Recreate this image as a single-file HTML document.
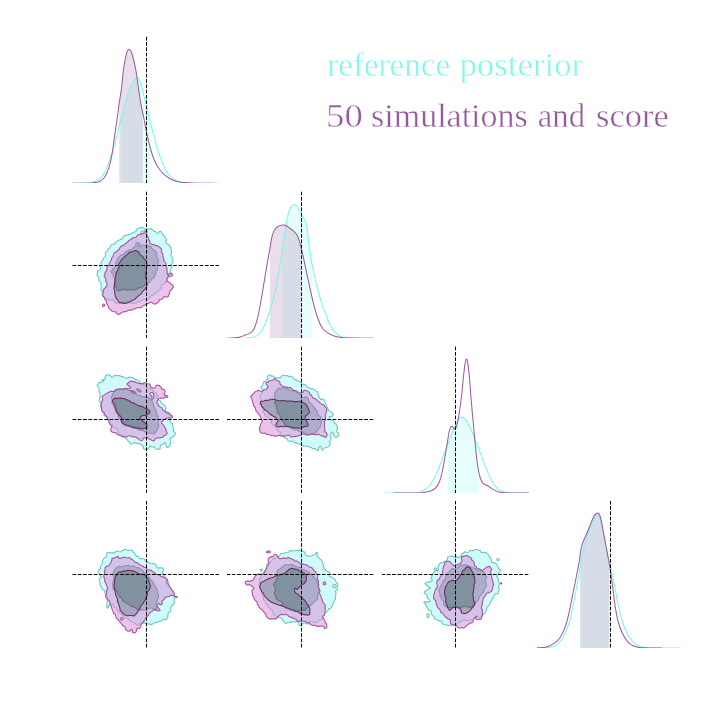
<!DOCTYPE html>
<html><head><meta charset="utf-8"><title>corner plot</title>
<style>html,body{margin:0;padding:0;background:#fff}svg{display:block}text{font-family:"Liberation Serif",serif}</style></head><body>
<svg width="720" height="720" viewBox="0 0 720 720">
<rect width="720" height="720" fill="#fff"/>
<defs>
<clipPath id="c00"><rect x="72" y="36" width="147" height="147"/></clipPath>
<clipPath id="c10"><rect x="72" y="191" width="147" height="147"/></clipPath>
<clipPath id="c11"><rect x="227" y="191" width="147" height="147"/></clipPath>
<clipPath id="c20"><rect x="72" y="346" width="147" height="147"/></clipPath>
<clipPath id="c21"><rect x="227" y="346" width="147" height="147"/></clipPath>
<clipPath id="c22"><rect x="382" y="346" width="147" height="147"/></clipPath>
<clipPath id="c30"><rect x="72" y="501" width="147" height="147"/></clipPath>
<clipPath id="c31"><rect x="227" y="501" width="147" height="147"/></clipPath>
<clipPath id="c32"><rect x="382" y="501" width="147" height="147"/></clipPath>
<clipPath id="c33"><rect x="537" y="501" width="147" height="147"/></clipPath>
</defs>
<g clip-path="url(#c00)">
<path d="M120.80 183.47 L120.80 120.21 L121.18 118.71 L121.70 116.70 L122.22 114.74 L122.73 112.80 L123.24 110.89 L123.75 109.00 L124.26 107.14 L124.77 105.30 L125.28 103.49 L125.80 101.70 L126.32 99.91 L126.84 98.12 L127.37 96.33 L127.89 94.58 L128.42 92.88 L128.95 91.25 L129.47 89.72 L130.00 88.30 L130.53 86.98 L131.08 85.74 L131.64 84.58 L132.19 83.50 L132.73 82.50 L133.25 81.58 L133.74 80.75 L134.20 80.00 L134.62 79.32 L134.99 78.70 L135.34 78.15 L135.67 77.69 L136.00 77.33 L136.32 77.08 L136.65 76.97 L137.00 77.00 L137.36 77.17 L137.73 77.47 L138.10 77.90 L138.47 78.44 L138.84 79.09 L139.22 79.86 L139.61 80.73 L140.00 81.70 L140.40 82.81 L140.80 84.07 L141.21 85.47 L141.62 86.96 L142.04 88.51 L142.46 90.11 L142.88 91.72 L143.30 93.30 L143.72 94.88 L144.15 96.49 L144.57 98.12 L145.00 99.79 L145.43 101.48 L145.85 103.20 L146.28 104.94 L146.70 106.70 L147.11 108.50 L147.51 110.34 L147.91 112.21 L148.30 114.10 L148.70 116.00 L149.11 117.91 L149.55 119.81 L150.00 121.70 L150.48 123.58 L150.80 124.75 L150.80 183.47 Z" fill="#80F8EC" fill-opacity="0.2"/>
<path d="M119.20 183.47 L119.20 103.30 L119.20 103.30 L119.50 101.22 L119.82 99.15 L120.15 97.07 L120.48 95.00 L120.81 92.93 L121.12 90.85 L121.42 88.78 L121.70 86.70 L121.94 84.60 L122.16 82.48 L122.36 80.35 L122.54 78.22 L122.73 76.11 L122.93 74.02 L123.15 71.98 L123.40 70.00 L123.69 68.02 L124.01 65.99 L124.35 63.97 L124.71 62.00 L125.06 60.12 L125.40 58.38 L125.72 56.83 L126.00 55.50 L126.25 54.42 L126.47 53.56 L126.68 52.88 L126.87 52.34 L127.05 51.90 L127.23 51.53 L127.41 51.17 L127.60 50.80 L127.79 50.43 L127.98 50.10 L128.17 49.83 L128.35 49.60 L128.53 49.42 L128.72 49.30 L128.91 49.22 L129.10 49.20 L129.29 49.23 L129.49 49.33 L129.68 49.47 L129.87 49.66 L130.07 49.91 L130.28 50.19 L130.48 50.53 L130.70 50.90 L130.91 51.27 L131.12 51.61 L131.33 51.98 L131.55 52.40 L131.78 52.92 L132.03 53.59 L132.30 54.43 L132.60 55.50 L132.94 56.82 L133.33 58.38 L133.74 60.12 L134.16 61.99 L134.59 63.97 L135.02 65.99 L135.42 68.01 L135.80 70.00 L136.15 71.98 L136.47 74.02 L136.79 76.11 L137.09 78.22 L137.39 80.35 L137.69 82.48 L137.99 84.60 L138.30 86.70 L138.61 88.78 L138.90 90.85 L139.20 92.93 L139.49 95.00 L139.80 97.07 L140.11 99.15 L140.44 101.22 L140.80 103.30 L141.18 105.38 L141.59 107.47 L142.01 109.56 L142.45 111.64 L142.80 113.30 L142.80 183.47 Z" fill="#96589A" fill-opacity="0.2"/>
<path d="M72.00 183.15C73.67 183.15 79.28 183.22 82.00 183.15C84.72 183.08 86.13 183.06 88.30 182.75C90.47 182.44 93.05 182.04 95.00 181.30C96.95 180.56 98.33 179.90 100.00 178.30C101.67 176.70 103.47 174.47 105.00 171.70C106.53 168.93 107.82 165.60 109.20 161.70C110.58 157.80 111.92 153.03 113.30 148.30C114.68 143.57 116.10 138.57 117.50 133.30C118.90 128.03 120.32 121.97 121.70 116.70C123.08 111.43 124.42 106.43 125.80 101.70C127.18 96.97 128.60 91.92 130.00 88.30C131.40 84.68 133.03 81.88 134.20 80.00C135.37 78.12 136.03 76.72 137.00 77.00C137.97 77.28 138.95 78.98 140.00 81.70C141.05 84.42 142.18 89.13 143.30 93.30C144.42 97.47 145.58 101.97 146.70 106.70C147.82 111.43 148.75 116.70 150.00 121.70C151.25 126.70 152.82 131.70 154.20 136.70C155.58 141.70 156.78 146.98 158.30 151.70C159.82 156.42 161.63 161.25 163.30 165.00C164.97 168.75 166.35 171.70 168.30 174.20C170.25 176.70 173.13 178.67 175.00 180.00C176.87 181.33 178.00 181.69 179.50 182.20C181.00 182.71 181.42 182.86 184.00 183.05C186.58 183.24 189.17 183.30 195.00 183.35C200.83 183.40 215.00 183.35 219.00 183.35" fill="none" stroke="#78F7EA" stroke-width="1.02"/>
<path d="M72.00 183.15C74.67 183.15 84.50 183.20 88.00 183.15C91.50 183.10 91.58 182.99 93.00 182.85C94.42 182.71 95.33 182.56 96.50 182.30C97.67 182.04 98.58 182.23 100.00 181.30C101.42 180.37 103.47 179.13 105.00 176.70C106.53 174.27 108.00 170.60 109.20 166.70C110.40 162.80 111.32 158.30 112.20 153.30C113.08 148.30 113.70 142.25 114.50 136.70C115.30 131.15 116.22 125.57 117.00 120.00C117.78 114.43 118.42 108.85 119.20 103.30C119.98 97.75 121.00 92.25 121.70 86.70C122.40 81.15 122.68 75.20 123.40 70.00C124.12 64.80 125.30 58.70 126.00 55.50C126.70 52.30 127.08 51.85 127.60 50.80C128.12 49.75 128.58 49.18 129.10 49.20C129.62 49.22 130.12 49.85 130.70 50.90C131.28 51.95 131.75 52.32 132.60 55.50C133.45 58.68 134.85 64.80 135.80 70.00C136.75 75.20 137.47 81.15 138.30 86.70C139.13 92.25 139.82 97.75 140.80 103.30C141.78 108.85 143.08 114.43 144.20 120.00C145.32 125.57 146.40 131.70 147.50 136.70C148.60 141.70 149.55 145.83 150.80 150.00C152.05 154.17 153.47 158.37 155.00 161.70C156.53 165.03 158.05 167.50 160.00 170.00C161.95 172.50 164.48 174.98 166.70 176.70C168.92 178.42 171.25 179.47 173.30 180.30C175.35 181.13 177.05 181.33 179.00 181.70C180.95 182.07 182.67 182.28 185.00 182.50C187.33 182.72 190.00 182.87 193.00 183.00C196.00 183.13 198.67 183.23 203.00 183.30C207.33 183.37 216.33 183.38 219.00 183.40" fill="none" stroke="#985A9C" stroke-width="1.02"/>
</g>
<g clip-path="url(#c11)">
<path d="M282.00 338.31 L282.00 251.39 L282.00 251.35 L282.31 249.47 L282.61 247.62 L282.91 245.79 L283.20 243.97 L283.50 242.12 L283.80 240.24 L284.10 238.30 L284.40 236.26 L284.70 234.11 L285.00 231.91 L285.31 229.69 L285.61 227.52 L285.91 225.43 L286.20 223.47 L286.50 221.70 L286.79 220.09 L287.08 218.60 L287.37 217.21 L287.66 215.92 L287.95 214.73 L288.23 213.61 L288.52 212.57 L288.80 211.60 L289.07 210.71 L289.33 209.92 L289.59 209.22 L289.84 208.60 L290.11 208.04 L290.38 207.53 L290.68 207.05 L291.00 206.60 L291.36 206.17 L291.75 205.78 L292.16 205.43 L292.58 205.13 L293.01 204.88 L293.43 204.69 L293.83 204.56 L294.20 204.50 L294.55 204.51 L294.87 204.59 L295.19 204.73 L295.49 204.93 L295.79 205.18 L296.09 205.48 L296.39 205.82 L296.70 206.20 L297.01 206.63 L297.31 207.12 L297.60 207.66 L297.90 208.24 L298.20 208.85 L298.52 209.49 L298.85 210.14 L299.20 210.80 L299.58 211.49 L299.99 212.23 L300.41 213.00 L300.85 213.78 L301.29 214.56 L301.71 215.32 L302.12 216.04 L302.50 216.70 L302.86 217.29 L303.20 217.81 L303.53 218.29 L303.85 218.75 L304.16 219.21 L304.45 219.69 L304.73 220.21 L305.00 220.80 L305.25 221.41 L305.48 222.01 L305.70 222.63 L305.91 223.28 L306.10 223.99 L306.30 224.78 L306.50 225.68 L306.70 226.70 L306.90 227.86 L307.10 229.16 L307.30 230.55 L307.50 232.03 L307.70 233.57 L307.90 235.14 L308.10 236.72 L308.30 238.30 L308.50 239.88 L308.70 241.49 L308.90 243.12 L309.09 244.79 L309.30 246.48 L309.52 248.20 L309.75 249.94 L310.00 251.70 L310.27 253.50 L310.55 255.34 L310.84 257.21 L311.15 259.10 L311.47 261.00 L311.80 262.91 L312.00 264.02 L312.00 338.31 Z" fill="#80F8EC" fill-opacity="0.2"/>
<path d="M269.90 338.31 L269.90 248.29 L270.19 246.71 L270.50 245.00 L270.77 243.47 L271.00 242.09 L271.21 240.85 L271.39 239.72 L271.58 238.67 L271.76 237.69 L271.97 236.74 L272.20 235.80 L272.45 234.90 L272.72 234.05 L272.99 233.27 L273.27 232.53 L273.56 231.84 L273.86 231.19 L274.17 230.58 L274.50 230.00 L274.83 229.46 L275.15 228.96 L275.49 228.51 L275.83 228.09 L276.20 227.71 L276.59 227.35 L277.02 227.02 L277.50 226.70 L278.04 226.40 L278.65 226.11 L279.30 225.85 L279.98 225.61 L280.66 225.41 L281.32 225.23 L281.94 225.10 L282.50 225.00 L282.99 224.94 L283.42 224.92 L283.82 224.93 L284.20 224.97 L284.57 225.05 L284.95 225.16 L285.36 225.31 L285.80 225.50 L286.28 225.74 L286.79 226.02 L287.31 226.36 L287.84 226.72 L288.39 227.10 L288.93 227.50 L289.47 227.91 L290.00 228.30 L290.53 228.69 L291.07 229.09 L291.61 229.50 L292.16 229.92 L292.69 230.35 L293.21 230.79 L293.72 231.24 L294.20 231.70 L294.66 232.16 L295.11 232.60 L295.54 233.04 L295.96 233.49 L296.36 233.98 L296.75 234.52 L297.13 235.12 L297.50 235.80 L297.85 236.56 L298.18 237.38 L298.50 238.25 L298.80 239.18 L299.10 240.15 L299.39 241.17 L299.69 242.22 L300.00 243.30 L300.31 244.42 L300.62 245.58 L300.90 246.65 L300.90 338.31 Z" fill="#96589A" fill-opacity="0.2"/>
<path d="M227.00 338.20C229.17 338.20 236.67 338.25 240.00 338.20C243.33 338.15 244.63 338.12 247.00 337.90C249.37 337.68 252.13 337.59 254.20 336.90C256.27 336.21 257.85 335.32 259.40 333.75C260.95 332.18 262.12 330.29 263.50 327.50C264.88 324.71 266.48 320.30 267.70 317.00C268.92 313.70 269.83 310.87 270.80 307.70C271.77 304.53 272.67 301.23 273.50 298.00C274.33 294.77 274.85 292.97 275.80 288.30C276.75 283.63 278.22 275.83 279.20 270.00C280.18 264.17 280.88 258.58 281.70 253.30C282.52 248.02 283.30 243.57 284.10 238.30C284.90 233.03 285.72 226.15 286.50 221.70C287.28 217.25 288.05 214.12 288.80 211.60C289.55 209.08 290.10 207.78 291.00 206.60C291.90 205.42 293.25 204.57 294.20 204.50C295.15 204.43 295.87 205.15 296.70 206.20C297.53 207.25 298.23 209.05 299.20 210.80C300.17 212.55 301.53 215.03 302.50 216.70C303.47 218.37 304.30 219.13 305.00 220.80C305.70 222.47 306.15 223.78 306.70 226.70C307.25 229.62 307.75 234.13 308.30 238.30C308.85 242.47 309.30 246.97 310.00 251.70C310.70 256.43 311.53 261.70 312.50 266.70C313.47 271.70 314.68 276.98 315.80 281.70C316.92 286.42 318.08 291.07 319.20 295.00C320.32 298.93 321.37 301.97 322.50 305.30C323.63 308.63 324.72 311.65 326.00 315.00C327.28 318.35 328.63 322.45 330.20 325.40C331.77 328.35 333.67 330.87 335.40 332.70C337.13 334.53 338.50 335.55 340.60 336.40C342.70 337.25 345.43 337.50 348.00 337.80C350.57 338.10 351.67 338.13 356.00 338.20C360.33 338.27 371.00 338.20 374.00 338.20" fill="none" stroke="#78F7EA" stroke-width="1.02"/>
<path d="M227.00 338.20C228.00 338.15 230.90 338.05 233.00 337.90C235.10 337.75 237.47 337.82 239.60 337.30C241.73 336.78 243.90 335.57 245.80 334.80C247.70 334.03 249.60 333.75 251.00 332.70C252.40 331.65 253.15 330.75 254.20 328.50C255.25 326.25 256.23 323.45 257.30 319.20C258.37 314.95 259.45 309.25 260.60 303.00C261.75 296.75 263.05 288.58 264.20 281.70C265.35 274.82 266.45 267.82 267.50 261.70C268.55 255.58 269.72 249.32 270.50 245.00C271.28 240.68 271.53 238.30 272.20 235.80C272.87 233.30 273.62 231.52 274.50 230.00C275.38 228.48 276.17 227.53 277.50 226.70C278.83 225.87 281.12 225.20 282.50 225.00C283.88 224.80 284.55 224.95 285.80 225.50C287.05 226.05 288.60 227.27 290.00 228.30C291.40 229.33 292.95 230.45 294.20 231.70C295.45 232.95 296.53 233.87 297.50 235.80C298.47 237.73 299.17 240.38 300.00 243.30C300.83 246.22 301.67 249.68 302.50 253.30C303.33 256.92 304.17 261.10 305.00 265.00C305.83 268.90 306.67 272.82 307.50 276.70C308.33 280.58 309.08 284.13 310.00 288.30C310.92 292.47 311.88 297.25 313.00 301.70C314.12 306.15 315.40 311.05 316.70 315.00C318.00 318.95 319.25 322.62 320.80 325.40C322.35 328.18 323.92 329.97 326.00 331.70C328.08 333.43 330.68 334.83 333.30 335.80C335.92 336.77 338.25 337.13 341.70 337.50C345.15 337.87 348.62 337.88 354.00 338.00C359.38 338.12 370.67 338.17 374.00 338.20" fill="none" stroke="#985A9C" stroke-width="1.02"/>
</g>
<g clip-path="url(#c22)">
<path d="M447.70 493.15 L447.70 444.86 L447.78 444.65 L448.30 443.30 L448.83 441.88 L449.36 440.39 L449.91 438.86 L450.45 437.32 L450.99 435.80 L451.51 434.34 L452.02 432.96 L452.50 431.70 L452.95 430.55 L453.39 429.49 L453.80 428.50 L454.20 427.57 L454.59 426.69 L454.99 425.84 L455.39 425.01 L455.80 424.20 L456.22 423.39 L456.65 422.60 L457.09 421.82 L457.52 421.09 L457.95 420.40 L458.38 419.76 L458.79 419.19 L459.20 418.70 L459.60 418.28 L459.98 417.93 L460.36 417.63 L460.74 417.40 L461.11 417.22 L461.47 417.10 L461.84 417.02 L462.20 417.00 L462.56 417.02 L462.90 417.10 L463.24 417.22 L463.58 417.40 L463.92 417.63 L464.27 417.93 L464.63 418.28 L465.00 418.70 L465.39 419.20 L465.79 419.78 L466.20 420.44 L466.61 421.14 L467.03 421.89 L467.46 422.66 L467.88 423.43 L468.30 424.20 L468.72 424.96 L469.15 425.73 L469.57 426.52 L470.00 427.32 L470.43 428.14 L470.85 429.00 L471.28 429.88 L471.70 430.80 L472.11 431.75 L472.51 432.72 L472.91 433.71 L473.30 434.74 L473.70 435.80 L474.11 436.89 L474.55 438.02 L475.00 439.20 L475.48 440.43 L475.99 441.73 L476.52 443.07 L477.06 444.44 L477.60 445.83 L478.14 447.23 L478.30 447.64 L478.30 493.15 Z" fill="#80F8EC" fill-opacity="0.2"/>
<path d="M384.00 493.10C388.67 493.10 406.25 493.17 412.00 493.10C417.75 493.03 416.37 493.30 418.50 492.70C420.63 492.10 422.88 490.82 424.80 489.50C426.72 488.18 428.27 486.97 430.00 484.80C431.73 482.63 433.50 479.88 435.20 476.50C436.90 473.12 438.70 468.30 440.20 464.50C441.70 460.70 442.85 457.23 444.20 453.70C445.55 450.17 446.92 446.97 448.30 443.30C449.68 439.63 451.25 434.88 452.50 431.70C453.75 428.52 454.68 426.37 455.80 424.20C456.92 422.03 458.13 419.90 459.20 418.70C460.27 417.50 461.23 417.00 462.20 417.00C463.17 417.00 463.98 417.50 465.00 418.70C466.02 419.90 467.18 422.18 468.30 424.20C469.42 426.22 470.58 428.30 471.70 430.80C472.82 433.30 473.75 436.00 475.00 439.20C476.25 442.40 477.83 446.37 479.20 450.00C480.57 453.63 481.85 457.46 483.20 461.00C484.55 464.54 485.92 467.98 487.30 471.25C488.68 474.52 489.93 477.83 491.50 480.60C493.07 483.38 494.97 486.10 496.70 487.90C498.43 489.70 499.82 490.58 501.90 491.40C503.98 492.22 506.52 492.52 509.20 492.80C511.88 493.08 514.70 493.05 518.00 493.10C521.30 493.15 527.17 493.10 529.00 493.10" fill="none" stroke="#78F7EA" stroke-width="1.02"/>
<path d="M393.50 493.10C397.08 493.10 410.30 493.15 415.00 493.10C419.70 493.05 419.20 493.10 421.70 492.80C424.20 492.50 427.75 492.05 430.00 491.30C432.25 490.55 433.63 489.90 435.20 488.30C436.77 486.70 438.18 484.67 439.40 481.70C440.62 478.73 441.57 474.67 442.50 470.50C443.43 466.33 444.17 461.50 445.00 456.70C445.83 451.90 446.80 445.87 447.50 441.70C448.20 437.53 448.65 434.17 449.20 431.70C449.75 429.23 450.30 427.80 450.80 426.90C451.30 426.00 451.70 426.07 452.20 426.30C452.70 426.53 453.33 427.82 453.80 428.30C454.27 428.78 454.52 429.62 455.00 429.20C455.48 428.78 456.00 428.45 456.70 425.80C457.40 423.15 458.37 418.43 459.20 413.30C460.03 408.17 461.02 400.83 461.70 395.00C462.38 389.17 462.75 383.43 463.30 378.30C463.85 373.17 464.50 367.38 465.00 364.20C465.50 361.02 465.88 359.62 466.30 359.20C466.72 358.78 467.02 359.07 467.50 361.70C467.98 364.33 468.65 369.45 469.20 375.00C469.75 380.55 470.25 388.33 470.80 395.00C471.35 401.67 471.93 408.62 472.50 415.00C473.07 421.38 473.65 427.47 474.20 433.30C474.75 439.13 475.22 444.55 475.80 450.00C476.38 455.45 476.93 461.25 477.70 466.00C478.47 470.75 479.50 475.62 480.40 478.50C481.30 481.38 481.78 482.01 483.10 483.30C484.42 484.59 486.57 485.20 488.30 486.25C490.03 487.30 491.76 488.66 493.50 489.60C495.24 490.54 496.83 491.37 498.75 491.90C500.67 492.43 502.29 492.60 505.00 492.80C507.71 493.00 511.00 493.05 515.00 493.10C519.00 493.15 526.67 493.10 529.00 493.10" fill="none" stroke="#985A9C" stroke-width="1.02"/>
</g>
<g clip-path="url(#c33)">
<path d="M580.20 647.99 L580.20 567.34 L580.20 567.32 L580.51 565.43 L580.80 563.59 L581.10 561.79 L581.39 560.03 L581.70 558.30 L582.01 556.61 L582.31 554.96 L582.60 553.35 L582.90 551.79 L583.20 550.25 L583.52 548.75 L583.85 547.26 L584.20 545.80 L584.57 544.36 L584.97 542.94 L585.38 541.56 L585.80 540.19 L586.23 538.86 L586.66 537.55 L587.08 536.26 L587.50 535.00 L587.91 533.76 L588.32 532.55 L588.73 531.36 L589.14 530.19 L589.56 529.06 L589.97 527.94 L590.38 526.86 L590.80 525.80 L591.22 524.75 L591.65 523.71 L592.07 522.68 L592.50 521.68 L592.93 520.73 L593.35 519.84 L593.78 519.02 L594.20 518.30 L594.62 517.64 L595.05 517.02 L595.48 516.46 L595.91 515.97 L596.33 515.57 L596.73 515.26 L597.13 515.07 L597.50 515.00 L597.85 515.05 L598.18 515.20 L598.50 515.46 L598.80 515.82 L599.10 516.28 L599.39 516.85 L599.69 517.52 L600.00 518.30 L600.31 519.21 L600.62 520.25 L600.94 521.41 L601.25 522.67 L601.56 524.01 L601.88 525.40 L602.19 526.84 L602.50 528.30 L602.81 529.79 L603.11 531.34 L603.40 532.94 L603.70 534.59 L604.00 536.29 L604.32 538.05 L604.65 539.85 L605.00 541.70 L605.37 543.64 L605.77 545.70 L606.17 547.83 L606.59 550.00 L607.02 552.17 L607.45 554.30 L607.88 556.36 L608.30 558.30 L608.72 560.11 L609.15 561.80 L609.40 562.77 L609.40 647.99 Z" fill="#80F8EC" fill-opacity="0.2"/>
<path d="M580.20 647.99 L580.20 554.21 L580.23 553.95 L580.41 552.54 L580.60 551.21 L580.80 550.00 L581.00 548.93 L581.18 547.99 L581.36 547.16 L581.54 546.39 L581.74 545.65 L581.96 544.91 L582.21 544.14 L582.50 543.30 L582.84 542.41 L583.21 541.50 L583.62 540.58 L584.04 539.65 L584.48 538.71 L584.93 537.75 L585.37 536.78 L585.80 535.80 L586.22 534.80 L586.65 533.78 L587.07 532.75 L587.50 531.70 L587.93 530.65 L588.35 529.59 L588.78 528.54 L589.20 527.50 L589.62 526.44 L590.05 525.34 L590.48 524.22 L590.91 523.11 L591.33 522.03 L591.73 521.01 L592.13 520.06 L592.50 519.20 L592.85 518.44 L593.17 517.74 L593.48 517.11 L593.78 516.54 L594.08 516.02 L594.37 515.54 L594.68 515.10 L595.00 514.70 L595.34 514.33 L595.70 513.99 L596.07 513.69 L596.44 513.44 L596.80 513.24 L597.16 513.10 L597.49 513.02 L597.80 513.00 L598.08 513.05 L598.35 513.15 L598.59 513.31 L598.82 513.53 L599.05 513.81 L599.27 514.15 L599.48 514.54 L599.70 515.00 L599.91 515.51 L600.11 516.06 L600.30 516.67 L600.49 517.34 L600.68 518.08 L600.88 518.90 L601.08 519.80 L601.30 520.80 L601.53 521.90 L601.76 523.11 L602.00 524.41 L602.24 525.78 L602.50 527.21 L602.76 528.69 L603.02 530.19 L603.30 531.70 L603.59 533.25 L603.89 534.86 L604.20 536.51 L604.52 538.20 L604.84 539.91 L605.16 541.62 L605.48 543.32 L605.80 545.00 L606.11 546.65 L606.42 548.29 L606.74 549.91 L607.05 551.54 L607.36 553.19 L607.67 554.86 L607.99 556.56 L608.30 558.30 L608.61 560.07 L608.92 561.85 L609.24 563.65 L609.40 564.60 L609.40 647.99 Z" fill="#96589A" fill-opacity="0.2"/>
<path d="M537.00 647.90C537.83 647.90 540.17 647.95 542.00 647.90C543.83 647.85 545.70 648.02 548.00 647.60C550.30 647.18 553.47 646.88 555.80 645.40C558.13 643.92 560.26 641.25 562.00 638.75C563.74 636.25 564.97 633.36 566.25 630.40C567.53 627.44 568.66 624.68 569.70 621.00C570.74 617.32 571.48 613.18 572.50 608.30C573.52 603.42 574.68 597.53 575.80 591.70C576.92 585.87 578.22 578.87 579.20 573.30C580.18 567.73 580.87 562.88 581.70 558.30C582.53 553.72 583.23 549.68 584.20 545.80C585.17 541.92 586.40 538.33 587.50 535.00C588.60 531.67 589.68 528.58 590.80 525.80C591.92 523.02 593.08 520.10 594.20 518.30C595.32 516.50 596.53 515.00 597.50 515.00C598.47 515.00 599.17 516.08 600.00 518.30C600.83 520.52 601.67 524.40 602.50 528.30C603.33 532.20 604.03 536.70 605.00 541.70C605.97 546.70 607.18 553.30 608.30 558.30C609.42 563.30 610.58 566.70 611.70 571.70C612.82 576.70 613.90 582.75 615.00 588.30C616.10 593.85 617.05 599.38 618.30 605.00C619.55 610.62 621.10 617.42 622.50 622.00C623.90 626.58 625.13 629.37 626.70 632.50C628.27 635.63 630.18 638.68 631.90 640.80C633.62 642.92 635.10 644.13 637.00 645.20C638.90 646.27 640.85 646.75 643.30 647.20C645.75 647.65 645.58 647.78 651.70 647.90C657.82 648.02 675.28 647.90 680.00 647.90" fill="none" stroke="#78F7EA" stroke-width="1.02"/>
<path d="M537.00 647.90C537.50 647.87 538.42 647.87 540.00 647.70C541.58 647.53 544.03 647.70 546.50 646.90C548.97 646.10 552.55 644.43 554.80 642.90C557.05 641.37 558.43 639.95 560.00 637.70C561.57 635.45 563.03 632.18 564.20 629.40C565.37 626.62 566.03 624.52 567.00 621.00C567.97 617.48 568.95 613.18 570.00 608.30C571.05 603.42 572.18 597.25 573.30 591.70C574.42 586.15 575.72 580.00 576.70 575.00C577.68 570.00 578.52 565.87 579.20 561.70C579.88 557.53 580.25 553.07 580.80 550.00C581.35 546.93 581.67 545.67 582.50 543.30C583.33 540.93 584.68 538.43 585.80 535.80C586.92 533.17 588.08 530.27 589.20 527.50C590.32 524.73 591.53 521.33 592.50 519.20C593.47 517.07 594.12 515.73 595.00 514.70C595.88 513.67 597.02 512.95 597.80 513.00C598.58 513.05 599.12 513.70 599.70 515.00C600.28 516.30 600.70 518.02 601.30 520.80C601.90 523.58 602.55 527.67 603.30 531.70C604.05 535.73 604.97 540.57 605.80 545.00C606.63 549.43 607.47 553.58 608.30 558.30C609.13 563.02 609.97 567.73 610.80 573.30C611.63 578.87 612.52 585.87 613.30 591.70C614.08 597.53 614.63 603.08 615.50 608.30C616.37 613.52 617.33 618.80 618.50 623.00C619.67 627.20 620.97 630.35 622.50 633.50C624.03 636.65 625.95 639.85 627.70 641.90C629.45 643.95 631.08 644.87 633.00 645.80C634.92 646.73 636.70 647.15 639.20 647.50C641.70 647.85 644.20 647.83 648.00 647.90C651.80 647.97 659.67 647.90 662.00 647.90" fill="none" stroke="#985A9C" stroke-width="1.02"/>
</g>
<g clip-path="url(#c10)">
<path d="M146.9 230.5L147.4 229.0L149.0 229.0L150.1 228.6L151.4 228.6L152.0 229.3L153.1 230.1L153.8 231.1L155.1 231.4L156.1 232.0L157.0 233.3L158.3 232.9L159.2 231.8L160.1 231.3L161.2 231.6L161.7 232.7L162.0 234.0L163.0 234.4L163.8 235.1L164.2 236.3L164.9 237.0L165.7 237.9L166.1 239.0L166.4 240.2L165.8 241.3L165.7 242.8L166.9 243.6L167.6 244.3L168.6 244.8L169.6 245.5L170.1 246.4L170.8 247.2L171.2 248.3L170.7 249.5L170.9 250.3L171.6 251.3L171.6 252.4L171.3 253.4L171.1 254.4L170.8 255.5L171.3 256.5L172.3 257.2L172.3 258.4L172.4 259.4L172.9 260.3L173.0 261.3L172.7 262.2L172.4 263.2L171.8 264.0L171.3 264.8L171.7 266.1L172.0 267.3L171.2 268.2L170.8 269.1L170.6 270.0L170.0 271.2L170.0 272.2L169.7 273.1L168.5 273.6L168.4 275.2L168.6 275.9L168.0 276.7L167.5 277.7L167.2 278.7L166.9 279.6L166.9 280.6L166.8 281.7L165.9 282.2L164.9 282.5L164.3 283.5L163.5 284.2L162.4 284.6L161.8 285.3L161.3 286.2L160.9 287.1L161.1 288.4L160.8 289.4L159.5 289.8L158.6 290.3L158.1 291.1L157.3 291.7L156.6 292.3L155.9 293.1L154.9 293.4L154.1 293.9L153.6 294.9L152.9 295.4L151.6 295.4L150.7 296.0L150.3 296.9L149.7 297.6L149.2 298.5L148.5 299.3L147.5 299.3L146.6 299.0L145.7 299.3L144.9 299.8L143.9 299.7L142.9 299.6L142.0 300.2L141.2 300.7L140.4 301.2L139.6 302.0L138.5 302.0L137.2 301.6L136.4 302.2L135.6 303.1L134.5 303.2L133.6 303.4L132.7 303.4L131.8 302.9L130.8 302.8L129.8 302.9L128.9 302.2L128.0 301.5L126.9 301.9L126.0 302.3L125.1 302.3L124.1 302.4L123.1 302.2L121.9 301.8L121.0 302.2L120.3 303.1L119.3 303.2L118.5 303.0L117.6 303.2L116.6 303.2L115.8 302.7L115.0 302.1L114.3 301.4L113.9 300.3L113.1 299.7L112.0 300.0L110.9 300.4L109.9 299.9L108.9 299.8L107.9 299.6L107.1 299.1L106.3 298.8L105.4 298.5L105.0 297.6L104.4 296.8L103.3 296.6L102.4 296.0L102.3 294.8L102.3 293.7L102.2 292.6L102.1 291.6L101.2 290.7L100.7 289.8L101.1 288.8L101.3 287.8L101.0 286.9L101.0 285.9L101.2 285.0L100.9 283.9L100.8 282.9L100.3 281.9L99.0 281.3L98.7 280.2L99.1 279.0L98.8 278.0L98.3 277.0L97.9 276.1L97.2 275.3L97.0 274.4L97.5 273.3L97.4 272.3L97.5 271.2L98.5 270.6L99.5 270.2L100.1 269.4L100.7 268.5L100.8 267.4L100.4 266.6L100.7 265.6L101.3 264.5L101.0 263.5L100.9 262.5L101.6 261.8L102.1 261.1L102.7 260.3L103.3 259.6L103.6 258.6L103.7 257.6L104.8 256.9L105.6 256.0L105.3 254.8L105.4 253.7L105.7 252.7L106.0 251.7L106.9 251.1L107.6 250.3L107.8 249.2L108.6 248.6L109.6 248.2L110.1 247.3L110.4 246.2L111.1 245.4L111.8 244.6L112.8 244.2L114.2 244.2L114.9 243.3L115.4 242.2L116.4 241.9L117.2 241.4L118.0 240.6L118.9 240.3L119.8 239.8L120.5 239.3L121.6 239.3L122.7 238.9L122.8 237.6L123.0 236.5L123.8 235.9L124.7 235.5L125.6 235.2L126.6 235.4L127.6 235.1L128.5 234.5L129.5 234.5L130.5 234.4L131.2 233.5L131.9 232.7L132.9 232.6L133.9 232.3L134.9 231.9L135.9 231.5L136.2 230.3L136.5 229.1L137.5 228.8L138.6 228.5L139.5 227.7L140.5 227.5L141.4 227.4L142.5 227.4L143.3 228.0L144.1 228.3L145.5 229.3L144.7 230.7L143.7 230.9L142.7 231.2L141.9 231.5L141.0 232.2L140.8 232.8L141.1 233.5L141.7 234.6L142.5 234.3L143.4 233.6L144.6 233.6L145.5 233.2L146.1 232.3L146.7 231.5ZM137.6 242.4L138.8 242.8L139.7 243.7L139.2 245.1L138.3 246.5L139.7 246.8L140.6 245.8L142.0 245.4L142.9 245.3L143.9 245.1L145.1 245.2L146.1 245.0L147.0 244.9L147.8 245.6L148.4 246.1L149.5 246.2L150.4 246.5L151.1 247.2L151.8 248.0L152.4 248.9L152.9 249.8L154.2 250.1L155.2 250.8L155.6 252.0L156.2 252.6L156.7 253.4L156.7 254.3L156.7 255.3L156.8 256.3L156.8 257.4L157.4 258.3L158.4 259.1L158.5 260.2L158.1 261.3L158.2 262.2L158.1 263.2L157.8 264.2L157.8 265.2L157.5 266.2L157.2 267.2L157.6 268.3L157.5 269.4L156.6 270.2L156.0 271.1L155.8 272.2L155.6 273.2L155.7 274.4L155.2 275.4L154.4 276.2L154.1 277.1L153.7 278.0L152.6 278.5L151.8 279.0L151.2 279.8L150.7 280.5L150.2 281.5L149.7 282.4L148.7 282.7L147.6 282.8L146.9 283.6L146.3 284.3L145.4 284.7L144.6 285.2L143.8 285.9L142.9 286.4L142.1 287.1L141.4 287.7L140.3 287.6L139.2 287.5L138.4 288.2L137.6 288.9L136.7 289.3L135.8 289.6L134.7 289.7L133.6 289.6L132.6 290.0L131.6 290.1L130.5 289.5L129.5 289.7L128.4 290.2L127.3 290.1L126.2 290.0L125.2 289.4L124.2 288.9L123.2 289.2L122.3 289.8L121.3 289.9L120.4 290.2L119.7 290.8L118.8 290.9L117.9 290.3L117.0 289.4L116.7 288.2L116.2 287.3L115.2 286.7L114.8 285.8L115.1 284.8L115.1 283.8L115.0 282.8L115.1 281.8L114.8 280.7L114.7 279.7L114.9 278.7L114.3 277.7L113.4 276.9L113.3 276.0L113.3 275.0L112.7 274.0L112.1 273.1L111.5 272.5L111.3 271.6L111.9 270.6L112.8 269.8L113.0 268.6L113.5 267.9L114.4 267.4L115.0 266.8L115.6 266.0L116.1 265.1L115.9 264.0L115.7 262.9L116.5 261.9L117.0 261.0L117.0 260.0L117.5 259.1L118.0 258.3L118.3 257.6L118.9 256.9L119.6 256.4L120.2 255.7L120.9 255.0L121.9 254.9L123.1 254.8L123.7 254.1L124.3 253.2L125.1 252.5L125.8 251.7L126.7 251.3L127.8 251.1L128.6 250.3L129.4 249.8L130.7 249.9L131.6 249.4L132.4 248.6L133.1 248.0L133.9 247.0L135.1 246.5L136.2 245.8L135.9 244.3L136.0 243.1L136.8 242.8Z" fill="#A3FAF7" fill-opacity="0.52" fill-rule="evenodd" stroke="none"/>
<path d="M137.6 242.4L138.8 242.8L139.7 243.7L139.2 245.1L138.3 246.5L139.7 246.8L140.6 245.8L142.0 245.4L142.9 245.3L143.9 245.1L145.1 245.2L146.1 245.0L147.0 244.9L147.8 245.6L148.4 246.1L149.5 246.2L150.4 246.5L151.1 247.2L151.8 248.0L152.4 248.9L152.9 249.8L154.2 250.1L155.2 250.8L155.6 252.0L156.2 252.6L156.7 253.4L156.7 254.3L156.7 255.3L156.8 256.3L156.8 257.4L157.4 258.3L158.4 259.1L158.5 260.2L158.1 261.3L158.2 262.2L158.1 263.2L157.8 264.2L157.8 265.2L157.5 266.2L157.2 267.2L157.6 268.3L157.5 269.4L156.6 270.2L156.0 271.1L155.8 272.2L155.6 273.2L155.7 274.4L155.2 275.4L154.4 276.2L154.1 277.1L153.7 278.0L152.6 278.5L151.8 279.0L151.2 279.8L150.7 280.5L150.2 281.5L149.7 282.4L148.7 282.7L147.6 282.8L146.9 283.6L146.3 284.3L145.4 284.7L144.6 285.2L143.8 285.9L142.9 286.4L142.1 287.1L141.4 287.7L140.3 287.6L139.2 287.5L138.4 288.2L137.6 288.9L136.7 289.3L135.8 289.6L134.7 289.7L133.6 289.6L132.6 290.0L131.6 290.1L130.5 289.5L129.5 289.7L128.4 290.2L127.3 290.1L126.2 290.0L125.2 289.4L124.2 288.9L123.2 289.2L122.3 289.8L121.3 289.9L120.4 290.2L119.7 290.8L118.8 290.9L117.9 290.3L117.0 289.4L116.7 288.2L116.2 287.3L115.2 286.7L114.8 285.8L115.1 284.8L115.1 283.8L115.0 282.8L115.1 281.8L114.8 280.7L114.7 279.7L114.9 278.7L114.3 277.7L113.4 276.9L113.3 276.0L113.3 275.0L112.7 274.0L112.1 273.1L111.5 272.5L111.3 271.6L111.9 270.6L112.8 269.8L113.0 268.6L113.5 267.9L114.4 267.4L115.0 266.8L115.6 266.0L116.1 265.1L115.9 264.0L115.7 262.9L116.5 261.9L117.0 261.0L117.0 260.0L117.5 259.1L118.0 258.3L118.3 257.6L118.9 256.9L119.6 256.4L120.2 255.7L120.9 255.0L121.9 254.9L123.1 254.8L123.7 254.1L124.3 253.2L125.1 252.5L125.8 251.7L126.7 251.3L127.8 251.1L128.6 250.3L129.4 249.8L130.7 249.9L131.6 249.4L132.4 248.6L133.1 248.0L133.9 247.0L135.1 246.5L136.2 245.8L135.9 244.3L136.0 243.1L136.8 242.8Z" fill="#1EAF8A" fill-opacity="0.6" fill-rule="evenodd" stroke="none"/>
<path d="M146.9 230.5L147.4 229.0L149.0 229.0L150.1 228.6L151.4 228.6L152.0 229.3L153.1 230.1L153.8 231.1L155.1 231.4L156.1 232.0L157.0 233.3L158.3 232.9L159.2 231.8L160.1 231.3L161.2 231.6L161.7 232.7L162.0 234.0L163.0 234.4L163.8 235.1L164.2 236.3L164.9 237.0L165.7 237.9L166.1 239.0L166.4 240.2L165.8 241.3L165.7 242.8L166.9 243.6L167.6 244.3L168.6 244.8L169.6 245.5L170.1 246.4L170.8 247.2L171.2 248.3L170.7 249.5L170.9 250.3L171.6 251.3L171.6 252.4L171.3 253.4L171.1 254.4L170.8 255.5L171.3 256.5L172.3 257.2L172.3 258.4L172.4 259.4L172.9 260.3L173.0 261.3L172.7 262.2L172.4 263.2L171.8 264.0L171.3 264.8L171.7 266.1L172.0 267.3L171.2 268.2L170.8 269.1L170.6 270.0L170.0 271.2L170.0 272.2L169.7 273.1L168.5 273.6L168.4 275.2L168.6 275.9L168.0 276.7L167.5 277.7L167.2 278.7L166.9 279.6L166.9 280.6L166.8 281.7L165.9 282.2L164.9 282.5L164.3 283.5L163.5 284.2L162.4 284.6L161.8 285.3L161.3 286.2L160.9 287.1L161.1 288.4L160.8 289.4L159.5 289.8L158.6 290.3L158.1 291.1L157.3 291.7L156.6 292.3L155.9 293.1L154.9 293.4L154.1 293.9L153.6 294.9L152.9 295.4L151.6 295.4L150.7 296.0L150.3 296.9L149.7 297.6L149.2 298.5L148.5 299.3L147.5 299.3L146.6 299.0L145.7 299.3L144.9 299.8L143.9 299.7L142.9 299.6L142.0 300.2L141.2 300.7L140.4 301.2L139.6 302.0L138.5 302.0L137.2 301.6L136.4 302.2L135.6 303.1L134.5 303.2L133.6 303.4L132.7 303.4L131.8 302.9L130.8 302.8L129.8 302.9L128.9 302.2L128.0 301.5L126.9 301.9L126.0 302.3L125.1 302.3L124.1 302.4L123.1 302.2L121.9 301.8L121.0 302.2L120.3 303.1L119.3 303.2L118.5 303.0L117.6 303.2L116.6 303.2L115.8 302.7L115.0 302.1L114.3 301.4L113.9 300.3L113.1 299.7L112.0 300.0L110.9 300.4L109.9 299.9L108.9 299.8L107.9 299.6L107.1 299.1L106.3 298.8L105.4 298.5L105.0 297.6L104.4 296.8L103.3 296.6L102.4 296.0L102.3 294.8L102.3 293.7L102.2 292.6L102.1 291.6L101.2 290.7L100.7 289.8L101.1 288.8L101.3 287.8L101.0 286.9L101.0 285.9L101.2 285.0L100.9 283.9L100.8 282.9L100.3 281.9L99.0 281.3L98.7 280.2L99.1 279.0L98.8 278.0L98.3 277.0L97.9 276.1L97.2 275.3L97.0 274.4L97.5 273.3L97.4 272.3L97.5 271.2L98.5 270.6L99.5 270.2L100.1 269.4L100.7 268.5L100.8 267.4L100.4 266.6L100.7 265.6L101.3 264.5L101.0 263.5L100.9 262.5L101.6 261.8L102.1 261.1L102.7 260.3L103.3 259.6L103.6 258.6L103.7 257.6L104.8 256.9L105.6 256.0L105.3 254.8L105.4 253.7L105.7 252.7L106.0 251.7L106.9 251.1L107.6 250.3L107.8 249.2L108.6 248.6L109.6 248.2L110.1 247.3L110.4 246.2L111.1 245.4L111.8 244.6L112.8 244.2L114.2 244.2L114.9 243.3L115.4 242.2L116.4 241.9L117.2 241.4L118.0 240.6L118.9 240.3L119.8 239.8L120.5 239.3L121.6 239.3L122.7 238.9L122.8 237.6L123.0 236.5L123.8 235.9L124.7 235.5L125.6 235.2L126.6 235.4L127.6 235.1L128.5 234.5L129.5 234.5L130.5 234.4L131.2 233.5L131.9 232.7L132.9 232.6L133.9 232.3L134.9 231.9L135.9 231.5L136.2 230.3L136.5 229.1L137.5 228.8L138.6 228.5L139.5 227.7L140.5 227.5L141.4 227.4L142.5 227.4L143.3 228.0L144.1 228.3L145.5 229.3L144.7 230.7L143.7 230.9L142.7 231.2L141.9 231.5L141.0 232.2L140.8 232.8L141.1 233.5L141.7 234.6L142.5 234.3L143.4 233.6L144.6 233.6L145.5 233.2L146.1 232.3L146.7 231.5Z" fill="none" stroke="#72C4BC" stroke-opacity="1" stroke-width="1.08" stroke-linejoin="round"/>
<path d="M137.6 242.4L138.8 242.8L139.7 243.7L139.2 245.1L138.3 246.5L139.7 246.8L140.6 245.8L142.0 245.4L142.9 245.3L143.9 245.1L145.1 245.2L146.1 245.0L147.0 244.9L147.8 245.6L148.4 246.1L149.5 246.2L150.4 246.5L151.1 247.2L151.8 248.0L152.4 248.9L152.9 249.8L154.2 250.1L155.2 250.8L155.6 252.0L156.2 252.6L156.7 253.4L156.7 254.3L156.7 255.3L156.8 256.3L156.8 257.4L157.4 258.3L158.4 259.1L158.5 260.2L158.1 261.3L158.2 262.2L158.1 263.2L157.8 264.2L157.8 265.2L157.5 266.2L157.2 267.2L157.6 268.3L157.5 269.4L156.6 270.2L156.0 271.1L155.8 272.2L155.6 273.2L155.7 274.4L155.2 275.4L154.4 276.2L154.1 277.1L153.7 278.0L152.6 278.5L151.8 279.0L151.2 279.8L150.7 280.5L150.2 281.5L149.7 282.4L148.7 282.7L147.6 282.8L146.9 283.6L146.3 284.3L145.4 284.7L144.6 285.2L143.8 285.9L142.9 286.4L142.1 287.1L141.4 287.7L140.3 287.6L139.2 287.5L138.4 288.2L137.6 288.9L136.7 289.3L135.8 289.6L134.7 289.7L133.6 289.6L132.6 290.0L131.6 290.1L130.5 289.5L129.5 289.7L128.4 290.2L127.3 290.1L126.2 290.0L125.2 289.4L124.2 288.9L123.2 289.2L122.3 289.8L121.3 289.9L120.4 290.2L119.7 290.8L118.8 290.9L117.9 290.3L117.0 289.4L116.7 288.2L116.2 287.3L115.2 286.7L114.8 285.8L115.1 284.8L115.1 283.8L115.0 282.8L115.1 281.8L114.8 280.7L114.7 279.7L114.9 278.7L114.3 277.7L113.4 276.9L113.3 276.0L113.3 275.0L112.7 274.0L112.1 273.1L111.5 272.5L111.3 271.6L111.9 270.6L112.8 269.8L113.0 268.6L113.5 267.9L114.4 267.4L115.0 266.8L115.6 266.0L116.1 265.1L115.9 264.0L115.7 262.9L116.5 261.9L117.0 261.0L117.0 260.0L117.5 259.1L118.0 258.3L118.3 257.6L118.9 256.9L119.6 256.4L120.2 255.7L120.9 255.0L121.9 254.9L123.1 254.8L123.7 254.1L124.3 253.2L125.1 252.5L125.8 251.7L126.7 251.3L127.8 251.1L128.6 250.3L129.4 249.8L130.7 249.9L131.6 249.4L132.4 248.6L133.1 248.0L133.9 247.0L135.1 246.5L136.2 245.8L135.9 244.3L136.0 243.1L136.8 242.8Z" fill="none" stroke="#2E8A80" stroke-opacity="1" stroke-width="1.08" stroke-linejoin="round"/>
<path d="M145.9 231.1L146.8 231.6L146.8 232.8L146.7 234.1L147.2 235.2L147.5 236.3L148.0 237.3L148.4 238.3L148.6 239.4L149.4 240.2L149.9 241.0L149.8 242.3L150.1 243.4L151.0 243.9L152.0 244.4L152.9 244.5L154.0 244.5L155.0 245.2L156.0 245.6L157.0 245.5L157.9 246.0L158.6 246.7L159.3 247.0L160.2 247.4L160.7 248.1L161.3 248.9L161.8 249.8L161.5 250.9L161.4 252.0L162.1 252.8L162.6 253.6L162.7 254.6L162.9 255.6L163.2 256.5L163.2 257.5L163.7 258.5L164.0 259.5L163.9 260.7L164.4 261.6L165.5 262.4L165.9 263.4L166.0 264.4L166.2 265.5L166.1 266.6L166.5 267.5L167.1 268.4L166.9 269.5L166.7 270.5L167.2 271.5L167.3 272.4L167.2 273.1L167.4 274.6L168.2 275.4L169.4 275.0L170.2 273.5L171.4 273.1L172.2 274.1L172.6 275.0L172.3 275.8L171.3 276.3L170.5 276.6L169.5 276.7L168.4 276.7L167.7 277.4L167.5 278.3L166.8 279.0L166.4 280.1L166.9 280.9L167.7 281.5L168.6 282.1L169.7 282.5L170.3 283.2L170.9 284.1L171.8 284.5L172.7 284.9L173.0 285.6L173.2 286.7L173.3 287.4L173.0 287.9L172.3 288.5L171.8 289.4L171.1 290.2L170.2 290.7L169.6 291.5L169.7 292.7L169.4 293.8L169.0 294.7L168.8 295.7L168.3 296.3L167.4 296.9L166.4 297.2L165.4 296.8L164.3 296.4L163.3 297.1L162.9 298.3L162.1 299.0L161.2 299.4L160.3 299.7L159.4 299.9L158.8 300.7L158.9 301.7L158.3 302.5L157.3 302.7L156.5 303.2L155.6 304.0L154.5 304.1L153.5 303.7L152.6 303.1L151.9 302.2L150.8 302.1L149.9 302.8L149.1 303.2L148.0 303.2L147.0 303.8L146.3 304.3L145.4 304.7L144.5 305.3L143.6 305.8L142.6 306.0L142.0 306.9L141.2 307.8L140.1 307.8L139.1 307.5L138.0 307.7L136.9 307.8L136.1 308.2L135.3 308.8L134.4 309.0L133.4 309.0L132.5 309.6L131.7 310.2L130.8 310.1L129.6 309.9L128.5 310.3L127.5 310.6L126.7 311.2L125.9 311.8L124.7 311.7L123.7 311.5L122.8 312.1L122.0 312.6L121.1 312.9L120.3 313.5L119.6 314.2L118.9 314.4L118.0 314.3L117.0 314.0L116.4 313.2L116.0 312.1L114.9 311.7L113.7 311.8L112.6 311.4L111.7 311.0L111.0 310.4L110.4 309.5L109.5 308.9L108.7 308.2L108.7 307.1L108.4 306.1L107.5 305.2L107.0 304.2L106.7 303.3L106.4 302.2L106.5 301.1L106.0 300.2L104.9 299.5L104.6 298.6L104.3 297.6L103.5 296.7L103.0 295.7L102.7 294.7L102.6 293.8L103.1 292.8L103.5 291.8L103.2 290.5L103.6 289.5L104.5 288.7L105.0 287.9L105.7 287.3L106.5 286.7L106.8 285.8L106.9 285.0L107.2 284.1L106.9 283.0L106.0 282.2L105.7 281.1L105.9 279.9L105.7 278.9L105.5 277.9L104.8 277.0L104.1 276.1L104.3 275.0L104.8 274.0L104.9 273.0L105.4 272.0L106.2 271.1L106.5 270.1L106.9 269.0L107.0 267.9L106.9 266.7L107.7 265.8L108.7 265.2L109.0 264.4L109.3 263.5L109.8 262.8L110.2 262.0L110.5 261.1L111.2 260.3L111.5 259.3L111.5 258.1L112.4 257.3L113.1 256.5L113.2 255.5L113.4 254.6L113.8 253.8L114.2 252.9L114.9 252.3L116.0 252.1L116.8 251.5L117.3 250.6L118.1 250.0L119.1 249.6L119.5 248.6L119.9 247.7L120.6 246.9L121.1 246.1L122.0 245.6L123.2 245.6L124.0 245.0L124.7 244.0L125.6 243.6L126.4 243.0L127.1 242.2L128.0 241.6L128.7 240.7L129.5 240.0L130.5 239.8L131.3 239.4L131.9 238.4L132.7 237.8L133.7 237.8L134.5 237.5L135.5 237.2L136.4 236.8L136.9 236.0L137.4 235.2L138.1 234.8L139.2 234.8L140.1 234.3L141.0 233.8L142.0 233.7L143.1 233.3L144.2 232.5L145.0 231.7ZM104.70 305.25C104.70 305.60 104.40 306.12 104.10 306.29C103.80 306.46 103.20 306.46 102.90 306.29C102.60 306.12 102.30 305.60 102.30 305.25C102.30 304.90 102.60 304.38 102.90 304.21C103.20 304.04 103.80 304.04 104.10 304.21C104.40 304.38 104.70 304.90 104.70 305.25ZM135.8 250.5L136.6 250.9L137.4 251.3L138.4 251.7L139.0 252.4L139.3 253.5L139.9 254.4L140.7 255.1L141.6 255.8L142.6 256.4L143.3 257.5L143.8 258.4L144.6 259.0L145.3 259.8L145.6 260.7L146.2 261.6L146.6 262.6L146.9 263.7L147.1 264.6L146.9 265.6L146.3 266.5L146.2 267.6L146.4 268.8L146.3 269.7L146.3 270.8L146.1 271.9L145.8 273.0L145.8 274.0L145.9 275.0L145.6 276.1L145.7 277.1L146.1 278.1L146.4 279.0L146.6 280.0L146.8 281.0L146.5 282.1L146.6 283.1L147.1 284.1L147.1 285.0L146.7 286.0L146.4 287.0L145.8 287.9L145.2 288.8L144.7 289.6L144.0 290.2L143.1 290.7L142.5 291.6L142.1 292.6L141.4 293.4L140.7 294.1L139.9 294.8L138.9 295.3L138.2 296.2L137.5 297.0L136.6 297.4L135.8 298.1L135.1 299.0L134.2 299.6L133.3 300.1L132.4 300.5L131.4 300.7L130.5 301.2L129.9 301.9L129.1 302.4L128.3 302.6L127.2 303.0L126.3 303.3L125.4 303.3L124.5 303.5L123.5 303.5L122.6 303.1L121.7 302.8L120.7 302.9L119.7 302.6L119.0 302.0L118.3 301.3L117.7 300.5L117.3 299.7L116.7 298.9L116.0 298.1L115.8 296.9L115.5 296.0L115.1 295.2L114.9 294.2L114.8 293.2L114.7 292.2L114.8 291.2L114.6 290.2L114.1 289.2L113.9 288.1L114.2 287.0L114.3 286.0L114.4 285.0L114.5 283.9L114.5 282.9L114.7 281.9L115.1 281.0L115.0 280.0L114.9 278.9L115.3 277.9L115.6 276.9L115.8 275.9L116.0 275.1L116.0 274.0L116.0 272.9L116.5 272.1L117.1 271.3L117.4 270.3L118.0 269.5L118.6 268.6L118.9 267.5L119.2 266.6L119.2 265.5L118.8 264.4L119.0 263.4L119.6 262.5L120.2 261.7L120.7 260.9L121.4 260.2L121.9 259.3L122.6 258.5L123.5 257.9L124.2 257.0L125.0 256.1L125.9 255.7L126.7 255.1L127.4 254.4L128.2 253.8L128.8 253.0L129.6 252.2L130.8 252.1L131.8 251.8L132.6 251.3L133.8 251.0L134.8 250.7Z" fill="#DB92DB" fill-opacity="0.55" fill-rule="evenodd" stroke="none"/>
<path d="M135.8 250.5L136.6 250.9L137.4 251.3L138.4 251.7L139.0 252.4L139.3 253.5L139.9 254.4L140.7 255.1L141.6 255.8L142.6 256.4L143.3 257.5L143.8 258.4L144.6 259.0L145.3 259.8L145.6 260.7L146.2 261.6L146.6 262.6L146.9 263.7L147.1 264.6L146.9 265.6L146.3 266.5L146.2 267.6L146.4 268.8L146.3 269.7L146.3 270.8L146.1 271.9L145.8 273.0L145.8 274.0L145.9 275.0L145.6 276.1L145.7 277.1L146.1 278.1L146.4 279.0L146.6 280.0L146.8 281.0L146.5 282.1L146.6 283.1L147.1 284.1L147.1 285.0L146.7 286.0L146.4 287.0L145.8 287.9L145.2 288.8L144.7 289.6L144.0 290.2L143.1 290.7L142.5 291.6L142.1 292.6L141.4 293.4L140.7 294.1L139.9 294.8L138.9 295.3L138.2 296.2L137.5 297.0L136.6 297.4L135.8 298.1L135.1 299.0L134.2 299.6L133.3 300.1L132.4 300.5L131.4 300.7L130.5 301.2L129.9 301.9L129.1 302.4L128.3 302.6L127.2 303.0L126.3 303.3L125.4 303.3L124.5 303.5L123.5 303.5L122.6 303.1L121.7 302.8L120.7 302.9L119.7 302.6L119.0 302.0L118.3 301.3L117.7 300.5L117.3 299.7L116.7 298.9L116.0 298.1L115.8 296.9L115.5 296.0L115.1 295.2L114.9 294.2L114.8 293.2L114.7 292.2L114.8 291.2L114.6 290.2L114.1 289.2L113.9 288.1L114.2 287.0L114.3 286.0L114.4 285.0L114.5 283.9L114.5 282.9L114.7 281.9L115.1 281.0L115.0 280.0L114.9 278.9L115.3 277.9L115.6 276.9L115.8 275.9L116.0 275.1L116.0 274.0L116.0 272.9L116.5 272.1L117.1 271.3L117.4 270.3L118.0 269.5L118.6 268.6L118.9 267.5L119.2 266.6L119.2 265.5L118.8 264.4L119.0 263.4L119.6 262.5L120.2 261.7L120.7 260.9L121.4 260.2L121.9 259.3L122.6 258.5L123.5 257.9L124.2 257.0L125.0 256.1L125.9 255.7L126.7 255.1L127.4 254.4L128.2 253.8L128.8 253.0L129.6 252.2L130.8 252.1L131.8 251.8L132.6 251.3L133.8 251.0L134.8 250.7Z" fill="#885E8D" fill-opacity="0.55" fill-rule="evenodd" stroke="none"/>
<path d="M145.9 231.1L146.8 231.6L146.8 232.8L146.7 234.1L147.2 235.2L147.5 236.3L148.0 237.3L148.4 238.3L148.6 239.4L149.4 240.2L149.9 241.0L149.8 242.3L150.1 243.4L151.0 243.9L152.0 244.4L152.9 244.5L154.0 244.5L155.0 245.2L156.0 245.6L157.0 245.5L157.9 246.0L158.6 246.7L159.3 247.0L160.2 247.4L160.7 248.1L161.3 248.9L161.8 249.8L161.5 250.9L161.4 252.0L162.1 252.8L162.6 253.6L162.7 254.6L162.9 255.6L163.2 256.5L163.2 257.5L163.7 258.5L164.0 259.5L163.9 260.7L164.4 261.6L165.5 262.4L165.9 263.4L166.0 264.4L166.2 265.5L166.1 266.6L166.5 267.5L167.1 268.4L166.9 269.5L166.7 270.5L167.2 271.5L167.3 272.4L167.2 273.1L167.4 274.6L168.2 275.4L169.4 275.0L170.2 273.5L171.4 273.1L172.2 274.1L172.6 275.0L172.3 275.8L171.3 276.3L170.5 276.6L169.5 276.7L168.4 276.7L167.7 277.4L167.5 278.3L166.8 279.0L166.4 280.1L166.9 280.9L167.7 281.5L168.6 282.1L169.7 282.5L170.3 283.2L170.9 284.1L171.8 284.5L172.7 284.9L173.0 285.6L173.2 286.7L173.3 287.4L173.0 287.9L172.3 288.5L171.8 289.4L171.1 290.2L170.2 290.7L169.6 291.5L169.7 292.7L169.4 293.8L169.0 294.7L168.8 295.7L168.3 296.3L167.4 296.9L166.4 297.2L165.4 296.8L164.3 296.4L163.3 297.1L162.9 298.3L162.1 299.0L161.2 299.4L160.3 299.7L159.4 299.9L158.8 300.7L158.9 301.7L158.3 302.5L157.3 302.7L156.5 303.2L155.6 304.0L154.5 304.1L153.5 303.7L152.6 303.1L151.9 302.2L150.8 302.1L149.9 302.8L149.1 303.2L148.0 303.2L147.0 303.8L146.3 304.3L145.4 304.7L144.5 305.3L143.6 305.8L142.6 306.0L142.0 306.9L141.2 307.8L140.1 307.8L139.1 307.5L138.0 307.7L136.9 307.8L136.1 308.2L135.3 308.8L134.4 309.0L133.4 309.0L132.5 309.6L131.7 310.2L130.8 310.1L129.6 309.9L128.5 310.3L127.5 310.6L126.7 311.2L125.9 311.8L124.7 311.7L123.7 311.5L122.8 312.1L122.0 312.6L121.1 312.9L120.3 313.5L119.6 314.2L118.9 314.4L118.0 314.3L117.0 314.0L116.4 313.2L116.0 312.1L114.9 311.7L113.7 311.8L112.6 311.4L111.7 311.0L111.0 310.4L110.4 309.5L109.5 308.9L108.7 308.2L108.7 307.1L108.4 306.1L107.5 305.2L107.0 304.2L106.7 303.3L106.4 302.2L106.5 301.1L106.0 300.2L104.9 299.5L104.6 298.6L104.3 297.6L103.5 296.7L103.0 295.7L102.7 294.7L102.6 293.8L103.1 292.8L103.5 291.8L103.2 290.5L103.6 289.5L104.5 288.7L105.0 287.9L105.7 287.3L106.5 286.7L106.8 285.8L106.9 285.0L107.2 284.1L106.9 283.0L106.0 282.2L105.7 281.1L105.9 279.9L105.7 278.9L105.5 277.9L104.8 277.0L104.1 276.1L104.3 275.0L104.8 274.0L104.9 273.0L105.4 272.0L106.2 271.1L106.5 270.1L106.9 269.0L107.0 267.9L106.9 266.7L107.7 265.8L108.7 265.2L109.0 264.4L109.3 263.5L109.8 262.8L110.2 262.0L110.5 261.1L111.2 260.3L111.5 259.3L111.5 258.1L112.4 257.3L113.1 256.5L113.2 255.5L113.4 254.6L113.8 253.8L114.2 252.9L114.9 252.3L116.0 252.1L116.8 251.5L117.3 250.6L118.1 250.0L119.1 249.6L119.5 248.6L119.9 247.7L120.6 246.9L121.1 246.1L122.0 245.6L123.2 245.6L124.0 245.0L124.7 244.0L125.6 243.6L126.4 243.0L127.1 242.2L128.0 241.6L128.7 240.7L129.5 240.0L130.5 239.8L131.3 239.4L131.9 238.4L132.7 237.8L133.7 237.8L134.5 237.5L135.5 237.2L136.4 236.8L136.9 236.0L137.4 235.2L138.1 234.8L139.2 234.8L140.1 234.3L141.0 233.8L142.0 233.7L143.1 233.3L144.2 232.5L145.0 231.7ZM104.70 305.25C104.70 305.60 104.40 306.12 104.10 306.29C103.80 306.46 103.20 306.46 102.90 306.29C102.60 306.12 102.30 305.60 102.30 305.25C102.30 304.90 102.60 304.38 102.90 304.21C103.20 304.04 103.80 304.04 104.10 304.21C104.40 304.38 104.70 304.90 104.70 305.25Z" fill="none" stroke="#A2569C" stroke-opacity="1" stroke-width="1.08" stroke-linejoin="round"/>
<path d="M135.8 250.5L136.6 250.9L137.4 251.3L138.4 251.7L139.0 252.4L139.3 253.5L139.9 254.4L140.7 255.1L141.6 255.8L142.6 256.4L143.3 257.5L143.8 258.4L144.6 259.0L145.3 259.8L145.6 260.7L146.2 261.6L146.6 262.6L146.9 263.7L147.1 264.6L146.9 265.6L146.3 266.5L146.2 267.6L146.4 268.8L146.3 269.7L146.3 270.8L146.1 271.9L145.8 273.0L145.8 274.0L145.9 275.0L145.6 276.1L145.7 277.1L146.1 278.1L146.4 279.0L146.6 280.0L146.8 281.0L146.5 282.1L146.6 283.1L147.1 284.1L147.1 285.0L146.7 286.0L146.4 287.0L145.8 287.9L145.2 288.8L144.7 289.6L144.0 290.2L143.1 290.7L142.5 291.6L142.1 292.6L141.4 293.4L140.7 294.1L139.9 294.8L138.9 295.3L138.2 296.2L137.5 297.0L136.6 297.4L135.8 298.1L135.1 299.0L134.2 299.6L133.3 300.1L132.4 300.5L131.4 300.7L130.5 301.2L129.9 301.9L129.1 302.4L128.3 302.6L127.2 303.0L126.3 303.3L125.4 303.3L124.5 303.5L123.5 303.5L122.6 303.1L121.7 302.8L120.7 302.9L119.7 302.6L119.0 302.0L118.3 301.3L117.7 300.5L117.3 299.7L116.7 298.9L116.0 298.1L115.8 296.9L115.5 296.0L115.1 295.2L114.9 294.2L114.8 293.2L114.7 292.2L114.8 291.2L114.6 290.2L114.1 289.2L113.9 288.1L114.2 287.0L114.3 286.0L114.4 285.0L114.5 283.9L114.5 282.9L114.7 281.9L115.1 281.0L115.0 280.0L114.9 278.9L115.3 277.9L115.6 276.9L115.8 275.9L116.0 275.1L116.0 274.0L116.0 272.9L116.5 272.1L117.1 271.3L117.4 270.3L118.0 269.5L118.6 268.6L118.9 267.5L119.2 266.6L119.2 265.5L118.8 264.4L119.0 263.4L119.6 262.5L120.2 261.7L120.7 260.9L121.4 260.2L121.9 259.3L122.6 258.5L123.5 257.9L124.2 257.0L125.0 256.1L125.9 255.7L126.7 255.1L127.4 254.4L128.2 253.8L128.8 253.0L129.6 252.2L130.8 252.1L131.8 251.8L132.6 251.3L133.8 251.0L134.8 250.7Z" fill="none" stroke="#6E2A62" stroke-opacity="1" stroke-width="1.08" stroke-linejoin="round"/>
</g>
<g clip-path="url(#c20)">
<path d="M105.1 376.1L106.0 375.5L107.0 374.9L108.3 374.8L109.1 375.1L110.2 375.3L111.0 376.2L111.9 377.3L113.0 376.9L113.9 376.0L114.9 375.6L115.9 375.2L117.0 375.4L118.1 376.0L119.3 375.6L120.4 375.8L121.2 376.6L122.3 376.6L123.4 376.8L124.3 377.4L125.2 377.7L126.2 378.2L127.4 378.5L128.3 377.4L129.5 377.0L130.5 377.4L131.5 377.5L132.5 377.8L133.5 378.4L134.5 378.5L135.3 379.3L136.0 380.1L137.3 380.0L138.5 380.0L139.1 380.8L139.7 381.7L140.3 382.5L140.8 383.4L141.9 383.8L142.9 383.8L143.6 384.5L144.3 385.3L145.4 385.4L146.4 385.9L147.0 386.8L147.7 387.4L148.5 388.2L149.3 388.7L150.5 388.6L151.6 388.7L152.1 389.7L152.7 390.6L153.6 391.1L154.3 391.8L155.0 392.4L155.8 392.9L156.3 393.7L156.7 394.6L157.7 395.4L158.1 396.4L157.5 397.7L157.9 398.8L158.5 399.7L159.3 400.5L160.5 401.0L160.9 402.1L161.2 403.1L162.1 403.6L163.0 404.1L163.7 404.8L164.3 405.2L164.9 405.6L165.2 406.3L165.6 407.4L166.1 408.5L165.5 409.6L165.2 410.8L166.3 411.5L167.4 411.9L168.4 412.4L169.5 412.8L170.1 413.6L170.8 414.5L171.6 415.4L171.3 416.5L170.7 417.2L170.6 417.9L170.4 419.0L169.9 419.8L170.0 420.4L170.2 420.9L170.4 422.0L171.0 423.0L172.2 423.3L172.6 424.3L172.5 425.3L173.0 426.2L173.3 427.3L173.4 428.3L173.7 429.1L173.5 430.4L173.6 431.7L174.8 432.1L175.5 433.0L175.1 434.0L174.7 435.1L173.9 435.9L173.1 436.6L172.5 437.5L171.5 437.9L170.2 438.0L170.0 439.2L170.6 440.1L170.7 441.0L170.8 442.2L170.6 443.3L170.1 444.1L170.1 445.3L169.7 446.6L168.4 447.0L167.6 447.5L166.7 447.1L166.3 445.9L165.9 444.6L165.6 443.2L164.7 442.5L163.8 443.2L163.3 444.1L162.3 444.3L161.3 444.7L160.7 445.4L160.1 446.4L160.1 447.6L160.2 448.7L159.4 449.1L158.7 449.1L157.6 449.5L156.4 449.3L155.6 448.2L154.7 447.6L153.7 447.1L152.5 446.7L151.4 446.8L150.8 446.4L149.8 446.4L149.3 447.5L148.5 448.5L147.5 449.2L147.0 449.7L146.2 449.7L145.5 449.3L144.3 449.1L143.4 448.5L143.4 447.2L143.2 446.2L142.3 445.5L141.6 444.8L140.7 444.3L139.7 444.1L138.9 443.5L137.9 443.2L136.7 443.5L135.8 443.0L134.6 442.4L133.6 443.0L132.6 443.6L131.6 444.1L130.5 444.2L129.7 443.2L129.5 441.9L128.3 441.3L127.6 440.5L127.2 439.6L126.5 439.0L125.8 438.3L125.0 437.5L124.2 437.2L123.5 436.6L123.0 435.3L122.0 434.9L120.7 435.1L119.9 434.5L119.3 433.7L118.8 432.8L118.7 431.7L118.3 430.8L117.5 430.1L117.1 429.2L116.6 428.1L115.4 428.0L114.2 427.8L113.4 427.1L112.6 426.3L112.3 425.2L112.0 424.3L110.9 423.9L110.0 423.3L109.8 422.2L109.4 421.3L108.7 420.6L108.2 419.7L107.7 418.8L107.1 418.0L106.9 416.8L106.0 416.2L104.6 415.9L104.1 415.0L103.9 413.9L103.5 413.0L103.2 412.1L102.7 411.2L101.8 410.6L101.5 409.7L101.7 408.7L101.4 407.8L100.6 407.0L100.7 406.0L101.1 405.1L101.0 404.2L100.9 403.0L100.5 402.1L99.4 401.3L99.0 400.3L99.6 399.2L99.7 398.3L99.6 397.2L100.1 396.3L100.3 395.3L100.2 394.2L100.3 393.2L99.5 392.3L98.7 391.4L99.1 390.2L99.4 389.1L98.9 388.2L98.4 387.3L97.8 386.5L97.2 385.7L97.3 384.8L98.3 384.0L98.9 382.9L100.1 382.3L101.1 382.4L102.0 382.1L103.0 381.5L103.8 380.9L104.0 380.2L104.3 379.4L105.4 378.3L105.2 377.1ZM102.00 380.00C102.08 379.83 102.75 379.67 103.00 379.75C103.25 379.83 103.58 380.33 103.50 380.50C103.42 380.67 102.75 380.83 102.50 380.75C102.25 380.67 101.92 380.17 102.00 380.00ZM115.2 390.7L115.8 390.1L116.5 389.4L117.5 389.5L118.6 390.0L119.7 389.7L120.8 389.5L121.6 389.6L122.5 389.5L123.5 389.4L124.5 389.5L125.5 389.2L126.5 389.0L127.4 389.6L128.1 390.4L129.1 390.5L130.1 390.6L131.1 391.0L132.0 391.2L132.9 391.8L133.5 392.7L134.5 393.0L135.5 393.3L136.2 394.2L137.0 394.8L138.1 394.9L139.1 395.2L140.0 395.5L140.9 395.8L141.7 396.5L142.6 397.0L143.6 396.7L144.6 396.4L145.5 396.8L146.3 397.1L147.4 397.2L148.3 397.7L149.2 398.2L150.0 398.8L150.4 399.9L150.9 400.6L152.0 401.0L152.8 401.7L153.0 402.7L153.3 403.7L153.5 404.6L153.6 405.6L154.2 406.5L154.6 407.5L154.6 408.6L155.0 409.5L156.0 410.3L156.2 411.3L156.2 412.3L156.5 413.3L156.6 414.4L157.1 415.3L158.0 416.0L158.1 417.0L157.9 418.0L158.3 419.0L158.6 419.9L158.4 420.9L158.3 421.8L158.3 422.8L158.2 423.8L158.5 424.8L159.0 425.9L158.6 426.8L157.9 427.7L157.6 428.6L157.4 429.5L157.0 430.3L156.7 431.1L156.2 432.1L155.1 432.6L154.4 433.4L153.4 434.1L152.4 433.7L151.4 433.2L150.4 433.2L149.3 433.2L148.2 433.2L147.2 433.2L146.4 432.4L145.5 431.7L144.4 431.6L143.5 431.1L142.7 430.4L141.6 430.3L140.6 430.1L139.5 430.0L138.5 430.0L137.6 429.4L136.8 428.4L135.8 428.4L134.7 428.5L133.7 428.2L132.6 427.9L131.7 427.6L130.9 427.0L129.9 426.8L128.9 426.5L128.3 425.5L127.5 424.9L126.3 424.9L125.4 424.6L124.6 424.0L123.9 423.4L123.4 422.5L123.0 421.6L122.1 421.1L121.2 420.6L120.8 419.7L120.4 418.9L119.5 418.3L118.8 417.6L118.4 416.7L118.0 415.8L117.9 414.7L117.7 413.7L116.8 413.1L115.9 412.4L115.7 411.4L115.5 410.4L115.0 409.5L114.8 408.6L114.4 407.6L113.8 406.7L113.6 405.6L113.2 404.7L112.1 404.1L111.7 403.1L112.0 402.1L112.1 401.0L112.0 400.1L112.0 399.1L111.7 398.2L111.4 397.3L111.9 396.4L112.4 395.5L112.4 394.4L112.8 393.6L113.6 393.0L114.2 392.1L114.5 391.3Z" fill="#A3FAF7" fill-opacity="0.52" fill-rule="evenodd" stroke="none"/>
<path d="M115.2 390.7L115.8 390.1L116.5 389.4L117.5 389.5L118.6 390.0L119.7 389.7L120.8 389.5L121.6 389.6L122.5 389.5L123.5 389.4L124.5 389.5L125.5 389.2L126.5 389.0L127.4 389.6L128.1 390.4L129.1 390.5L130.1 390.6L131.1 391.0L132.0 391.2L132.9 391.8L133.5 392.7L134.5 393.0L135.5 393.3L136.2 394.2L137.0 394.8L138.1 394.9L139.1 395.2L140.0 395.5L140.9 395.8L141.7 396.5L142.6 397.0L143.6 396.7L144.6 396.4L145.5 396.8L146.3 397.1L147.4 397.2L148.3 397.7L149.2 398.2L150.0 398.8L150.4 399.9L150.9 400.6L152.0 401.0L152.8 401.7L153.0 402.7L153.3 403.7L153.5 404.6L153.6 405.6L154.2 406.5L154.6 407.5L154.6 408.6L155.0 409.5L156.0 410.3L156.2 411.3L156.2 412.3L156.5 413.3L156.6 414.4L157.1 415.3L158.0 416.0L158.1 417.0L157.9 418.0L158.3 419.0L158.6 419.9L158.4 420.9L158.3 421.8L158.3 422.8L158.2 423.8L158.5 424.8L159.0 425.9L158.6 426.8L157.9 427.7L157.6 428.6L157.4 429.5L157.0 430.3L156.7 431.1L156.2 432.1L155.1 432.6L154.4 433.4L153.4 434.1L152.4 433.7L151.4 433.2L150.4 433.2L149.3 433.2L148.2 433.2L147.2 433.2L146.4 432.4L145.5 431.7L144.4 431.6L143.5 431.1L142.7 430.4L141.6 430.3L140.6 430.1L139.5 430.0L138.5 430.0L137.6 429.4L136.8 428.4L135.8 428.4L134.7 428.5L133.7 428.2L132.6 427.9L131.7 427.6L130.9 427.0L129.9 426.8L128.9 426.5L128.3 425.5L127.5 424.9L126.3 424.9L125.4 424.6L124.6 424.0L123.9 423.4L123.4 422.5L123.0 421.6L122.1 421.1L121.2 420.6L120.8 419.7L120.4 418.9L119.5 418.3L118.8 417.6L118.4 416.7L118.0 415.8L117.9 414.7L117.7 413.7L116.8 413.1L115.9 412.4L115.7 411.4L115.5 410.4L115.0 409.5L114.8 408.6L114.4 407.6L113.8 406.7L113.6 405.6L113.2 404.7L112.1 404.1L111.7 403.1L112.0 402.1L112.1 401.0L112.0 400.1L112.0 399.1L111.7 398.2L111.4 397.3L111.9 396.4L112.4 395.5L112.4 394.4L112.8 393.6L113.6 393.0L114.2 392.1L114.5 391.3Z" fill="#1EAF8A" fill-opacity="0.6" fill-rule="evenodd" stroke="none"/>
<path d="M105.1 376.1L106.0 375.5L107.0 374.9L108.3 374.8L109.1 375.1L110.2 375.3L111.0 376.2L111.9 377.3L113.0 376.9L113.9 376.0L114.9 375.6L115.9 375.2L117.0 375.4L118.1 376.0L119.3 375.6L120.4 375.8L121.2 376.6L122.3 376.6L123.4 376.8L124.3 377.4L125.2 377.7L126.2 378.2L127.4 378.5L128.3 377.4L129.5 377.0L130.5 377.4L131.5 377.5L132.5 377.8L133.5 378.4L134.5 378.5L135.3 379.3L136.0 380.1L137.3 380.0L138.5 380.0L139.1 380.8L139.7 381.7L140.3 382.5L140.8 383.4L141.9 383.8L142.9 383.8L143.6 384.5L144.3 385.3L145.4 385.4L146.4 385.9L147.0 386.8L147.7 387.4L148.5 388.2L149.3 388.7L150.5 388.6L151.6 388.7L152.1 389.7L152.7 390.6L153.6 391.1L154.3 391.8L155.0 392.4L155.8 392.9L156.3 393.7L156.7 394.6L157.7 395.4L158.1 396.4L157.5 397.7L157.9 398.8L158.5 399.7L159.3 400.5L160.5 401.0L160.9 402.1L161.2 403.1L162.1 403.6L163.0 404.1L163.7 404.8L164.3 405.2L164.9 405.6L165.2 406.3L165.6 407.4L166.1 408.5L165.5 409.6L165.2 410.8L166.3 411.5L167.4 411.9L168.4 412.4L169.5 412.8L170.1 413.6L170.8 414.5L171.6 415.4L171.3 416.5L170.7 417.2L170.6 417.9L170.4 419.0L169.9 419.8L170.0 420.4L170.2 420.9L170.4 422.0L171.0 423.0L172.2 423.3L172.6 424.3L172.5 425.3L173.0 426.2L173.3 427.3L173.4 428.3L173.7 429.1L173.5 430.4L173.6 431.7L174.8 432.1L175.5 433.0L175.1 434.0L174.7 435.1L173.9 435.9L173.1 436.6L172.5 437.5L171.5 437.9L170.2 438.0L170.0 439.2L170.6 440.1L170.7 441.0L170.8 442.2L170.6 443.3L170.1 444.1L170.1 445.3L169.7 446.6L168.4 447.0L167.6 447.5L166.7 447.1L166.3 445.9L165.9 444.6L165.6 443.2L164.7 442.5L163.8 443.2L163.3 444.1L162.3 444.3L161.3 444.7L160.7 445.4L160.1 446.4L160.1 447.6L160.2 448.7L159.4 449.1L158.7 449.1L157.6 449.5L156.4 449.3L155.6 448.2L154.7 447.6L153.7 447.1L152.5 446.7L151.4 446.8L150.8 446.4L149.8 446.4L149.3 447.5L148.5 448.5L147.5 449.2L147.0 449.7L146.2 449.7L145.5 449.3L144.3 449.1L143.4 448.5L143.4 447.2L143.2 446.2L142.3 445.5L141.6 444.8L140.7 444.3L139.7 444.1L138.9 443.5L137.9 443.2L136.7 443.5L135.8 443.0L134.6 442.4L133.6 443.0L132.6 443.6L131.6 444.1L130.5 444.2L129.7 443.2L129.5 441.9L128.3 441.3L127.6 440.5L127.2 439.6L126.5 439.0L125.8 438.3L125.0 437.5L124.2 437.2L123.5 436.6L123.0 435.3L122.0 434.9L120.7 435.1L119.9 434.5L119.3 433.7L118.8 432.8L118.7 431.7L118.3 430.8L117.5 430.1L117.1 429.2L116.6 428.1L115.4 428.0L114.2 427.8L113.4 427.1L112.6 426.3L112.3 425.2L112.0 424.3L110.9 423.9L110.0 423.3L109.8 422.2L109.4 421.3L108.7 420.6L108.2 419.7L107.7 418.8L107.1 418.0L106.9 416.8L106.0 416.2L104.6 415.9L104.1 415.0L103.9 413.9L103.5 413.0L103.2 412.1L102.7 411.2L101.8 410.6L101.5 409.7L101.7 408.7L101.4 407.8L100.6 407.0L100.7 406.0L101.1 405.1L101.0 404.2L100.9 403.0L100.5 402.1L99.4 401.3L99.0 400.3L99.6 399.2L99.7 398.3L99.6 397.2L100.1 396.3L100.3 395.3L100.2 394.2L100.3 393.2L99.5 392.3L98.7 391.4L99.1 390.2L99.4 389.1L98.9 388.2L98.4 387.3L97.8 386.5L97.2 385.7L97.3 384.8L98.3 384.0L98.9 382.9L100.1 382.3L101.1 382.4L102.0 382.1L103.0 381.5L103.8 380.9L104.0 380.2L104.3 379.4L105.4 378.3L105.2 377.1ZM102.00 380.00C102.08 379.83 102.75 379.67 103.00 379.75C103.25 379.83 103.58 380.33 103.50 380.50C103.42 380.67 102.75 380.83 102.50 380.75C102.25 380.67 101.92 380.17 102.00 380.00Z" fill="none" stroke="#72C4BC" stroke-opacity="1" stroke-width="1.08" stroke-linejoin="round"/>
<path d="M115.2 390.7L115.8 390.1L116.5 389.4L117.5 389.5L118.6 390.0L119.7 389.7L120.8 389.5L121.6 389.6L122.5 389.5L123.5 389.4L124.5 389.5L125.5 389.2L126.5 389.0L127.4 389.6L128.1 390.4L129.1 390.5L130.1 390.6L131.1 391.0L132.0 391.2L132.9 391.8L133.5 392.7L134.5 393.0L135.5 393.3L136.2 394.2L137.0 394.8L138.1 394.9L139.1 395.2L140.0 395.5L140.9 395.8L141.7 396.5L142.6 397.0L143.6 396.7L144.6 396.4L145.5 396.8L146.3 397.1L147.4 397.2L148.3 397.7L149.2 398.2L150.0 398.8L150.4 399.9L150.9 400.6L152.0 401.0L152.8 401.7L153.0 402.7L153.3 403.7L153.5 404.6L153.6 405.6L154.2 406.5L154.6 407.5L154.6 408.6L155.0 409.5L156.0 410.3L156.2 411.3L156.2 412.3L156.5 413.3L156.6 414.4L157.1 415.3L158.0 416.0L158.1 417.0L157.9 418.0L158.3 419.0L158.6 419.9L158.4 420.9L158.3 421.8L158.3 422.8L158.2 423.8L158.5 424.8L159.0 425.9L158.6 426.8L157.9 427.7L157.6 428.6L157.4 429.5L157.0 430.3L156.7 431.1L156.2 432.1L155.1 432.6L154.4 433.4L153.4 434.1L152.4 433.7L151.4 433.2L150.4 433.2L149.3 433.2L148.2 433.2L147.2 433.2L146.4 432.4L145.5 431.7L144.4 431.6L143.5 431.1L142.7 430.4L141.6 430.3L140.6 430.1L139.5 430.0L138.5 430.0L137.6 429.4L136.8 428.4L135.8 428.4L134.7 428.5L133.7 428.2L132.6 427.9L131.7 427.6L130.9 427.0L129.9 426.8L128.9 426.5L128.3 425.5L127.5 424.9L126.3 424.9L125.4 424.6L124.6 424.0L123.9 423.4L123.4 422.5L123.0 421.6L122.1 421.1L121.2 420.6L120.8 419.7L120.4 418.9L119.5 418.3L118.8 417.6L118.4 416.7L118.0 415.8L117.9 414.7L117.7 413.7L116.8 413.1L115.9 412.4L115.7 411.4L115.5 410.4L115.0 409.5L114.8 408.6L114.4 407.6L113.8 406.7L113.6 405.6L113.2 404.7L112.1 404.1L111.7 403.1L112.0 402.1L112.1 401.0L112.0 400.1L112.0 399.1L111.7 398.2L111.4 397.3L111.9 396.4L112.4 395.5L112.4 394.4L112.8 393.6L113.6 393.0L114.2 392.1L114.5 391.3Z" fill="none" stroke="#2E8A80" stroke-opacity="1" stroke-width="1.08" stroke-linejoin="round"/>
<path d="M127.1 383.6L127.9 383.3L128.6 382.5L129.5 381.7L130.3 381.3L131.3 380.9L132.3 381.3L133.2 381.9L134.2 381.9L135.2 381.9L136.0 382.6L136.9 382.9L138.2 383.1L139.2 383.6L140.1 383.6L141.1 383.6L142.4 383.7L143.3 383.0L144.2 382.6L145.2 382.8L146.2 383.1L147.0 383.5L148.2 384.0L149.3 383.9L150.2 384.2L150.1 385.2L150.3 386.4L151.0 387.2L151.7 387.6L152.8 387.9L153.9 388.2L155.0 388.0L155.6 386.9L156.0 385.7L156.9 385.3L158.1 385.4L159.2 385.5L160.1 386.2L160.8 386.8L161.4 387.7L161.7 388.8L162.5 389.4L164.0 389.4L164.8 390.3L165.0 391.7L164.8 392.9L164.1 393.9L164.1 394.8L164.7 395.0L165.9 395.6L167.1 395.6L167.9 396.5L167.6 397.3L166.6 397.3L165.1 397.0L164.1 397.4L163.2 398.3L162.1 398.3L161.0 398.0L160.0 398.3L158.9 398.6L158.1 399.1L157.8 400.1L157.2 401.0L156.8 402.0L157.3 402.9L157.7 403.5L157.9 404.5L158.3 405.5L159.2 406.2L160.0 406.9L161.0 407.3L161.9 407.9L162.3 409.1L162.9 410.0L163.9 410.5L164.6 411.3L165.5 412.0L166.5 412.5L167.4 413.1L168.4 413.3L169.5 413.8L170.2 415.1L171.1 415.5L171.9 415.6L172.6 416.5L172.2 417.6L171.4 418.0L170.4 417.8L169.3 417.5L168.3 418.1L167.3 418.3L166.0 418.2L165.0 418.9L164.1 419.6L163.5 420.1L162.7 421.0L161.6 421.8L161.5 423.1L162.2 423.7L162.9 424.3L163.4 425.1L164.0 425.8L164.6 426.7L164.9 427.5L165.4 428.4L166.0 429.2L165.9 430.3L166.1 431.2L166.7 431.8L167.2 433.0L166.7 434.1L165.9 435.0L165.1 435.3L164.2 435.6L163.6 436.4L162.9 437.2L162.0 437.4L160.9 437.5L159.9 438.0L158.8 437.9L157.6 438.0L156.7 438.3L155.5 438.6L154.9 439.5L154.3 440.7L153.3 440.9L152.2 440.5L151.3 440.1L150.4 439.5L149.6 439.0L148.5 438.7L147.9 437.8L147.1 437.2L146.0 437.6L144.9 437.9L143.8 437.9L143.2 438.7L142.8 439.7L142.5 440.2L141.9 440.5L140.7 440.7L139.9 439.9L139.0 439.1L138.0 438.8L137.2 438.2L136.4 437.5L135.4 437.1L134.6 436.6L133.5 436.5L132.4 436.9L131.5 436.5L130.5 435.7L129.5 435.7L128.3 436.1L127.3 436.5L126.3 437.1L125.1 436.8L124.0 436.5L122.9 436.9L121.8 436.4L120.9 435.8L120.1 435.6L119.2 435.2L118.4 434.7L117.5 434.5L116.8 434.0L116.1 432.9L115.2 432.5L114.1 432.7L113.2 432.4L112.2 431.9L111.2 431.4L110.7 430.5L110.8 429.7L110.8 428.7L111.3 427.7L111.9 426.7L111.3 425.7L110.4 424.9L109.7 424.0L109.2 423.2L109.1 421.9L109.2 420.8L108.2 419.9L107.7 419.0L107.6 418.0L106.9 417.1L106.2 416.3L105.7 415.5L105.0 414.8L104.5 413.9L104.3 412.8L103.5 412.2L102.4 411.7L102.0 410.8L101.8 409.8L101.5 408.9L101.5 408.0L101.4 407.0L100.9 406.1L100.9 405.2L101.3 404.3L101.4 403.3L101.4 402.1L102.1 401.3L102.6 400.5L102.7 399.3L102.6 398.2L102.1 397.4L102.2 396.2L103.4 395.6L104.5 394.9L105.1 394.3L105.9 393.9L106.7 393.4L107.4 392.8L108.4 392.6L109.2 392.3L110.1 391.4L111.1 391.1L112.3 391.5L113.3 391.4L114.4 391.1L115.3 390.5L116.1 389.6L117.2 389.4L118.3 389.4L119.2 388.9L120.2 388.7L121.3 389.0L122.3 389.0L123.3 388.8L124.3 388.7L125.4 388.2L126.4 388.2L127.4 388.9L128.3 389.0L129.5 388.4L130.4 388.0L130.8 387.4L130.1 386.9L129.2 386.2L128.3 385.5L127.0 384.8ZM131.00 390.75C131.27 390.54 133.04 390.92 133.88 391.25C134.71 391.58 135.90 392.38 136.00 392.75C136.10 393.12 135.12 393.54 134.50 393.50C133.88 393.46 132.83 392.96 132.25 392.50C131.67 392.04 130.73 390.96 131.00 390.75ZM150.12 393.00C150.54 392.65 152.00 392.44 152.62 392.75C153.25 393.06 153.77 393.90 153.88 394.88C153.98 395.85 153.60 397.90 153.25 398.62C152.90 399.35 151.96 399.67 151.75 399.25C151.54 398.83 152.27 396.85 152.00 396.12C151.73 395.40 150.44 395.40 150.12 394.88C149.81 394.35 149.71 393.35 150.12 393.00ZM136.75 389.00C136.90 388.79 138.17 389.15 138.88 389.50C139.58 389.85 140.79 390.71 141.00 391.12C141.21 391.54 140.62 392.06 140.12 392.00C139.62 391.94 138.56 391.25 138.00 390.75C137.44 390.25 136.60 389.21 136.75 389.00ZM112.5 400.5L113.3 399.5L114.4 398.4L115.4 398.3L116.5 398.6L117.6 398.4L118.9 398.2L119.8 398.1L120.7 398.0L121.7 398.3L122.7 398.6L123.7 398.5L124.5 398.5L125.5 399.1L126.4 399.6L127.4 399.9L128.3 400.4L129.3 400.8L130.1 401.3L130.8 402.2L131.9 402.6L132.8 402.7L133.7 403.0L134.4 403.6L135.3 404.0L136.2 404.4L137.0 404.9L138.0 405.3L139.0 405.8L139.9 406.3L141.0 406.4L142.1 406.4L143.0 407.0L143.9 407.5L144.7 408.0L145.5 408.5L146.3 408.8L147.6 409.1L148.5 409.9L149.2 410.5L150.0 411.4L149.9 412.4L149.1 413.3L148.1 414.1L147.3 414.4L146.3 415.1L145.2 415.6L144.2 415.4L143.1 415.5L142.2 415.9L141.3 416.1L140.3 416.9L140.1 418.0L140.4 418.8L141.3 419.5L142.2 420.2L142.7 421.2L143.4 422.0L144.3 422.5L145.1 423.0L146.0 423.8L146.8 424.6L147.0 425.5L147.1 426.9L146.4 428.1L145.5 428.1L144.4 428.3L143.2 428.7L142.0 428.8L141.0 428.9L140.0 428.5L139.1 428.0L138.0 428.1L137.0 428.1L136.0 427.7L135.0 427.5L134.0 427.4L133.0 427.1L132.0 426.9L131.0 426.5L130.0 425.9L129.0 425.8L127.9 426.0L126.9 425.7L125.9 425.3L124.9 425.0L124.1 424.5L123.3 424.1L122.4 423.6L121.9 422.6L121.6 421.7L121.2 420.7L121.4 419.6L121.7 418.6L121.5 417.7L121.0 416.8L120.3 416.0L119.4 415.5L118.7 414.8L118.3 413.8L117.6 413.0L117.0 412.2L116.6 411.1L116.3 410.1L115.9 409.2L115.7 408.3L115.3 407.3L114.9 406.4L115.0 405.6L114.7 404.4L113.9 403.7L113.3 403.0L112.7 401.7Z" fill="#DB92DB" fill-opacity="0.55" fill-rule="evenodd" stroke="none"/>
<path d="M112.5 400.5L113.3 399.5L114.4 398.4L115.4 398.3L116.5 398.6L117.6 398.4L118.9 398.2L119.8 398.1L120.7 398.0L121.7 398.3L122.7 398.6L123.7 398.5L124.5 398.5L125.5 399.1L126.4 399.6L127.4 399.9L128.3 400.4L129.3 400.8L130.1 401.3L130.8 402.2L131.9 402.6L132.8 402.7L133.7 403.0L134.4 403.6L135.3 404.0L136.2 404.4L137.0 404.9L138.0 405.3L139.0 405.8L139.9 406.3L141.0 406.4L142.1 406.4L143.0 407.0L143.9 407.5L144.7 408.0L145.5 408.5L146.3 408.8L147.6 409.1L148.5 409.9L149.2 410.5L150.0 411.4L149.9 412.4L149.1 413.3L148.1 414.1L147.3 414.4L146.3 415.1L145.2 415.6L144.2 415.4L143.1 415.5L142.2 415.9L141.3 416.1L140.3 416.9L140.1 418.0L140.4 418.8L141.3 419.5L142.2 420.2L142.7 421.2L143.4 422.0L144.3 422.5L145.1 423.0L146.0 423.8L146.8 424.6L147.0 425.5L147.1 426.9L146.4 428.1L145.5 428.1L144.4 428.3L143.2 428.7L142.0 428.8L141.0 428.9L140.0 428.5L139.1 428.0L138.0 428.1L137.0 428.1L136.0 427.7L135.0 427.5L134.0 427.4L133.0 427.1L132.0 426.9L131.0 426.5L130.0 425.9L129.0 425.8L127.9 426.0L126.9 425.7L125.9 425.3L124.9 425.0L124.1 424.5L123.3 424.1L122.4 423.6L121.9 422.6L121.6 421.7L121.2 420.7L121.4 419.6L121.7 418.6L121.5 417.7L121.0 416.8L120.3 416.0L119.4 415.5L118.7 414.8L118.3 413.8L117.6 413.0L117.0 412.2L116.6 411.1L116.3 410.1L115.9 409.2L115.7 408.3L115.3 407.3L114.9 406.4L115.0 405.6L114.7 404.4L113.9 403.7L113.3 403.0L112.7 401.7Z" fill="#885E8D" fill-opacity="0.55" fill-rule="evenodd" stroke="none"/>
<path d="M127.1 383.6L127.9 383.3L128.6 382.5L129.5 381.7L130.3 381.3L131.3 380.9L132.3 381.3L133.2 381.9L134.2 381.9L135.2 381.9L136.0 382.6L136.9 382.9L138.2 383.1L139.2 383.6L140.1 383.6L141.1 383.6L142.4 383.7L143.3 383.0L144.2 382.6L145.2 382.8L146.2 383.1L147.0 383.5L148.2 384.0L149.3 383.9L150.2 384.2L150.1 385.2L150.3 386.4L151.0 387.2L151.7 387.6L152.8 387.9L153.9 388.2L155.0 388.0L155.6 386.9L156.0 385.7L156.9 385.3L158.1 385.4L159.2 385.5L160.1 386.2L160.8 386.8L161.4 387.7L161.7 388.8L162.5 389.4L164.0 389.4L164.8 390.3L165.0 391.7L164.8 392.9L164.1 393.9L164.1 394.8L164.7 395.0L165.9 395.6L167.1 395.6L167.9 396.5L167.6 397.3L166.6 397.3L165.1 397.0L164.1 397.4L163.2 398.3L162.1 398.3L161.0 398.0L160.0 398.3L158.9 398.6L158.1 399.1L157.8 400.1L157.2 401.0L156.8 402.0L157.3 402.9L157.7 403.5L157.9 404.5L158.3 405.5L159.2 406.2L160.0 406.9L161.0 407.3L161.9 407.9L162.3 409.1L162.9 410.0L163.9 410.5L164.6 411.3L165.5 412.0L166.5 412.5L167.4 413.1L168.4 413.3L169.5 413.8L170.2 415.1L171.1 415.5L171.9 415.6L172.6 416.5L172.2 417.6L171.4 418.0L170.4 417.8L169.3 417.5L168.3 418.1L167.3 418.3L166.0 418.2L165.0 418.9L164.1 419.6L163.5 420.1L162.7 421.0L161.6 421.8L161.5 423.1L162.2 423.7L162.9 424.3L163.4 425.1L164.0 425.8L164.6 426.7L164.9 427.5L165.4 428.4L166.0 429.2L165.9 430.3L166.1 431.2L166.7 431.8L167.2 433.0L166.7 434.1L165.9 435.0L165.1 435.3L164.2 435.6L163.6 436.4L162.9 437.2L162.0 437.4L160.9 437.5L159.9 438.0L158.8 437.9L157.6 438.0L156.7 438.3L155.5 438.6L154.9 439.5L154.3 440.7L153.3 440.9L152.2 440.5L151.3 440.1L150.4 439.5L149.6 439.0L148.5 438.7L147.9 437.8L147.1 437.2L146.0 437.6L144.9 437.9L143.8 437.9L143.2 438.7L142.8 439.7L142.5 440.2L141.9 440.5L140.7 440.7L139.9 439.9L139.0 439.1L138.0 438.8L137.2 438.2L136.4 437.5L135.4 437.1L134.6 436.6L133.5 436.5L132.4 436.9L131.5 436.5L130.5 435.7L129.5 435.7L128.3 436.1L127.3 436.5L126.3 437.1L125.1 436.8L124.0 436.5L122.9 436.9L121.8 436.4L120.9 435.8L120.1 435.6L119.2 435.2L118.4 434.7L117.5 434.5L116.8 434.0L116.1 432.9L115.2 432.5L114.1 432.7L113.2 432.4L112.2 431.9L111.2 431.4L110.7 430.5L110.8 429.7L110.8 428.7L111.3 427.7L111.9 426.7L111.3 425.7L110.4 424.9L109.7 424.0L109.2 423.2L109.1 421.9L109.2 420.8L108.2 419.9L107.7 419.0L107.6 418.0L106.9 417.1L106.2 416.3L105.7 415.5L105.0 414.8L104.5 413.9L104.3 412.8L103.5 412.2L102.4 411.7L102.0 410.8L101.8 409.8L101.5 408.9L101.5 408.0L101.4 407.0L100.9 406.1L100.9 405.2L101.3 404.3L101.4 403.3L101.4 402.1L102.1 401.3L102.6 400.5L102.7 399.3L102.6 398.2L102.1 397.4L102.2 396.2L103.4 395.6L104.5 394.9L105.1 394.3L105.9 393.9L106.7 393.4L107.4 392.8L108.4 392.6L109.2 392.3L110.1 391.4L111.1 391.1L112.3 391.5L113.3 391.4L114.4 391.1L115.3 390.5L116.1 389.6L117.2 389.4L118.3 389.4L119.2 388.9L120.2 388.7L121.3 389.0L122.3 389.0L123.3 388.8L124.3 388.7L125.4 388.2L126.4 388.2L127.4 388.9L128.3 389.0L129.5 388.4L130.4 388.0L130.8 387.4L130.1 386.9L129.2 386.2L128.3 385.5L127.0 384.8ZM131.00 390.75C131.27 390.54 133.04 390.92 133.88 391.25C134.71 391.58 135.90 392.38 136.00 392.75C136.10 393.12 135.12 393.54 134.50 393.50C133.88 393.46 132.83 392.96 132.25 392.50C131.67 392.04 130.73 390.96 131.00 390.75ZM150.12 393.00C150.54 392.65 152.00 392.44 152.62 392.75C153.25 393.06 153.77 393.90 153.88 394.88C153.98 395.85 153.60 397.90 153.25 398.62C152.90 399.35 151.96 399.67 151.75 399.25C151.54 398.83 152.27 396.85 152.00 396.12C151.73 395.40 150.44 395.40 150.12 394.88C149.81 394.35 149.71 393.35 150.12 393.00ZM136.75 389.00C136.90 388.79 138.17 389.15 138.88 389.50C139.58 389.85 140.79 390.71 141.00 391.12C141.21 391.54 140.62 392.06 140.12 392.00C139.62 391.94 138.56 391.25 138.00 390.75C137.44 390.25 136.60 389.21 136.75 389.00Z" fill="none" stroke="#A2569C" stroke-opacity="1" stroke-width="1.08" stroke-linejoin="round"/>
<path d="M112.5 400.5L113.3 399.5L114.4 398.4L115.4 398.3L116.5 398.6L117.6 398.4L118.9 398.2L119.8 398.1L120.7 398.0L121.7 398.3L122.7 398.6L123.7 398.5L124.5 398.5L125.5 399.1L126.4 399.6L127.4 399.9L128.3 400.4L129.3 400.8L130.1 401.3L130.8 402.2L131.9 402.6L132.8 402.7L133.7 403.0L134.4 403.6L135.3 404.0L136.2 404.4L137.0 404.9L138.0 405.3L139.0 405.8L139.9 406.3L141.0 406.4L142.1 406.4L143.0 407.0L143.9 407.5L144.7 408.0L145.5 408.5L146.3 408.8L147.6 409.1L148.5 409.9L149.2 410.5L150.0 411.4L149.9 412.4L149.1 413.3L148.1 414.1L147.3 414.4L146.3 415.1L145.2 415.6L144.2 415.4L143.1 415.5L142.2 415.9L141.3 416.1L140.3 416.9L140.1 418.0L140.4 418.8L141.3 419.5L142.2 420.2L142.7 421.2L143.4 422.0L144.3 422.5L145.1 423.0L146.0 423.8L146.8 424.6L147.0 425.5L147.1 426.9L146.4 428.1L145.5 428.1L144.4 428.3L143.2 428.7L142.0 428.8L141.0 428.9L140.0 428.5L139.1 428.0L138.0 428.1L137.0 428.1L136.0 427.7L135.0 427.5L134.0 427.4L133.0 427.1L132.0 426.9L131.0 426.5L130.0 425.9L129.0 425.8L127.9 426.0L126.9 425.7L125.9 425.3L124.9 425.0L124.1 424.5L123.3 424.1L122.4 423.6L121.9 422.6L121.6 421.7L121.2 420.7L121.4 419.6L121.7 418.6L121.5 417.7L121.0 416.8L120.3 416.0L119.4 415.5L118.7 414.8L118.3 413.8L117.6 413.0L117.0 412.2L116.6 411.1L116.3 410.1L115.9 409.2L115.7 408.3L115.3 407.3L114.9 406.4L115.0 405.6L114.7 404.4L113.9 403.7L113.3 403.0L112.7 401.7Z" fill="none" stroke="#6E2A62" stroke-opacity="1" stroke-width="1.08" stroke-linejoin="round"/>
</g>
<g clip-path="url(#c21)">
<path d="M267.6 376.8L267.9 375.8L268.6 375.0L269.5 374.7L270.5 375.5L271.5 376.1L272.4 375.9L273.4 376.3L274.0 377.3L275.0 377.7L275.9 377.9L276.8 378.0L277.8 377.6L278.7 377.7L279.8 378.1L280.7 377.7L281.1 376.7L281.8 375.9L282.8 375.6L283.9 375.2L285.1 375.7L286.2 375.8L287.4 375.4L288.4 376.1L289.4 376.5L290.7 376.3L291.8 376.6L292.7 377.1L293.5 377.9L294.0 379.2L294.8 379.6L296.0 379.5L296.8 379.9L297.4 380.7L298.2 381.0L299.2 381.4L300.0 382.1L301.0 382.4L301.8 383.1L302.3 384.0L303.1 384.3L304.3 384.2L305.2 384.5L305.8 385.3L306.4 385.9L307.1 386.7L307.7 387.5L308.5 387.8L309.5 387.8L310.4 388.6L311.4 389.1L312.6 388.8L313.5 389.1L314.5 389.7L315.4 390.2L315.9 390.9L316.4 391.5L317.7 392.1L318.1 393.2L318.0 394.6L318.6 395.4L319.0 396.4L319.4 397.5L320.1 398.3L320.6 399.3L321.7 399.7L323.1 399.1L324.1 399.9L324.6 401.0L324.9 401.7L325.2 402.6L325.6 403.5L326.3 404.4L326.5 405.3L326.4 406.4L327.1 407.2L327.8 407.9L327.9 409.1L328.2 410.0L329.0 410.7L329.8 411.4L330.8 411.8L331.7 412.0L332.2 413.4L332.6 414.5L333.3 414.8L333.1 415.8L332.0 416.4L331.0 416.7L329.7 416.5L329.1 416.7L329.6 417.4L329.4 419.2L330.2 420.0L331.4 420.1L332.6 420.6L333.4 421.0L334.1 421.6L334.4 422.6L334.9 423.4L335.8 423.8L336.4 425.0L336.7 426.2L337.5 427.0L337.5 428.0L337.2 428.9L337.1 429.7L336.9 430.6L336.8 431.9L338.0 432.6L338.6 433.4L338.4 434.4L338.4 435.4L338.1 436.3L336.9 437.0L335.7 437.7L334.6 436.7L334.0 436.3L333.4 435.4L333.7 434.3L333.3 433.2L332.6 432.1L331.5 432.2L331.0 433.3L330.6 434.3L330.1 435.0L330.2 436.0L330.9 436.8L331.2 437.8L330.9 438.8L330.6 439.7L330.1 440.6L329.5 441.4L329.8 442.4L330.3 443.4L329.7 444.6L329.2 445.6L328.8 446.6L327.9 447.0L326.8 447.3L325.6 447.7L324.4 447.8L323.7 449.3L322.7 450.1L321.6 449.7L321.5 448.9L321.6 447.8L321.5 446.7L320.4 446.2L319.6 446.8L319.2 447.3L318.6 448.2L318.7 449.3L318.0 450.4L316.7 450.1L316.3 449.7L315.6 449.2L314.7 448.5L313.5 448.5L312.5 448.7L311.7 447.9L310.9 447.1L309.8 447.1L309.0 446.9L308.1 446.4L307.3 446.3L306.3 446.1L305.4 445.8L304.3 446.0L303.1 446.1L302.3 445.0L301.5 444.3L300.4 444.3L299.5 444.1L298.5 443.9L297.6 443.8L296.8 443.2L296.1 442.5L295.2 442.5L294.2 442.6L293.4 441.9L292.7 441.2L291.6 441.2L290.5 441.2L289.3 441.1L288.2 440.9L287.6 439.7L287.1 438.8L286.1 438.6L285.1 438.2L284.6 437.4L283.7 436.8L282.9 436.2L282.2 435.4L281.3 434.9L280.6 434.0L280.6 432.6L279.8 432.0L278.5 431.7L277.8 430.9L277.2 430.0L276.8 429.0L276.6 427.8L275.8 427.2L274.9 426.7L274.5 425.8L274.0 424.9L272.9 424.5L272.0 424.0L271.6 423.2L271.2 422.2L271.2 421.2L271.3 420.1L270.6 419.3L269.6 418.9L269.1 418.3L268.6 417.4L267.6 417.1L266.6 416.7L265.8 416.1L265.0 415.5L264.7 414.6L264.7 413.5L263.7 412.7L262.7 411.8L263.0 410.6L262.9 409.6L262.8 408.7L262.7 407.7L262.1 406.9L261.4 406.1L261.5 405.1L261.5 404.2L260.6 403.3L260.3 402.2L260.6 401.1L260.6 400.2L260.7 399.2L260.6 398.1L259.7 397.0L259.8 395.9L260.8 394.9L261.1 394.0L261.4 393.1L262.1 392.3L262.4 391.4L262.6 390.5L262.6 389.5L261.9 388.7L260.8 387.9L261.1 386.7L262.1 386.0L262.5 385.1L262.9 384.1L263.3 383.2L263.5 382.1L264.3 381.5L265.5 381.5L266.3 381.1L266.6 380.3L267.0 379.6L267.8 378.6L267.7 377.6ZM274.7 392.9L275.5 392.0L276.0 391.4L276.3 390.7L276.8 389.8L277.4 389.2L278.2 388.6L279.2 388.2L280.5 388.5L281.5 388.1L282.5 387.6L283.4 387.8L284.3 388.2L285.3 388.1L286.4 388.4L287.4 388.7L288.3 389.0L289.1 389.9L289.8 390.5L291.2 390.3L292.3 390.2L293.2 390.8L294.1 391.2L295.0 391.7L295.8 392.4L296.8 392.6L297.7 393.0L298.3 393.9L299.2 394.3L300.2 394.3L301.1 395.0L301.4 396.0L301.8 396.9L302.4 397.6L303.5 398.0L304.7 397.3L305.9 396.9L306.8 397.5L307.5 397.9L308.2 398.6L308.4 399.5L308.6 400.6L309.1 401.3L309.4 402.1L309.8 402.9L310.7 403.4L311.7 403.8L312.1 404.8L312.6 405.9L313.5 406.5L314.2 407.3L314.9 408.1L315.6 408.7L315.9 409.6L316.2 410.5L317.0 411.1L317.5 411.9L317.5 413.0L317.6 414.1L318.3 414.8L319.0 415.6L319.9 416.3L320.7 416.9L320.8 417.9L320.7 419.1L321.3 420.0L321.4 421.0L321.0 422.0L321.0 423.0L321.0 424.0L320.8 425.1L320.8 426.3L320.1 427.2L319.0 427.8L318.5 428.6L318.3 429.7L317.7 430.4L317.0 431.1L316.4 431.9L315.6 432.3L314.7 432.8L314.0 433.5L313.0 433.7L311.9 433.5L311.2 433.8L310.3 434.5L309.2 434.6L308.2 434.4L307.2 434.1L306.3 433.4L305.4 433.0L304.3 433.1L303.4 432.6L302.5 431.9L301.2 431.9L300.3 431.8L299.4 431.4L298.5 431.0L297.7 430.3L296.8 429.6L295.6 429.8L294.5 430.0L293.7 429.4L292.8 428.9L291.7 428.7L290.9 428.2L290.0 427.8L289.1 427.5L288.4 426.9L287.7 426.4L286.4 426.3L285.3 425.8L285.0 424.7L284.5 423.8L283.9 422.9L283.6 422.1L282.9 421.4L282.2 420.7L282.1 419.7L281.8 418.8L281.0 418.1L280.4 417.4L280.3 416.3L279.9 415.4L279.4 414.6L278.8 413.8L278.0 413.1L277.2 412.4L277.2 411.4L277.4 410.3L277.0 409.5L276.6 408.6L276.6 407.6L276.4 406.7L276.1 405.9L275.9 405.0L275.6 404.1L274.9 403.4L274.8 402.5L275.3 401.4L275.5 400.4L275.2 399.6L274.9 398.6L274.7 397.6L274.5 396.6L274.7 395.5L275.0 394.6L274.8 393.7Z" fill="#A3FAF7" fill-opacity="0.52" fill-rule="evenodd" stroke="none"/>
<path d="M274.7 392.9L275.5 392.0L276.0 391.4L276.3 390.7L276.8 389.8L277.4 389.2L278.2 388.6L279.2 388.2L280.5 388.5L281.5 388.1L282.5 387.6L283.4 387.8L284.3 388.2L285.3 388.1L286.4 388.4L287.4 388.7L288.3 389.0L289.1 389.9L289.8 390.5L291.2 390.3L292.3 390.2L293.2 390.8L294.1 391.2L295.0 391.7L295.8 392.4L296.8 392.6L297.7 393.0L298.3 393.9L299.2 394.3L300.2 394.3L301.1 395.0L301.4 396.0L301.8 396.9L302.4 397.6L303.5 398.0L304.7 397.3L305.9 396.9L306.8 397.5L307.5 397.9L308.2 398.6L308.4 399.5L308.6 400.6L309.1 401.3L309.4 402.1L309.8 402.9L310.7 403.4L311.7 403.8L312.1 404.8L312.6 405.9L313.5 406.5L314.2 407.3L314.9 408.1L315.6 408.7L315.9 409.6L316.2 410.5L317.0 411.1L317.5 411.9L317.5 413.0L317.6 414.1L318.3 414.8L319.0 415.6L319.9 416.3L320.7 416.9L320.8 417.9L320.7 419.1L321.3 420.0L321.4 421.0L321.0 422.0L321.0 423.0L321.0 424.0L320.8 425.1L320.8 426.3L320.1 427.2L319.0 427.8L318.5 428.6L318.3 429.7L317.7 430.4L317.0 431.1L316.4 431.9L315.6 432.3L314.7 432.8L314.0 433.5L313.0 433.7L311.9 433.5L311.2 433.8L310.3 434.5L309.2 434.6L308.2 434.4L307.2 434.1L306.3 433.4L305.4 433.0L304.3 433.1L303.4 432.6L302.5 431.9L301.2 431.9L300.3 431.8L299.4 431.4L298.5 431.0L297.7 430.3L296.8 429.6L295.6 429.8L294.5 430.0L293.7 429.4L292.8 428.9L291.7 428.7L290.9 428.2L290.0 427.8L289.1 427.5L288.4 426.9L287.7 426.4L286.4 426.3L285.3 425.8L285.0 424.7L284.5 423.8L283.9 422.9L283.6 422.1L282.9 421.4L282.2 420.7L282.1 419.7L281.8 418.8L281.0 418.1L280.4 417.4L280.3 416.3L279.9 415.4L279.4 414.6L278.8 413.8L278.0 413.1L277.2 412.4L277.2 411.4L277.4 410.3L277.0 409.5L276.6 408.6L276.6 407.6L276.4 406.7L276.1 405.9L275.9 405.0L275.6 404.1L274.9 403.4L274.8 402.5L275.3 401.4L275.5 400.4L275.2 399.6L274.9 398.6L274.7 397.6L274.5 396.6L274.7 395.5L275.0 394.6L274.8 393.7Z" fill="#1EAF8A" fill-opacity="0.6" fill-rule="evenodd" stroke="none"/>
<path d="M267.6 376.8L267.9 375.8L268.6 375.0L269.5 374.7L270.5 375.5L271.5 376.1L272.4 375.9L273.4 376.3L274.0 377.3L275.0 377.7L275.9 377.9L276.8 378.0L277.8 377.6L278.7 377.7L279.8 378.1L280.7 377.7L281.1 376.7L281.8 375.9L282.8 375.6L283.9 375.2L285.1 375.7L286.2 375.8L287.4 375.4L288.4 376.1L289.4 376.5L290.7 376.3L291.8 376.6L292.7 377.1L293.5 377.9L294.0 379.2L294.8 379.6L296.0 379.5L296.8 379.9L297.4 380.7L298.2 381.0L299.2 381.4L300.0 382.1L301.0 382.4L301.8 383.1L302.3 384.0L303.1 384.3L304.3 384.2L305.2 384.5L305.8 385.3L306.4 385.9L307.1 386.7L307.7 387.5L308.5 387.8L309.5 387.8L310.4 388.6L311.4 389.1L312.6 388.8L313.5 389.1L314.5 389.7L315.4 390.2L315.9 390.9L316.4 391.5L317.7 392.1L318.1 393.2L318.0 394.6L318.6 395.4L319.0 396.4L319.4 397.5L320.1 398.3L320.6 399.3L321.7 399.7L323.1 399.1L324.1 399.9L324.6 401.0L324.9 401.7L325.2 402.6L325.6 403.5L326.3 404.4L326.5 405.3L326.4 406.4L327.1 407.2L327.8 407.9L327.9 409.1L328.2 410.0L329.0 410.7L329.8 411.4L330.8 411.8L331.7 412.0L332.2 413.4L332.6 414.5L333.3 414.8L333.1 415.8L332.0 416.4L331.0 416.7L329.7 416.5L329.1 416.7L329.6 417.4L329.4 419.2L330.2 420.0L331.4 420.1L332.6 420.6L333.4 421.0L334.1 421.6L334.4 422.6L334.9 423.4L335.8 423.8L336.4 425.0L336.7 426.2L337.5 427.0L337.5 428.0L337.2 428.9L337.1 429.7L336.9 430.6L336.8 431.9L338.0 432.6L338.6 433.4L338.4 434.4L338.4 435.4L338.1 436.3L336.9 437.0L335.7 437.7L334.6 436.7L334.0 436.3L333.4 435.4L333.7 434.3L333.3 433.2L332.6 432.1L331.5 432.2L331.0 433.3L330.6 434.3L330.1 435.0L330.2 436.0L330.9 436.8L331.2 437.8L330.9 438.8L330.6 439.7L330.1 440.6L329.5 441.4L329.8 442.4L330.3 443.4L329.7 444.6L329.2 445.6L328.8 446.6L327.9 447.0L326.8 447.3L325.6 447.7L324.4 447.8L323.7 449.3L322.7 450.1L321.6 449.7L321.5 448.9L321.6 447.8L321.5 446.7L320.4 446.2L319.6 446.8L319.2 447.3L318.6 448.2L318.7 449.3L318.0 450.4L316.7 450.1L316.3 449.7L315.6 449.2L314.7 448.5L313.5 448.5L312.5 448.7L311.7 447.9L310.9 447.1L309.8 447.1L309.0 446.9L308.1 446.4L307.3 446.3L306.3 446.1L305.4 445.8L304.3 446.0L303.1 446.1L302.3 445.0L301.5 444.3L300.4 444.3L299.5 444.1L298.5 443.9L297.6 443.8L296.8 443.2L296.1 442.5L295.2 442.5L294.2 442.6L293.4 441.9L292.7 441.2L291.6 441.2L290.5 441.2L289.3 441.1L288.2 440.9L287.6 439.7L287.1 438.8L286.1 438.6L285.1 438.2L284.6 437.4L283.7 436.8L282.9 436.2L282.2 435.4L281.3 434.9L280.6 434.0L280.6 432.6L279.8 432.0L278.5 431.7L277.8 430.9L277.2 430.0L276.8 429.0L276.6 427.8L275.8 427.2L274.9 426.7L274.5 425.8L274.0 424.9L272.9 424.5L272.0 424.0L271.6 423.2L271.2 422.2L271.2 421.2L271.3 420.1L270.6 419.3L269.6 418.9L269.1 418.3L268.6 417.4L267.6 417.1L266.6 416.7L265.8 416.1L265.0 415.5L264.7 414.6L264.7 413.5L263.7 412.7L262.7 411.8L263.0 410.6L262.9 409.6L262.8 408.7L262.7 407.7L262.1 406.9L261.4 406.1L261.5 405.1L261.5 404.2L260.6 403.3L260.3 402.2L260.6 401.1L260.6 400.2L260.7 399.2L260.6 398.1L259.7 397.0L259.8 395.9L260.8 394.9L261.1 394.0L261.4 393.1L262.1 392.3L262.4 391.4L262.6 390.5L262.6 389.5L261.9 388.7L260.8 387.9L261.1 386.7L262.1 386.0L262.5 385.1L262.9 384.1L263.3 383.2L263.5 382.1L264.3 381.5L265.5 381.5L266.3 381.1L266.6 380.3L267.0 379.6L267.8 378.6L267.7 377.6Z" fill="none" stroke="#72C4BC" stroke-opacity="1" stroke-width="1.08" stroke-linejoin="round"/>
<path d="M274.7 392.9L275.5 392.0L276.0 391.4L276.3 390.7L276.8 389.8L277.4 389.2L278.2 388.6L279.2 388.2L280.5 388.5L281.5 388.1L282.5 387.6L283.4 387.8L284.3 388.2L285.3 388.1L286.4 388.4L287.4 388.7L288.3 389.0L289.1 389.9L289.8 390.5L291.2 390.3L292.3 390.2L293.2 390.8L294.1 391.2L295.0 391.7L295.8 392.4L296.8 392.6L297.7 393.0L298.3 393.9L299.2 394.3L300.2 394.3L301.1 395.0L301.4 396.0L301.8 396.9L302.4 397.6L303.5 398.0L304.7 397.3L305.9 396.9L306.8 397.5L307.5 397.9L308.2 398.6L308.4 399.5L308.6 400.6L309.1 401.3L309.4 402.1L309.8 402.9L310.7 403.4L311.7 403.8L312.1 404.8L312.6 405.9L313.5 406.5L314.2 407.3L314.9 408.1L315.6 408.7L315.9 409.6L316.2 410.5L317.0 411.1L317.5 411.9L317.5 413.0L317.6 414.1L318.3 414.8L319.0 415.6L319.9 416.3L320.7 416.9L320.8 417.9L320.7 419.1L321.3 420.0L321.4 421.0L321.0 422.0L321.0 423.0L321.0 424.0L320.8 425.1L320.8 426.3L320.1 427.2L319.0 427.8L318.5 428.6L318.3 429.7L317.7 430.4L317.0 431.1L316.4 431.9L315.6 432.3L314.7 432.8L314.0 433.5L313.0 433.7L311.9 433.5L311.2 433.8L310.3 434.5L309.2 434.6L308.2 434.4L307.2 434.1L306.3 433.4L305.4 433.0L304.3 433.1L303.4 432.6L302.5 431.9L301.2 431.9L300.3 431.8L299.4 431.4L298.5 431.0L297.7 430.3L296.8 429.6L295.6 429.8L294.5 430.0L293.7 429.4L292.8 428.9L291.7 428.7L290.9 428.2L290.0 427.8L289.1 427.5L288.4 426.9L287.7 426.4L286.4 426.3L285.3 425.8L285.0 424.7L284.5 423.8L283.9 422.9L283.6 422.1L282.9 421.4L282.2 420.7L282.1 419.7L281.8 418.8L281.0 418.1L280.4 417.4L280.3 416.3L279.9 415.4L279.4 414.6L278.8 413.8L278.0 413.1L277.2 412.4L277.2 411.4L277.4 410.3L277.0 409.5L276.6 408.6L276.6 407.6L276.4 406.7L276.1 405.9L275.9 405.0L275.6 404.1L274.9 403.4L274.8 402.5L275.3 401.4L275.5 400.4L275.2 399.6L274.9 398.6L274.7 397.6L274.5 396.6L274.7 395.5L275.0 394.6L274.8 393.7Z" fill="none" stroke="#2E8A80" stroke-opacity="1" stroke-width="1.08" stroke-linejoin="round"/>
<path d="M265.8 382.9L266.9 382.4L268.1 382.2L268.8 381.3L269.7 380.7L270.8 380.5L271.7 380.2L272.7 380.1L273.7 379.7L274.3 378.8L275.0 378.5L275.7 379.5L276.9 380.4L277.7 380.7L278.6 381.1L279.5 381.5L280.0 382.4L279.9 383.6L280.6 384.6L281.5 385.3L282.2 385.9L283.2 386.3L284.4 386.8L285.4 387.1L286.5 386.9L287.6 387.4L288.6 387.8L289.8 387.5L290.9 387.8L291.7 388.6L292.5 389.2L293.3 390.1L294.2 390.6L295.4 390.5L296.4 390.9L297.2 391.7L298.3 392.1L299.2 392.6L300.0 393.1L301.4 393.0L302.7 392.8L303.4 391.8L303.7 390.5L304.9 390.2L306.0 390.6L307.1 390.8L308.0 391.4L308.5 391.8L309.2 392.4L309.5 393.3L309.9 394.4L310.8 394.8L311.6 395.4L312.0 396.6L312.7 397.5L313.6 398.2L314.5 398.8L315.8 398.9L316.6 399.6L317.1 400.7L318.1 401.2L318.9 401.8L319.5 402.5L320.4 403.1L321.1 403.7L321.8 404.3L322.8 404.6L323.8 404.7L324.4 405.6L324.7 406.6L325.3 407.0L326.0 407.6L326.4 408.5L326.8 409.4L326.9 410.5L326.4 411.4L326.1 412.4L326.2 413.5L325.7 414.5L325.2 415.4L325.4 416.5L325.5 417.5L325.5 418.5L325.6 419.6L325.0 420.5L324.2 421.4L324.4 422.5L324.7 423.5L324.5 424.5L324.5 425.5L324.6 426.5L324.4 427.5L324.7 428.5L324.9 429.5L324.6 430.6L324.9 431.6L326.0 432.3L326.6 433.1L326.9 434.0L327.1 434.9L326.4 436.4L326.1 437.1L325.4 437.4L324.3 436.7L323.1 436.1L322.3 436.1L321.5 435.8L320.7 435.4L319.8 435.1L318.8 434.6L317.9 434.2L316.7 434.6L315.6 435.0L314.5 434.5L313.5 434.2L312.5 434.1L311.4 434.0L310.4 434.5L309.5 434.7L308.5 434.6L307.5 434.9L306.4 435.3L305.5 434.8L304.5 434.2L303.5 433.9L302.4 433.8L301.5 434.4L300.7 435.4L299.6 435.5L298.4 435.6L297.5 436.2L296.5 436.3L295.5 436.4L294.5 436.6L293.5 436.6L292.5 436.7L291.4 437.1L290.4 436.7L289.6 435.6L288.6 435.3L287.5 435.3L286.5 435.5L285.5 436.0L284.5 436.1L283.4 435.9L282.5 436.2L281.3 436.3L280.3 435.5L279.3 435.3L278.1 435.5L277.0 435.8L276.0 436.4L274.8 436.2L273.8 435.6L272.9 435.7L271.9 435.7L271.0 435.2L270.0 434.9L269.0 434.8L268.1 434.4L267.0 434.3L265.9 434.1L265.1 433.2L264.1 432.9L263.0 433.3L262.0 433.3L261.2 433.0L260.4 432.6L259.9 431.5L259.9 430.4L259.3 429.3L259.3 428.4L259.9 427.6L260.1 426.7L260.1 425.7L260.4 424.8L260.8 423.9L261.1 423.1L261.9 422.3L262.5 421.5L262.1 420.5L261.3 419.7L261.1 418.9L260.9 417.9L260.4 417.0L260.1 416.1L259.6 415.1L258.7 414.5L258.3 413.4L257.7 412.5L256.6 411.9L256.0 411.2L255.9 410.2L255.6 409.2L255.4 408.3L255.2 407.4L254.5 406.7L253.5 405.9L253.5 404.7L253.2 403.7L252.7 402.8L252.5 401.7L252.3 400.8L252.0 399.9L251.8 398.9L251.5 398.1L250.9 397.4L250.8 396.1L252.0 395.3L252.7 394.4L253.3 393.7L254.1 393.0L254.7 392.1L255.5 391.5L256.7 391.3L257.6 390.5L258.7 390.2L259.6 390.8L260.5 391.2L261.6 391.3L262.5 391.2L263.2 390.6L263.8 389.9L264.8 389.7L265.9 389.6L266.7 388.5L267.6 387.6L268.2 386.8L267.6 385.8L266.9 384.9L266.1 384.0ZM260.4 402.3L261.2 401.4L262.5 401.3L263.8 401.0L264.7 400.5L265.7 400.4L266.8 400.4L267.8 400.3L268.8 400.3L269.9 399.8L270.8 399.2L271.9 399.3L272.6 399.4L273.4 399.4L274.4 399.5L275.3 399.8L276.3 400.1L277.2 400.4L278.2 400.8L279.2 400.7L280.4 400.5L281.4 400.7L282.5 400.8L283.6 400.6L284.6 400.7L285.6 400.9L286.7 401.1L287.7 401.4L288.7 401.3L289.8 400.9L290.8 401.0L291.9 401.3L292.9 401.4L294.0 401.5L295.0 401.6L296.1 401.5L297.2 401.6L298.3 401.6L299.4 401.2L300.4 401.3L301.2 401.8L302.3 402.3L303.3 402.7L304.1 403.1L305.1 403.5L305.9 404.2L306.3 405.1L307.0 405.9L307.6 406.7L307.9 407.7L308.3 408.7L308.7 409.6L308.9 410.5L309.3 411.6L309.3 412.8L308.5 413.6L307.7 414.1L307.0 414.8L306.2 415.5L305.6 416.1L305.2 417.2L305.0 418.2L305.0 419.3L305.6 419.9L306.3 420.7L306.7 421.8L307.2 422.5L308.0 423.5L308.2 424.6L308.0 425.6L307.2 426.2L306.0 426.2L304.9 426.6L303.8 427.1L302.8 427.1L301.8 427.4L300.8 427.8L299.8 428.0L298.8 428.2L297.8 428.1L296.8 427.7L295.8 427.6L294.7 428.0L293.7 428.0L292.7 427.6L291.7 427.4L290.7 427.1L289.8 426.8L288.7 426.8L287.8 426.6L286.8 426.3L285.8 426.5L284.7 426.8L283.8 426.7L282.7 426.5L281.6 426.5L280.5 426.4L279.6 426.7L278.7 426.9L277.2 426.4L276.2 425.8L276.0 424.7L276.5 423.5L277.0 422.4L277.6 421.6L278.2 420.8L278.0 419.9L277.4 419.5L276.8 418.8L276.0 417.9L275.0 417.3L274.3 416.8L273.6 416.3L272.8 415.9L272.0 415.5L271.3 414.8L270.5 414.3L269.5 413.9L268.9 413.1L268.4 412.2L267.7 411.6L266.8 411.1L265.9 410.5L265.0 410.1L264.3 409.4L263.8 408.5L263.1 407.8L262.2 407.1L261.8 406.2L261.4 405.4L260.8 404.4L260.4 403.3Z" fill="#DB92DB" fill-opacity="0.55" fill-rule="evenodd" stroke="none"/>
<path d="M260.4 402.3L261.2 401.4L262.5 401.3L263.8 401.0L264.7 400.5L265.7 400.4L266.8 400.4L267.8 400.3L268.8 400.3L269.9 399.8L270.8 399.2L271.9 399.3L272.6 399.4L273.4 399.4L274.4 399.5L275.3 399.8L276.3 400.1L277.2 400.4L278.2 400.8L279.2 400.7L280.4 400.5L281.4 400.7L282.5 400.8L283.6 400.6L284.6 400.7L285.6 400.9L286.7 401.1L287.7 401.4L288.7 401.3L289.8 400.9L290.8 401.0L291.9 401.3L292.9 401.4L294.0 401.5L295.0 401.6L296.1 401.5L297.2 401.6L298.3 401.6L299.4 401.2L300.4 401.3L301.2 401.8L302.3 402.3L303.3 402.7L304.1 403.1L305.1 403.5L305.9 404.2L306.3 405.1L307.0 405.9L307.6 406.7L307.9 407.7L308.3 408.7L308.7 409.6L308.9 410.5L309.3 411.6L309.3 412.8L308.5 413.6L307.7 414.1L307.0 414.8L306.2 415.5L305.6 416.1L305.2 417.2L305.0 418.2L305.0 419.3L305.6 419.9L306.3 420.7L306.7 421.8L307.2 422.5L308.0 423.5L308.2 424.6L308.0 425.6L307.2 426.2L306.0 426.2L304.9 426.6L303.8 427.1L302.8 427.1L301.8 427.4L300.8 427.8L299.8 428.0L298.8 428.2L297.8 428.1L296.8 427.7L295.8 427.6L294.7 428.0L293.7 428.0L292.7 427.6L291.7 427.4L290.7 427.1L289.8 426.8L288.7 426.8L287.8 426.6L286.8 426.3L285.8 426.5L284.7 426.8L283.8 426.7L282.7 426.5L281.6 426.5L280.5 426.4L279.6 426.7L278.7 426.9L277.2 426.4L276.2 425.8L276.0 424.7L276.5 423.5L277.0 422.4L277.6 421.6L278.2 420.8L278.0 419.9L277.4 419.5L276.8 418.8L276.0 417.9L275.0 417.3L274.3 416.8L273.6 416.3L272.8 415.9L272.0 415.5L271.3 414.8L270.5 414.3L269.5 413.9L268.9 413.1L268.4 412.2L267.7 411.6L266.8 411.1L265.9 410.5L265.0 410.1L264.3 409.4L263.8 408.5L263.1 407.8L262.2 407.1L261.8 406.2L261.4 405.4L260.8 404.4L260.4 403.3Z" fill="#885E8D" fill-opacity="0.55" fill-rule="evenodd" stroke="none"/>
<path d="M265.8 382.9L266.9 382.4L268.1 382.2L268.8 381.3L269.7 380.7L270.8 380.5L271.7 380.2L272.7 380.1L273.7 379.7L274.3 378.8L275.0 378.5L275.7 379.5L276.9 380.4L277.7 380.7L278.6 381.1L279.5 381.5L280.0 382.4L279.9 383.6L280.6 384.6L281.5 385.3L282.2 385.9L283.2 386.3L284.4 386.8L285.4 387.1L286.5 386.9L287.6 387.4L288.6 387.8L289.8 387.5L290.9 387.8L291.7 388.6L292.5 389.2L293.3 390.1L294.2 390.6L295.4 390.5L296.4 390.9L297.2 391.7L298.3 392.1L299.2 392.6L300.0 393.1L301.4 393.0L302.7 392.8L303.4 391.8L303.7 390.5L304.9 390.2L306.0 390.6L307.1 390.8L308.0 391.4L308.5 391.8L309.2 392.4L309.5 393.3L309.9 394.4L310.8 394.8L311.6 395.4L312.0 396.6L312.7 397.5L313.6 398.2L314.5 398.8L315.8 398.9L316.6 399.6L317.1 400.7L318.1 401.2L318.9 401.8L319.5 402.5L320.4 403.1L321.1 403.7L321.8 404.3L322.8 404.6L323.8 404.7L324.4 405.6L324.7 406.6L325.3 407.0L326.0 407.6L326.4 408.5L326.8 409.4L326.9 410.5L326.4 411.4L326.1 412.4L326.2 413.5L325.7 414.5L325.2 415.4L325.4 416.5L325.5 417.5L325.5 418.5L325.6 419.6L325.0 420.5L324.2 421.4L324.4 422.5L324.7 423.5L324.5 424.5L324.5 425.5L324.6 426.5L324.4 427.5L324.7 428.5L324.9 429.5L324.6 430.6L324.9 431.6L326.0 432.3L326.6 433.1L326.9 434.0L327.1 434.9L326.4 436.4L326.1 437.1L325.4 437.4L324.3 436.7L323.1 436.1L322.3 436.1L321.5 435.8L320.7 435.4L319.8 435.1L318.8 434.6L317.9 434.2L316.7 434.6L315.6 435.0L314.5 434.5L313.5 434.2L312.5 434.1L311.4 434.0L310.4 434.5L309.5 434.7L308.5 434.6L307.5 434.9L306.4 435.3L305.5 434.8L304.5 434.2L303.5 433.9L302.4 433.8L301.5 434.4L300.7 435.4L299.6 435.5L298.4 435.6L297.5 436.2L296.5 436.3L295.5 436.4L294.5 436.6L293.5 436.6L292.5 436.7L291.4 437.1L290.4 436.7L289.6 435.6L288.6 435.3L287.5 435.3L286.5 435.5L285.5 436.0L284.5 436.1L283.4 435.9L282.5 436.2L281.3 436.3L280.3 435.5L279.3 435.3L278.1 435.5L277.0 435.8L276.0 436.4L274.8 436.2L273.8 435.6L272.9 435.7L271.9 435.7L271.0 435.2L270.0 434.9L269.0 434.8L268.1 434.4L267.0 434.3L265.9 434.1L265.1 433.2L264.1 432.9L263.0 433.3L262.0 433.3L261.2 433.0L260.4 432.6L259.9 431.5L259.9 430.4L259.3 429.3L259.3 428.4L259.9 427.6L260.1 426.7L260.1 425.7L260.4 424.8L260.8 423.9L261.1 423.1L261.9 422.3L262.5 421.5L262.1 420.5L261.3 419.7L261.1 418.9L260.9 417.9L260.4 417.0L260.1 416.1L259.6 415.1L258.7 414.5L258.3 413.4L257.7 412.5L256.6 411.9L256.0 411.2L255.9 410.2L255.6 409.2L255.4 408.3L255.2 407.4L254.5 406.7L253.5 405.9L253.5 404.7L253.2 403.7L252.7 402.8L252.5 401.7L252.3 400.8L252.0 399.9L251.8 398.9L251.5 398.1L250.9 397.4L250.8 396.1L252.0 395.3L252.7 394.4L253.3 393.7L254.1 393.0L254.7 392.1L255.5 391.5L256.7 391.3L257.6 390.5L258.7 390.2L259.6 390.8L260.5 391.2L261.6 391.3L262.5 391.2L263.2 390.6L263.8 389.9L264.8 389.7L265.9 389.6L266.7 388.5L267.6 387.6L268.2 386.8L267.6 385.8L266.9 384.9L266.1 384.0Z" fill="none" stroke="#A2569C" stroke-opacity="1" stroke-width="1.08" stroke-linejoin="round"/>
<path d="M260.4 402.3L261.2 401.4L262.5 401.3L263.8 401.0L264.7 400.5L265.7 400.4L266.8 400.4L267.8 400.3L268.8 400.3L269.9 399.8L270.8 399.2L271.9 399.3L272.6 399.4L273.4 399.4L274.4 399.5L275.3 399.8L276.3 400.1L277.2 400.4L278.2 400.8L279.2 400.7L280.4 400.5L281.4 400.7L282.5 400.8L283.6 400.6L284.6 400.7L285.6 400.9L286.7 401.1L287.7 401.4L288.7 401.3L289.8 400.9L290.8 401.0L291.9 401.3L292.9 401.4L294.0 401.5L295.0 401.6L296.1 401.5L297.2 401.6L298.3 401.6L299.4 401.2L300.4 401.3L301.2 401.8L302.3 402.3L303.3 402.7L304.1 403.1L305.1 403.5L305.9 404.2L306.3 405.1L307.0 405.9L307.6 406.7L307.9 407.7L308.3 408.7L308.7 409.6L308.9 410.5L309.3 411.6L309.3 412.8L308.5 413.6L307.7 414.1L307.0 414.8L306.2 415.5L305.6 416.1L305.2 417.2L305.0 418.2L305.0 419.3L305.6 419.9L306.3 420.7L306.7 421.8L307.2 422.5L308.0 423.5L308.2 424.6L308.0 425.6L307.2 426.2L306.0 426.2L304.9 426.6L303.8 427.1L302.8 427.1L301.8 427.4L300.8 427.8L299.8 428.0L298.8 428.2L297.8 428.1L296.8 427.7L295.8 427.6L294.7 428.0L293.7 428.0L292.7 427.6L291.7 427.4L290.7 427.1L289.8 426.8L288.7 426.8L287.8 426.6L286.8 426.3L285.8 426.5L284.7 426.8L283.8 426.7L282.7 426.5L281.6 426.5L280.5 426.4L279.6 426.7L278.7 426.9L277.2 426.4L276.2 425.8L276.0 424.7L276.5 423.5L277.0 422.4L277.6 421.6L278.2 420.8L278.0 419.9L277.4 419.5L276.8 418.8L276.0 417.9L275.0 417.3L274.3 416.8L273.6 416.3L272.8 415.9L272.0 415.5L271.3 414.8L270.5 414.3L269.5 413.9L268.9 413.1L268.4 412.2L267.7 411.6L266.8 411.1L265.9 410.5L265.0 410.1L264.3 409.4L263.8 408.5L263.1 407.8L262.2 407.1L261.8 406.2L261.4 405.4L260.8 404.4L260.4 403.3Z" fill="none" stroke="#6E2A62" stroke-opacity="1" stroke-width="1.08" stroke-linejoin="round"/>
</g>
<g clip-path="url(#c30)">
<path d="M106.6 554.5L106.6 553.2L107.7 552.6L108.9 552.6L109.8 552.4L110.9 552.7L112.1 552.9L113.3 552.8L114.3 552.9L115.1 552.4L115.7 551.2L116.6 550.9L117.6 551.2L118.6 551.5L119.5 551.8L120.5 552.0L121.4 551.5L122.2 550.5L123.5 550.4L124.5 549.7L125.4 549.3L126.3 549.8L127.2 550.2L128.2 550.3L129.2 550.5L130.2 550.3L131.4 549.9L132.2 550.5L132.8 551.8L133.6 552.3L134.4 552.8L134.8 553.7L135.4 554.6L135.9 555.5L136.3 556.3L137.3 556.5L138.3 556.6L138.9 557.5L139.7 558.6L140.9 558.6L142.0 558.7L143.2 558.7L144.3 559.0L144.9 560.3L145.6 560.9L146.7 561.2L147.4 562.0L148.2 562.7L149.2 562.8L150.2 563.2L151.2 563.3L151.9 563.2L153.5 563.9L154.3 563.8L154.9 563.8L155.6 564.6L156.0 565.5L156.7 566.4L157.1 567.8L158.2 568.3L159.2 567.8L160.5 568.0L161.3 567.8L162.4 567.9L163.2 568.8L163.6 570.0L163.2 571.0L162.0 571.9L162.2 573.2L163.2 573.7L163.7 574.4L164.0 575.3L164.6 576.2L165.0 577.0L165.3 577.9L166.0 578.7L166.4 579.7L166.5 580.9L167.3 581.5L168.4 582.1L168.6 583.2L168.6 584.3L168.8 585.4L169.0 586.5L169.7 587.2L170.7 587.7L171.1 588.6L171.2 589.6L172.0 590.2L172.6 590.9L172.7 591.9L172.9 593.0L173.1 594.1L173.3 595.2L174.3 595.9L175.1 596.7L174.6 598.0L174.3 599.0L174.3 600.0L174.1 600.9L174.2 601.9L174.4 603.0L173.9 603.8L173.0 604.5L172.5 605.8L171.5 606.3L170.7 607.0L170.6 608.1L170.7 609.0L170.7 610.0L170.7 611.2L169.9 611.9L168.6 612.1L168.0 613.0L168.1 614.2L167.8 615.3L167.9 616.5L167.6 617.5L167.1 618.1L166.6 619.0L165.9 619.7L164.7 619.5L163.6 619.3L162.9 619.9L162.2 620.5L161.3 620.9L160.5 621.4L159.6 621.7L158.5 621.4L157.5 621.8L156.6 622.6L155.4 622.5L154.4 622.7L153.5 623.5L152.5 624.0L151.5 624.5L150.5 624.6L149.5 623.9L148.5 623.7L147.5 624.3L146.5 624.3L145.7 623.8L144.8 623.2L144.2 622.2L143.3 621.8L142.7 622.2L141.9 622.7L140.7 622.7L139.8 623.4L139.4 624.7L138.6 625.3L137.6 625.4L136.6 625.1L135.9 624.2L135.4 623.3L134.1 623.1L133.1 622.7L132.5 621.9L131.6 621.5L130.6 621.3L129.9 620.6L129.1 619.9L128.3 619.3L127.7 618.3L126.8 618.0L125.5 618.3L124.5 617.9L124.0 616.9L123.3 616.2L122.6 615.4L122.0 614.6L120.9 614.2L120.2 613.4L119.8 612.4L118.7 612.0L117.8 611.5L117.5 610.5L117.1 609.5L116.6 608.7L116.1 607.8L115.2 607.4L113.9 607.0L113.6 605.9L113.4 604.7L112.6 604.2L112.0 603.8L111.0 603.6L110.2 604.2L109.5 605.0L108.5 605.8L108.4 607.4L107.1 608.2L106.8 606.6L106.8 605.0L106.8 604.2L107.0 603.2L106.9 602.1L107.4 601.2L107.9 600.2L107.4 599.1L107.4 597.9L107.7 596.8L107.1 595.8L106.5 594.9L105.8 594.1L104.9 593.5L104.8 592.4L104.9 591.2L104.2 590.5L103.2 590.0L102.7 589.3L102.1 588.7L101.4 588.0L101.1 587.1L100.8 586.2L100.1 585.4L99.9 584.4L100.4 583.2L100.0 582.2L99.3 581.2L99.3 580.2L99.5 579.0L100.3 578.2L101.3 577.3L101.0 576.2L100.2 575.4L99.9 574.4L99.1 573.5L98.3 572.8L98.1 571.9L98.2 570.8L98.8 569.9L100.1 569.4L100.6 568.4L100.3 567.0L100.7 566.1L101.4 565.3L101.9 564.3L102.6 563.3L102.4 562.1L102.2 560.9L102.9 560.2L103.4 559.4L103.9 558.2L104.9 557.8L105.7 557.5L106.2 556.5L106.8 555.4ZM114.4 570.0L115.3 569.1L116.0 568.2L117.0 567.6L117.8 567.1L118.6 566.3L119.7 566.4L121.0 566.9L122.1 566.6L123.0 566.2L124.0 565.9L125.0 565.5L126.1 565.6L127.2 565.7L128.3 565.4L129.2 565.5L130.0 566.2L130.9 566.5L131.9 566.4L132.8 566.4L133.7 566.4L134.6 566.3L135.6 567.1L136.6 567.8L137.7 567.6L138.7 567.8L139.4 568.3L140.5 568.8L141.2 569.7L142.1 570.5L142.9 570.7L143.5 571.4L144.0 572.5L144.7 573.0L145.7 573.1L146.5 573.7L147.2 574.4L147.9 575.1L148.2 576.1L148.7 577.0L149.6 577.6L150.1 578.6L150.4 579.8L151.4 580.4L152.2 581.1L152.8 581.8L153.4 582.5L153.7 583.4L153.6 584.4L154.1 585.3L154.9 585.8L155.5 586.5L155.8 587.4L156.4 588.2L156.8 589.1L157.0 590.0L157.5 590.9L157.8 592.0L157.4 593.1L157.7 594.1L158.5 595.0L158.6 596.0L158.5 597.1L158.2 598.1L157.6 599.0L157.3 599.9L157.3 601.1L156.5 601.9L155.8 602.7L155.9 603.8L156.2 604.6L156.6 605.6L156.9 606.6L156.7 607.5L156.1 608.3L156.1 609.7L155.2 610.4L154.4 609.9L153.6 609.2L152.8 608.6L152.0 608.0L151.1 608.0L150.2 608.3L149.2 608.2L148.1 608.3L147.4 609.1L146.7 609.8L145.7 609.9L144.7 609.9L143.9 609.9L142.9 609.7L142.0 609.8L141.1 610.3L140.1 610.2L139.3 609.6L138.4 609.4L137.3 609.3L136.5 608.7L135.8 608.1L134.8 607.5L134.1 606.7L133.0 606.5L131.8 606.7L130.9 606.1L130.2 605.3L129.2 604.9L128.3 604.2L127.6 603.8L126.7 603.5L126.0 602.9L125.4 602.2L124.5 601.9L123.3 601.6L122.7 600.5L122.3 599.4L121.6 598.5L121.2 597.8L120.4 597.3L119.5 596.8L119.1 595.9L119.0 594.9L118.4 594.2L117.7 593.6L117.4 592.7L117.1 591.8L116.5 591.1L115.8 590.2L114.7 589.7L113.4 589.4L113.0 588.2L113.2 587.0L112.8 586.0L112.8 584.9L112.6 583.7L112.6 582.8L113.1 582.0L113.5 581.2L113.4 580.2L113.5 579.4L114.0 578.3L113.9 577.1L113.6 576.1L113.3 575.0L112.9 573.9L113.2 572.9L114.1 571.9L114.2 570.9Z" fill="#A3FAF7" fill-opacity="0.52" fill-rule="evenodd" stroke="none"/>
<path d="M114.4 570.0L115.3 569.1L116.0 568.2L117.0 567.6L117.8 567.1L118.6 566.3L119.7 566.4L121.0 566.9L122.1 566.6L123.0 566.2L124.0 565.9L125.0 565.5L126.1 565.6L127.2 565.7L128.3 565.4L129.2 565.5L130.0 566.2L130.9 566.5L131.9 566.4L132.8 566.4L133.7 566.4L134.6 566.3L135.6 567.1L136.6 567.8L137.7 567.6L138.7 567.8L139.4 568.3L140.5 568.8L141.2 569.7L142.1 570.5L142.9 570.7L143.5 571.4L144.0 572.5L144.7 573.0L145.7 573.1L146.5 573.7L147.2 574.4L147.9 575.1L148.2 576.1L148.7 577.0L149.6 577.6L150.1 578.6L150.4 579.8L151.4 580.4L152.2 581.1L152.8 581.8L153.4 582.5L153.7 583.4L153.6 584.4L154.1 585.3L154.9 585.8L155.5 586.5L155.8 587.4L156.4 588.2L156.8 589.1L157.0 590.0L157.5 590.9L157.8 592.0L157.4 593.1L157.7 594.1L158.5 595.0L158.6 596.0L158.5 597.1L158.2 598.1L157.6 599.0L157.3 599.9L157.3 601.1L156.5 601.9L155.8 602.7L155.9 603.8L156.2 604.6L156.6 605.6L156.9 606.6L156.7 607.5L156.1 608.3L156.1 609.7L155.2 610.4L154.4 609.9L153.6 609.2L152.8 608.6L152.0 608.0L151.1 608.0L150.2 608.3L149.2 608.2L148.1 608.3L147.4 609.1L146.7 609.8L145.7 609.9L144.7 609.9L143.9 609.9L142.9 609.7L142.0 609.8L141.1 610.3L140.1 610.2L139.3 609.6L138.4 609.4L137.3 609.3L136.5 608.7L135.8 608.1L134.8 607.5L134.1 606.7L133.0 606.5L131.8 606.7L130.9 606.1L130.2 605.3L129.2 604.9L128.3 604.2L127.6 603.8L126.7 603.5L126.0 602.9L125.4 602.2L124.5 601.9L123.3 601.6L122.7 600.5L122.3 599.4L121.6 598.5L121.2 597.8L120.4 597.3L119.5 596.8L119.1 595.9L119.0 594.9L118.4 594.2L117.7 593.6L117.4 592.7L117.1 591.8L116.5 591.1L115.8 590.2L114.7 589.7L113.4 589.4L113.0 588.2L113.2 587.0L112.8 586.0L112.8 584.9L112.6 583.7L112.6 582.8L113.1 582.0L113.5 581.2L113.4 580.2L113.5 579.4L114.0 578.3L113.9 577.1L113.6 576.1L113.3 575.0L112.9 573.9L113.2 572.9L114.1 571.9L114.2 570.9Z" fill="#1EAF8A" fill-opacity="0.6" fill-rule="evenodd" stroke="none"/>
<path d="M106.6 554.5L106.6 553.2L107.7 552.6L108.9 552.6L109.8 552.4L110.9 552.7L112.1 552.9L113.3 552.8L114.3 552.9L115.1 552.4L115.7 551.2L116.6 550.9L117.6 551.2L118.6 551.5L119.5 551.8L120.5 552.0L121.4 551.5L122.2 550.5L123.5 550.4L124.5 549.7L125.4 549.3L126.3 549.8L127.2 550.2L128.2 550.3L129.2 550.5L130.2 550.3L131.4 549.9L132.2 550.5L132.8 551.8L133.6 552.3L134.4 552.8L134.8 553.7L135.4 554.6L135.9 555.5L136.3 556.3L137.3 556.5L138.3 556.6L138.9 557.5L139.7 558.6L140.9 558.6L142.0 558.7L143.2 558.7L144.3 559.0L144.9 560.3L145.6 560.9L146.7 561.2L147.4 562.0L148.2 562.7L149.2 562.8L150.2 563.2L151.2 563.3L151.9 563.2L153.5 563.9L154.3 563.8L154.9 563.8L155.6 564.6L156.0 565.5L156.7 566.4L157.1 567.8L158.2 568.3L159.2 567.8L160.5 568.0L161.3 567.8L162.4 567.9L163.2 568.8L163.6 570.0L163.2 571.0L162.0 571.9L162.2 573.2L163.2 573.7L163.7 574.4L164.0 575.3L164.6 576.2L165.0 577.0L165.3 577.9L166.0 578.7L166.4 579.7L166.5 580.9L167.3 581.5L168.4 582.1L168.6 583.2L168.6 584.3L168.8 585.4L169.0 586.5L169.7 587.2L170.7 587.7L171.1 588.6L171.2 589.6L172.0 590.2L172.6 590.9L172.7 591.9L172.9 593.0L173.1 594.1L173.3 595.2L174.3 595.9L175.1 596.7L174.6 598.0L174.3 599.0L174.3 600.0L174.1 600.9L174.2 601.9L174.4 603.0L173.9 603.8L173.0 604.5L172.5 605.8L171.5 606.3L170.7 607.0L170.6 608.1L170.7 609.0L170.7 610.0L170.7 611.2L169.9 611.9L168.6 612.1L168.0 613.0L168.1 614.2L167.8 615.3L167.9 616.5L167.6 617.5L167.1 618.1L166.6 619.0L165.9 619.7L164.7 619.5L163.6 619.3L162.9 619.9L162.2 620.5L161.3 620.9L160.5 621.4L159.6 621.7L158.5 621.4L157.5 621.8L156.6 622.6L155.4 622.5L154.4 622.7L153.5 623.5L152.5 624.0L151.5 624.5L150.5 624.6L149.5 623.9L148.5 623.7L147.5 624.3L146.5 624.3L145.7 623.8L144.8 623.2L144.2 622.2L143.3 621.8L142.7 622.2L141.9 622.7L140.7 622.7L139.8 623.4L139.4 624.7L138.6 625.3L137.6 625.4L136.6 625.1L135.9 624.2L135.4 623.3L134.1 623.1L133.1 622.7L132.5 621.9L131.6 621.5L130.6 621.3L129.9 620.6L129.1 619.9L128.3 619.3L127.7 618.3L126.8 618.0L125.5 618.3L124.5 617.9L124.0 616.9L123.3 616.2L122.6 615.4L122.0 614.6L120.9 614.2L120.2 613.4L119.8 612.4L118.7 612.0L117.8 611.5L117.5 610.5L117.1 609.5L116.6 608.7L116.1 607.8L115.2 607.4L113.9 607.0L113.6 605.9L113.4 604.7L112.6 604.2L112.0 603.8L111.0 603.6L110.2 604.2L109.5 605.0L108.5 605.8L108.4 607.4L107.1 608.2L106.8 606.6L106.8 605.0L106.8 604.2L107.0 603.2L106.9 602.1L107.4 601.2L107.9 600.2L107.4 599.1L107.4 597.9L107.7 596.8L107.1 595.8L106.5 594.9L105.8 594.1L104.9 593.5L104.8 592.4L104.9 591.2L104.2 590.5L103.2 590.0L102.7 589.3L102.1 588.7L101.4 588.0L101.1 587.1L100.8 586.2L100.1 585.4L99.9 584.4L100.4 583.2L100.0 582.2L99.3 581.2L99.3 580.2L99.5 579.0L100.3 578.2L101.3 577.3L101.0 576.2L100.2 575.4L99.9 574.4L99.1 573.5L98.3 572.8L98.1 571.9L98.2 570.8L98.8 569.9L100.1 569.4L100.6 568.4L100.3 567.0L100.7 566.1L101.4 565.3L101.9 564.3L102.6 563.3L102.4 562.1L102.2 560.9L102.9 560.2L103.4 559.4L103.9 558.2L104.9 557.8L105.7 557.5L106.2 556.5L106.8 555.4Z" fill="none" stroke="#72C4BC" stroke-opacity="1" stroke-width="1.08" stroke-linejoin="round"/>
<path d="M114.4 570.0L115.3 569.1L116.0 568.2L117.0 567.6L117.8 567.1L118.6 566.3L119.7 566.4L121.0 566.9L122.1 566.6L123.0 566.2L124.0 565.9L125.0 565.5L126.1 565.6L127.2 565.7L128.3 565.4L129.2 565.5L130.0 566.2L130.9 566.5L131.9 566.4L132.8 566.4L133.7 566.4L134.6 566.3L135.6 567.1L136.6 567.8L137.7 567.6L138.7 567.8L139.4 568.3L140.5 568.8L141.2 569.7L142.1 570.5L142.9 570.7L143.5 571.4L144.0 572.5L144.7 573.0L145.7 573.1L146.5 573.7L147.2 574.4L147.9 575.1L148.2 576.1L148.7 577.0L149.6 577.6L150.1 578.6L150.4 579.8L151.4 580.4L152.2 581.1L152.8 581.8L153.4 582.5L153.7 583.4L153.6 584.4L154.1 585.3L154.9 585.8L155.5 586.5L155.8 587.4L156.4 588.2L156.8 589.1L157.0 590.0L157.5 590.9L157.8 592.0L157.4 593.1L157.7 594.1L158.5 595.0L158.6 596.0L158.5 597.1L158.2 598.1L157.6 599.0L157.3 599.9L157.3 601.1L156.5 601.9L155.8 602.7L155.9 603.8L156.2 604.6L156.6 605.6L156.9 606.6L156.7 607.5L156.1 608.3L156.1 609.7L155.2 610.4L154.4 609.9L153.6 609.2L152.8 608.6L152.0 608.0L151.1 608.0L150.2 608.3L149.2 608.2L148.1 608.3L147.4 609.1L146.7 609.8L145.7 609.9L144.7 609.9L143.9 609.9L142.9 609.7L142.0 609.8L141.1 610.3L140.1 610.2L139.3 609.6L138.4 609.4L137.3 609.3L136.5 608.7L135.8 608.1L134.8 607.5L134.1 606.7L133.0 606.5L131.8 606.7L130.9 606.1L130.2 605.3L129.2 604.9L128.3 604.2L127.6 603.8L126.7 603.5L126.0 602.9L125.4 602.2L124.5 601.9L123.3 601.6L122.7 600.5L122.3 599.4L121.6 598.5L121.2 597.8L120.4 597.3L119.5 596.8L119.1 595.9L119.0 594.9L118.4 594.2L117.7 593.6L117.4 592.7L117.1 591.8L116.5 591.1L115.8 590.2L114.7 589.7L113.4 589.4L113.0 588.2L113.2 587.0L112.8 586.0L112.8 584.9L112.6 583.7L112.6 582.8L113.1 582.0L113.5 581.2L113.4 580.2L113.5 579.4L114.0 578.3L113.9 577.1L113.6 576.1L113.3 575.0L112.9 573.9L113.2 572.9L114.1 571.9L114.2 570.9Z" fill="none" stroke="#2E8A80" stroke-opacity="1" stroke-width="1.08" stroke-linejoin="round"/>
<path d="M105.0 568.0L105.5 567.2L106.3 566.4L107.3 566.1L108.6 566.0L109.2 565.2L109.5 564.1L110.2 563.4L111.0 562.7L111.2 561.8L111.6 560.8L111.8 559.8L112.0 558.8L112.8 558.3L113.6 558.4L114.5 557.8L115.5 557.2L116.3 557.2L117.4 556.6L118.3 556.2L118.2 557.2L118.8 558.2L119.7 558.0L120.9 558.2L122.1 557.8L123.2 557.0L124.4 557.2L125.5 557.4L126.6 557.8L127.5 558.0L128.8 557.6L129.9 557.9L130.7 558.8L131.5 559.1L132.3 559.5L133.0 560.2L133.7 560.8L134.4 561.4L135.0 562.1L135.8 562.5L137.0 562.5L137.8 562.8L138.3 563.6L139.1 564.4L140.1 564.8L141.0 565.3L142.0 565.7L142.8 566.0L143.5 566.7L144.2 567.2L145.2 567.4L146.0 567.7L146.6 568.8L147.5 569.4L148.4 569.8L149.4 570.2L150.6 570.1L151.6 570.5L152.3 571.5L153.2 572.0L154.1 572.2L154.7 572.9L155.3 573.6L156.1 574.0L157.0 574.4L157.8 574.8L158.9 574.7L159.8 575.0L160.4 576.0L161.2 576.7L162.2 576.8L163.2 577.1L164.2 577.5L165.2 577.8L165.8 578.4L166.6 579.2L167.5 579.7L167.8 580.6L166.8 581.7L166.8 583.1L167.5 583.8L168.3 584.4L169.1 585.1L169.5 586.2L169.7 587.2L170.4 587.9L171.2 588.4L171.5 589.3L171.8 590.1L172.6 590.8L173.2 591.5L173.7 592.3L174.1 593.0L174.4 594.0L174.2 595.1L174.7 596.0L176.5 596.6L177.2 597.4L176.4 597.4L175.4 596.9L174.5 596.2L173.3 595.8L172.0 595.6L170.9 595.2L169.9 595.9L169.0 596.7L167.9 596.8L166.8 597.0L165.6 597.2L164.6 598.0L164.2 599.3L163.3 600.0L162.1 601.0L161.7 601.9L162.0 602.8L162.5 603.7L161.7 604.3L160.8 604.7L159.4 604.4L158.9 603.2L157.7 603.7L156.9 605.0L157.0 605.9L157.7 606.6L158.2 607.5L158.6 608.5L159.6 609.1L160.1 610.2L158.8 611.0L157.7 610.9L157.1 610.3L156.1 609.3L155.0 609.2L154.5 609.2L153.5 609.5L152.9 610.5L152.1 611.4L151.1 611.7L150.3 612.4L149.7 613.2L149.0 614.2L148.7 615.4L147.9 616.0L146.6 616.4L146.1 617.4L145.6 618.4L145.0 619.2L144.6 620.0L144.0 620.9L143.4 621.6L143.1 622.4L142.8 623.3L142.0 623.8L141.0 624.5L140.9 625.7L140.8 626.8L140.3 627.7L139.2 628.4L137.9 628.2L136.8 628.6L136.8 629.8L136.5 630.9L136.1 631.6L135.5 632.4L134.3 632.9L133.1 632.8L132.3 631.9L132.4 630.4L131.5 629.5L130.6 630.2L129.8 631.1L128.9 631.3L128.0 631.2L127.1 630.8L126.4 630.0L125.8 629.4L125.3 628.7L125.2 627.6L124.9 626.7L123.9 626.3L122.8 625.8L122.2 624.8L121.4 623.9L120.9 622.9L120.3 622.1L119.4 621.7L118.8 620.9L118.5 619.8L117.8 619.3L116.9 618.8L116.5 618.0L116.2 617.1L115.8 616.2L115.6 615.2L115.1 614.3L114.0 613.8L113.3 613.0L113.3 611.9L112.8 611.0L112.3 610.2L112.1 609.2L111.8 608.3L111.4 607.5L111.4 606.5L111.1 605.7L110.3 604.9L109.9 604.2L110.0 603.2L109.9 602.2L109.4 601.4L108.9 600.6L108.2 600.0L107.4 599.5L106.9 598.7L106.6 597.7L106.0 597.1L105.4 596.3L105.5 595.3L106.2 594.5L106.4 593.5L106.6 592.6L106.7 591.6L106.6 590.4L107.1 589.6L107.8 588.8L107.8 587.7L107.1 586.9L106.8 585.9L106.5 584.9L106.0 584.1L105.8 583.1L105.3 582.2L104.6 581.4L104.7 580.4L104.9 579.2L104.4 578.4L103.9 577.5L103.8 576.5L103.8 575.3L104.2 574.3L104.7 573.1L104.4 572.1L104.6 571.0L105.2 570.0L105.0 569.0ZM122.95 618.75C122.95 619.10 122.65 619.62 122.35 619.79C122.05 619.96 121.45 619.96 121.15 619.79C120.85 619.62 120.55 619.10 120.55 618.75C120.55 618.40 120.85 617.88 121.15 617.71C121.45 617.54 122.05 617.54 122.35 617.71C122.65 617.88 122.95 618.40 122.95 618.75ZM114.5 581.2L114.7 580.1L114.8 578.9L115.1 577.9L115.4 576.8L115.8 575.8L116.7 575.0L117.1 574.0L117.5 573.0L118.3 572.5L119.1 572.1L120.1 571.9L121.1 571.9L122.0 571.7L122.9 571.2L124.0 571.1L125.0 571.1L126.0 570.7L127.0 570.4L128.0 570.4L129.1 570.3L130.1 570.7L131.1 570.9L132.0 570.7L133.2 570.7L134.1 571.3L135.2 571.8L135.9 572.1L136.7 572.6L137.7 573.0L138.6 573.4L139.4 574.1L140.5 574.2L141.6 574.0L142.7 574.2L143.7 574.6L144.5 575.0L145.4 575.9L146.3 576.5L147.1 577.5L147.4 578.4L148.0 579.3L148.7 580.2L149.0 581.2L149.3 582.2L149.5 583.2L149.6 584.2L150.1 585.0L150.5 585.9L150.3 586.9L150.0 587.8L149.8 588.8L149.3 589.7L148.7 590.5L148.1 591.5L147.4 592.4L147.2 593.4L147.4 594.5L147.2 595.5L146.7 596.5L146.3 597.5L145.8 598.3L145.3 599.2L145.1 600.3L144.5 601.1L143.8 601.8L143.5 602.7L143.1 603.5L142.4 604.1L141.8 604.8L141.2 605.5L140.7 606.3L140.3 607.3L140.2 608.4L139.6 609.3L138.8 609.9L138.3 610.8L137.9 611.6L137.3 612.4L136.8 613.1L136.4 613.7L135.5 614.5L134.9 615.2L134.0 616.0L132.9 615.9L131.8 615.5L130.6 615.5L129.5 615.5L128.4 615.7L127.2 615.7L126.1 615.2L125.1 615.0L124.1 614.7L123.5 613.8L122.8 613.0L122.1 612.4L121.5 611.7L120.9 611.1L120.2 610.4L119.9 609.4L120.0 608.5L119.8 607.7L119.4 606.8L119.2 605.9L119.0 605.0L118.6 604.1L118.4 603.3L118.1 602.4L117.6 601.6L117.4 600.7L117.5 599.7L117.5 598.8L117.0 598.0L116.6 597.1L116.3 596.3L115.9 595.5L115.7 594.6L115.7 593.6L115.5 592.8L115.0 591.9L114.9 590.9L115.0 589.9L114.6 588.9L114.3 587.9L114.1 586.9L113.9 586.0L114.1 585.0L114.6 584.0L114.5 583.1L114.3 582.1Z" fill="#DB92DB" fill-opacity="0.55" fill-rule="evenodd" stroke="none"/>
<path d="M114.5 581.2L114.7 580.1L114.8 578.9L115.1 577.9L115.4 576.8L115.8 575.8L116.7 575.0L117.1 574.0L117.5 573.0L118.3 572.5L119.1 572.1L120.1 571.9L121.1 571.9L122.0 571.7L122.9 571.2L124.0 571.1L125.0 571.1L126.0 570.7L127.0 570.4L128.0 570.4L129.1 570.3L130.1 570.7L131.1 570.9L132.0 570.7L133.2 570.7L134.1 571.3L135.2 571.8L135.9 572.1L136.7 572.6L137.7 573.0L138.6 573.4L139.4 574.1L140.5 574.2L141.6 574.0L142.7 574.2L143.7 574.6L144.5 575.0L145.4 575.9L146.3 576.5L147.1 577.5L147.4 578.4L148.0 579.3L148.7 580.2L149.0 581.2L149.3 582.2L149.5 583.2L149.6 584.2L150.1 585.0L150.5 585.9L150.3 586.9L150.0 587.8L149.8 588.8L149.3 589.7L148.7 590.5L148.1 591.5L147.4 592.4L147.2 593.4L147.4 594.5L147.2 595.5L146.7 596.5L146.3 597.5L145.8 598.3L145.3 599.2L145.1 600.3L144.5 601.1L143.8 601.8L143.5 602.7L143.1 603.5L142.4 604.1L141.8 604.8L141.2 605.5L140.7 606.3L140.3 607.3L140.2 608.4L139.6 609.3L138.8 609.9L138.3 610.8L137.9 611.6L137.3 612.4L136.8 613.1L136.4 613.7L135.5 614.5L134.9 615.2L134.0 616.0L132.9 615.9L131.8 615.5L130.6 615.5L129.5 615.5L128.4 615.7L127.2 615.7L126.1 615.2L125.1 615.0L124.1 614.7L123.5 613.8L122.8 613.0L122.1 612.4L121.5 611.7L120.9 611.1L120.2 610.4L119.9 609.4L120.0 608.5L119.8 607.7L119.4 606.8L119.2 605.9L119.0 605.0L118.6 604.1L118.4 603.3L118.1 602.4L117.6 601.6L117.4 600.7L117.5 599.7L117.5 598.8L117.0 598.0L116.6 597.1L116.3 596.3L115.9 595.5L115.7 594.6L115.7 593.6L115.5 592.8L115.0 591.9L114.9 590.9L115.0 589.9L114.6 588.9L114.3 587.9L114.1 586.9L113.9 586.0L114.1 585.0L114.6 584.0L114.5 583.1L114.3 582.1Z" fill="#885E8D" fill-opacity="0.55" fill-rule="evenodd" stroke="none"/>
<path d="M105.0 568.0L105.5 567.2L106.3 566.4L107.3 566.1L108.6 566.0L109.2 565.2L109.5 564.1L110.2 563.4L111.0 562.7L111.2 561.8L111.6 560.8L111.8 559.8L112.0 558.8L112.8 558.3L113.6 558.4L114.5 557.8L115.5 557.2L116.3 557.2L117.4 556.6L118.3 556.2L118.2 557.2L118.8 558.2L119.7 558.0L120.9 558.2L122.1 557.8L123.2 557.0L124.4 557.2L125.5 557.4L126.6 557.8L127.5 558.0L128.8 557.6L129.9 557.9L130.7 558.8L131.5 559.1L132.3 559.5L133.0 560.2L133.7 560.8L134.4 561.4L135.0 562.1L135.8 562.5L137.0 562.5L137.8 562.8L138.3 563.6L139.1 564.4L140.1 564.8L141.0 565.3L142.0 565.7L142.8 566.0L143.5 566.7L144.2 567.2L145.2 567.4L146.0 567.7L146.6 568.8L147.5 569.4L148.4 569.8L149.4 570.2L150.6 570.1L151.6 570.5L152.3 571.5L153.2 572.0L154.1 572.2L154.7 572.9L155.3 573.6L156.1 574.0L157.0 574.4L157.8 574.8L158.9 574.7L159.8 575.0L160.4 576.0L161.2 576.7L162.2 576.8L163.2 577.1L164.2 577.5L165.2 577.8L165.8 578.4L166.6 579.2L167.5 579.7L167.8 580.6L166.8 581.7L166.8 583.1L167.5 583.8L168.3 584.4L169.1 585.1L169.5 586.2L169.7 587.2L170.4 587.9L171.2 588.4L171.5 589.3L171.8 590.1L172.6 590.8L173.2 591.5L173.7 592.3L174.1 593.0L174.4 594.0L174.2 595.1L174.7 596.0L176.5 596.6L177.2 597.4L176.4 597.4L175.4 596.9L174.5 596.2L173.3 595.8L172.0 595.6L170.9 595.2L169.9 595.9L169.0 596.7L167.9 596.8L166.8 597.0L165.6 597.2L164.6 598.0L164.2 599.3L163.3 600.0L162.1 601.0L161.7 601.9L162.0 602.8L162.5 603.7L161.7 604.3L160.8 604.7L159.4 604.4L158.9 603.2L157.7 603.7L156.9 605.0L157.0 605.9L157.7 606.6L158.2 607.5L158.6 608.5L159.6 609.1L160.1 610.2L158.8 611.0L157.7 610.9L157.1 610.3L156.1 609.3L155.0 609.2L154.5 609.2L153.5 609.5L152.9 610.5L152.1 611.4L151.1 611.7L150.3 612.4L149.7 613.2L149.0 614.2L148.7 615.4L147.9 616.0L146.6 616.4L146.1 617.4L145.6 618.4L145.0 619.2L144.6 620.0L144.0 620.9L143.4 621.6L143.1 622.4L142.8 623.3L142.0 623.8L141.0 624.5L140.9 625.7L140.8 626.8L140.3 627.7L139.2 628.4L137.9 628.2L136.8 628.6L136.8 629.8L136.5 630.9L136.1 631.6L135.5 632.4L134.3 632.9L133.1 632.8L132.3 631.9L132.4 630.4L131.5 629.5L130.6 630.2L129.8 631.1L128.9 631.3L128.0 631.2L127.1 630.8L126.4 630.0L125.8 629.4L125.3 628.7L125.2 627.6L124.9 626.7L123.9 626.3L122.8 625.8L122.2 624.8L121.4 623.9L120.9 622.9L120.3 622.1L119.4 621.7L118.8 620.9L118.5 619.8L117.8 619.3L116.9 618.8L116.5 618.0L116.2 617.1L115.8 616.2L115.6 615.2L115.1 614.3L114.0 613.8L113.3 613.0L113.3 611.9L112.8 611.0L112.3 610.2L112.1 609.2L111.8 608.3L111.4 607.5L111.4 606.5L111.1 605.7L110.3 604.9L109.9 604.2L110.0 603.2L109.9 602.2L109.4 601.4L108.9 600.6L108.2 600.0L107.4 599.5L106.9 598.7L106.6 597.7L106.0 597.1L105.4 596.3L105.5 595.3L106.2 594.5L106.4 593.5L106.6 592.6L106.7 591.6L106.6 590.4L107.1 589.6L107.8 588.8L107.8 587.7L107.1 586.9L106.8 585.9L106.5 584.9L106.0 584.1L105.8 583.1L105.3 582.2L104.6 581.4L104.7 580.4L104.9 579.2L104.4 578.4L103.9 577.5L103.8 576.5L103.8 575.3L104.2 574.3L104.7 573.1L104.4 572.1L104.6 571.0L105.2 570.0L105.0 569.0ZM122.95 618.75C122.95 619.10 122.65 619.62 122.35 619.79C122.05 619.96 121.45 619.96 121.15 619.79C120.85 619.62 120.55 619.10 120.55 618.75C120.55 618.40 120.85 617.88 121.15 617.71C121.45 617.54 122.05 617.54 122.35 617.71C122.65 617.88 122.95 618.40 122.95 618.75Z" fill="none" stroke="#A2569C" stroke-opacity="1" stroke-width="1.08" stroke-linejoin="round"/>
<path d="M114.5 581.2L114.7 580.1L114.8 578.9L115.1 577.9L115.4 576.8L115.8 575.8L116.7 575.0L117.1 574.0L117.5 573.0L118.3 572.5L119.1 572.1L120.1 571.9L121.1 571.9L122.0 571.7L122.9 571.2L124.0 571.1L125.0 571.1L126.0 570.7L127.0 570.4L128.0 570.4L129.1 570.3L130.1 570.7L131.1 570.9L132.0 570.7L133.2 570.7L134.1 571.3L135.2 571.8L135.9 572.1L136.7 572.6L137.7 573.0L138.6 573.4L139.4 574.1L140.5 574.2L141.6 574.0L142.7 574.2L143.7 574.6L144.5 575.0L145.4 575.9L146.3 576.5L147.1 577.5L147.4 578.4L148.0 579.3L148.7 580.2L149.0 581.2L149.3 582.2L149.5 583.2L149.6 584.2L150.1 585.0L150.5 585.9L150.3 586.9L150.0 587.8L149.8 588.8L149.3 589.7L148.7 590.5L148.1 591.5L147.4 592.4L147.2 593.4L147.4 594.5L147.2 595.5L146.7 596.5L146.3 597.5L145.8 598.3L145.3 599.2L145.1 600.3L144.5 601.1L143.8 601.8L143.5 602.7L143.1 603.5L142.4 604.1L141.8 604.8L141.2 605.5L140.7 606.3L140.3 607.3L140.2 608.4L139.6 609.3L138.8 609.9L138.3 610.8L137.9 611.6L137.3 612.4L136.8 613.1L136.4 613.7L135.5 614.5L134.9 615.2L134.0 616.0L132.9 615.9L131.8 615.5L130.6 615.5L129.5 615.5L128.4 615.7L127.2 615.7L126.1 615.2L125.1 615.0L124.1 614.7L123.5 613.8L122.8 613.0L122.1 612.4L121.5 611.7L120.9 611.1L120.2 610.4L119.9 609.4L120.0 608.5L119.8 607.7L119.4 606.8L119.2 605.9L119.0 605.0L118.6 604.1L118.4 603.3L118.1 602.4L117.6 601.6L117.4 600.7L117.5 599.7L117.5 598.8L117.0 598.0L116.6 597.1L116.3 596.3L115.9 595.5L115.7 594.6L115.7 593.6L115.5 592.8L115.0 591.9L114.9 590.9L115.0 589.9L114.6 588.9L114.3 587.9L114.1 586.9L113.9 586.0L114.1 585.0L114.6 584.0L114.5 583.1L114.3 582.1Z" fill="none" stroke="#6E2A62" stroke-opacity="1" stroke-width="1.08" stroke-linejoin="round"/>
</g>
<g clip-path="url(#c31)">
<path d="M280.1 555.1L280.6 553.9L281.3 553.2L282.4 553.4L283.5 553.5L284.3 553.1L285.2 552.8L286.2 552.7L287.1 552.2L287.9 552.2L289.0 552.0L289.5 551.0L290.3 550.3L291.4 550.6L292.2 551.0L293.3 550.8L294.4 550.8L295.3 550.6L296.3 550.3L297.6 550.8L298.7 550.7L299.7 550.2L300.7 550.6L301.7 550.9L302.7 550.9L303.5 551.4L304.3 552.0L305.1 552.6L305.3 553.7L305.3 554.9L306.3 555.5L307.4 555.7L308.1 556.1L308.9 556.2L309.9 556.0L311.1 556.1L312.0 555.7L312.8 555.1L314.0 555.0L314.9 554.6L315.3 553.6L316.4 552.5L317.6 552.8L317.6 553.9L316.8 555.1L316.9 556.5L317.9 556.9L318.7 557.5L319.1 558.4L320.1 558.9L321.0 559.5L321.6 560.5L322.2 561.4L322.3 562.5L322.2 563.4L323.2 564.3L323.8 565.3L323.5 566.3L323.7 567.2L324.1 568.0L324.5 569.0L325.2 569.8L326.1 570.3L326.7 571.3L327.8 571.7L329.2 571.8L329.7 572.8L329.5 574.2L329.3 575.4L329.6 576.6L330.6 577.0L331.8 576.9L332.5 577.7L333.2 578.5L334.2 578.7L335.0 579.4L335.3 580.4L335.7 581.2L336.2 582.0L336.6 583.0L337.7 583.8L338.0 584.9L337.3 586.1L337.2 587.1L337.4 588.1L337.2 588.9L336.7 589.9L336.0 590.8L335.2 591.6L335.7 592.5L336.2 593.4L335.6 594.7L335.3 595.6L335.6 596.6L335.5 597.7L335.4 598.8L335.1 599.8L334.1 600.6L333.9 601.6L334.0 602.7L333.1 603.6L332.5 604.3L332.3 605.3L332.0 606.2L331.6 607.1L331.1 608.1L330.0 608.4L328.8 608.6L328.4 609.5L328.1 610.5L327.4 611.1L326.6 611.7L326.1 612.5L325.3 613.0L324.7 613.7L324.4 614.7L323.4 615.6L322.6 616.4L322.8 617.7L322.2 618.9L321.2 619.5L320.0 620.0L318.9 620.2L318.3 621.1L317.7 622.1L316.6 622.1L315.8 622.0L314.8 622.4L313.8 622.3L312.9 621.9L312.0 621.8L310.7 621.6L309.6 622.1L309.2 623.6L308.1 624.1L307.0 623.6L305.8 623.5L304.9 623.0L304.0 622.8L303.2 623.5L302.4 624.2L301.7 624.5L301.0 625.4L299.6 625.7L299.1 624.8L299.0 623.6L298.4 622.7L297.5 621.9L296.5 621.8L295.3 622.2L294.2 621.7L293.0 621.5L292.1 622.1L291.0 622.1L289.8 622.0L288.8 622.4L287.9 622.6L286.9 623.1L285.7 623.7L284.8 622.9L284.2 622.1L283.5 621.5L283.2 620.6L282.9 619.5L282.0 618.9L281.2 618.1L280.2 617.5L279.2 617.7L278.3 617.3L277.1 616.7L276.2 616.7L275.5 616.3L274.8 615.6L273.9 614.8L273.7 613.6L273.4 612.5L272.4 611.8L272.1 610.7L271.8 609.6L270.8 609.1L269.9 608.5L269.1 607.9L268.2 607.3L268.0 606.1L267.8 604.9L266.8 604.5L265.9 603.7L265.6 602.8L265.0 602.0L264.4 601.2L264.0 600.2L263.4 599.4L263.2 598.4L263.7 597.3L263.5 596.4L262.6 595.7L262.1 594.9L262.0 594.0L261.7 593.1L261.6 592.1L261.6 591.1L261.1 590.3L260.4 589.5L260.5 588.5L260.5 587.5L259.5 586.6L259.0 585.6L259.1 584.4L259.3 583.4L259.9 582.4L260.0 581.4L259.4 580.4L259.5 579.4L260.3 578.6L260.6 577.6L260.9 576.7L261.6 576.1L262.3 575.3L263.0 574.6L264.0 574.1L264.3 573.2L264.0 571.6L264.6 570.8L265.6 570.0L266.1 569.1L266.8 568.4L267.2 567.5L267.4 566.5L268.2 565.8L268.9 565.1L268.7 563.8L269.1 562.7L270.2 562.0L270.9 561.3L271.7 560.8L272.4 560.0L273.1 558.8L274.2 558.7L275.5 558.5L276.1 557.7L276.9 557.2L277.9 556.9L278.7 556.2L279.4 555.7ZM262.30 570.10C262.30 570.39 262.05 570.82 261.80 570.97C261.55 571.11 261.05 571.11 260.80 570.97C260.55 570.82 260.30 570.39 260.30 570.10C260.30 569.81 260.55 569.38 260.80 569.23C261.05 569.09 261.55 569.09 261.80 569.23C262.05 569.38 262.30 569.81 262.30 570.10ZM336.00 586.10C336.00 586.56 335.60 587.25 335.20 587.49C334.80 587.72 334.00 587.72 333.60 587.49C333.20 587.25 332.80 586.56 332.80 586.10C332.80 585.64 333.20 584.95 333.60 584.71C334.00 584.48 334.80 584.48 335.20 584.71C335.60 584.95 336.00 585.64 336.00 586.10ZM277.5 570.0L278.6 569.5L279.6 569.1L280.5 568.5L281.5 567.9L282.0 567.1L282.7 566.3L283.7 566.0L284.4 565.4L285.2 564.6L286.3 564.5L287.4 564.9L288.5 564.9L289.6 565.0L290.7 564.7L291.7 564.4L292.5 564.8L293.3 565.6L294.2 565.8L295.1 565.9L296.0 566.4L296.8 566.9L297.7 567.0L298.6 567.4L299.6 567.6L300.6 567.5L301.5 567.9L302.1 569.0L303.0 569.6L304.0 569.7L305.0 570.1L305.9 570.4L306.8 570.8L307.6 571.5L308.4 572.1L309.4 572.3L310.0 573.0L310.4 574.0L311.1 574.7L312.1 575.2L312.8 576.0L313.7 576.7L314.2 577.5L314.5 578.5L315.2 579.2L316.2 579.5L316.7 580.3L316.9 581.3L317.3 582.1L317.8 583.0L318.0 584.0L318.3 584.9L318.2 586.0L317.8 587.2L318.2 588.2L319.0 589.2L318.9 590.3L318.8 591.4L318.6 592.5L318.2 593.6L318.2 594.7L318.0 595.7L317.3 596.7L317.4 597.8L317.6 598.9L317.0 599.9L316.2 600.4L315.4 601.0L314.5 601.4L313.8 602.1L313.4 603.1L312.7 603.9L311.6 604.2L311.0 605.1L310.2 605.9L309.2 606.3L308.4 606.9L307.5 607.5L306.6 608.1L306.2 609.2L305.5 610.1L304.3 610.1L303.3 610.3L302.4 610.7L301.3 610.8L300.5 610.9L299.6 611.1L298.6 610.9L297.6 610.7L296.6 611.1L295.6 611.0L294.7 610.2L293.8 609.8L292.8 609.8L291.8 609.7L290.7 609.9L289.7 609.9L288.9 609.3L288.1 608.8L286.9 608.8L285.9 608.3L285.1 607.5L284.2 607.1L283.3 606.8L282.6 606.4L281.8 605.5L281.8 604.3L282.7 603.2L282.4 602.1L281.3 601.7L280.3 601.3L279.3 600.8L278.1 600.5L277.3 599.7L276.6 599.0L275.9 598.3L275.9 597.0L275.8 596.0L274.9 595.2L274.4 594.4L274.4 593.3L274.5 592.1L275.2 591.2L275.6 590.1L275.2 589.0L275.1 588.1L275.2 587.1L274.6 586.3L273.9 585.5L273.6 584.6L273.8 583.6L274.2 582.7L275.2 582.1L276.0 581.3L276.1 579.9L276.7 579.1L277.4 578.3L277.3 577.3L277.1 576.4L277.0 575.4L276.8 574.5L276.8 573.7L277.4 572.6L277.2 571.3Z" fill="#A3FAF7" fill-opacity="0.52" fill-rule="evenodd" stroke="none"/>
<path d="M277.5 570.0L278.6 569.5L279.6 569.1L280.5 568.5L281.5 567.9L282.0 567.1L282.7 566.3L283.7 566.0L284.4 565.4L285.2 564.6L286.3 564.5L287.4 564.9L288.5 564.9L289.6 565.0L290.7 564.7L291.7 564.4L292.5 564.8L293.3 565.6L294.2 565.8L295.1 565.9L296.0 566.4L296.8 566.9L297.7 567.0L298.6 567.4L299.6 567.6L300.6 567.5L301.5 567.9L302.1 569.0L303.0 569.6L304.0 569.7L305.0 570.1L305.9 570.4L306.8 570.8L307.6 571.5L308.4 572.1L309.4 572.3L310.0 573.0L310.4 574.0L311.1 574.7L312.1 575.2L312.8 576.0L313.7 576.7L314.2 577.5L314.5 578.5L315.2 579.2L316.2 579.5L316.7 580.3L316.9 581.3L317.3 582.1L317.8 583.0L318.0 584.0L318.3 584.9L318.2 586.0L317.8 587.2L318.2 588.2L319.0 589.2L318.9 590.3L318.8 591.4L318.6 592.5L318.2 593.6L318.2 594.7L318.0 595.7L317.3 596.7L317.4 597.8L317.6 598.9L317.0 599.9L316.2 600.4L315.4 601.0L314.5 601.4L313.8 602.1L313.4 603.1L312.7 603.9L311.6 604.2L311.0 605.1L310.2 605.9L309.2 606.3L308.4 606.9L307.5 607.5L306.6 608.1L306.2 609.2L305.5 610.1L304.3 610.1L303.3 610.3L302.4 610.7L301.3 610.8L300.5 610.9L299.6 611.1L298.6 610.9L297.6 610.7L296.6 611.1L295.6 611.0L294.7 610.2L293.8 609.8L292.8 609.8L291.8 609.7L290.7 609.9L289.7 609.9L288.9 609.3L288.1 608.8L286.9 608.8L285.9 608.3L285.1 607.5L284.2 607.1L283.3 606.8L282.6 606.4L281.8 605.5L281.8 604.3L282.7 603.2L282.4 602.1L281.3 601.7L280.3 601.3L279.3 600.8L278.1 600.5L277.3 599.7L276.6 599.0L275.9 598.3L275.9 597.0L275.8 596.0L274.9 595.2L274.4 594.4L274.4 593.3L274.5 592.1L275.2 591.2L275.6 590.1L275.2 589.0L275.1 588.1L275.2 587.1L274.6 586.3L273.9 585.5L273.6 584.6L273.8 583.6L274.2 582.7L275.2 582.1L276.0 581.3L276.1 579.9L276.7 579.1L277.4 578.3L277.3 577.3L277.1 576.4L277.0 575.4L276.8 574.5L276.8 573.7L277.4 572.6L277.2 571.3Z" fill="#1EAF8A" fill-opacity="0.6" fill-rule="evenodd" stroke="none"/>
<path d="M280.1 555.1L280.6 553.9L281.3 553.2L282.4 553.4L283.5 553.5L284.3 553.1L285.2 552.8L286.2 552.7L287.1 552.2L287.9 552.2L289.0 552.0L289.5 551.0L290.3 550.3L291.4 550.6L292.2 551.0L293.3 550.8L294.4 550.8L295.3 550.6L296.3 550.3L297.6 550.8L298.7 550.7L299.7 550.2L300.7 550.6L301.7 550.9L302.7 550.9L303.5 551.4L304.3 552.0L305.1 552.6L305.3 553.7L305.3 554.9L306.3 555.5L307.4 555.7L308.1 556.1L308.9 556.2L309.9 556.0L311.1 556.1L312.0 555.7L312.8 555.1L314.0 555.0L314.9 554.6L315.3 553.6L316.4 552.5L317.6 552.8L317.6 553.9L316.8 555.1L316.9 556.5L317.9 556.9L318.7 557.5L319.1 558.4L320.1 558.9L321.0 559.5L321.6 560.5L322.2 561.4L322.3 562.5L322.2 563.4L323.2 564.3L323.8 565.3L323.5 566.3L323.7 567.2L324.1 568.0L324.5 569.0L325.2 569.8L326.1 570.3L326.7 571.3L327.8 571.7L329.2 571.8L329.7 572.8L329.5 574.2L329.3 575.4L329.6 576.6L330.6 577.0L331.8 576.9L332.5 577.7L333.2 578.5L334.2 578.7L335.0 579.4L335.3 580.4L335.7 581.2L336.2 582.0L336.6 583.0L337.7 583.8L338.0 584.9L337.3 586.1L337.2 587.1L337.4 588.1L337.2 588.9L336.7 589.9L336.0 590.8L335.2 591.6L335.7 592.5L336.2 593.4L335.6 594.7L335.3 595.6L335.6 596.6L335.5 597.7L335.4 598.8L335.1 599.8L334.1 600.6L333.9 601.6L334.0 602.7L333.1 603.6L332.5 604.3L332.3 605.3L332.0 606.2L331.6 607.1L331.1 608.1L330.0 608.4L328.8 608.6L328.4 609.5L328.1 610.5L327.4 611.1L326.6 611.7L326.1 612.5L325.3 613.0L324.7 613.7L324.4 614.7L323.4 615.6L322.6 616.4L322.8 617.7L322.2 618.9L321.2 619.5L320.0 620.0L318.9 620.2L318.3 621.1L317.7 622.1L316.6 622.1L315.8 622.0L314.8 622.4L313.8 622.3L312.9 621.9L312.0 621.8L310.7 621.6L309.6 622.1L309.2 623.6L308.1 624.1L307.0 623.6L305.8 623.5L304.9 623.0L304.0 622.8L303.2 623.5L302.4 624.2L301.7 624.5L301.0 625.4L299.6 625.7L299.1 624.8L299.0 623.6L298.4 622.7L297.5 621.9L296.5 621.8L295.3 622.2L294.2 621.7L293.0 621.5L292.1 622.1L291.0 622.1L289.8 622.0L288.8 622.4L287.9 622.6L286.9 623.1L285.7 623.7L284.8 622.9L284.2 622.1L283.5 621.5L283.2 620.6L282.9 619.5L282.0 618.9L281.2 618.1L280.2 617.5L279.2 617.7L278.3 617.3L277.1 616.7L276.2 616.7L275.5 616.3L274.8 615.6L273.9 614.8L273.7 613.6L273.4 612.5L272.4 611.8L272.1 610.7L271.8 609.6L270.8 609.1L269.9 608.5L269.1 607.9L268.2 607.3L268.0 606.1L267.8 604.9L266.8 604.5L265.9 603.7L265.6 602.8L265.0 602.0L264.4 601.2L264.0 600.2L263.4 599.4L263.2 598.4L263.7 597.3L263.5 596.4L262.6 595.7L262.1 594.9L262.0 594.0L261.7 593.1L261.6 592.1L261.6 591.1L261.1 590.3L260.4 589.5L260.5 588.5L260.5 587.5L259.5 586.6L259.0 585.6L259.1 584.4L259.3 583.4L259.9 582.4L260.0 581.4L259.4 580.4L259.5 579.4L260.3 578.6L260.6 577.6L260.9 576.7L261.6 576.1L262.3 575.3L263.0 574.6L264.0 574.1L264.3 573.2L264.0 571.6L264.6 570.8L265.6 570.0L266.1 569.1L266.8 568.4L267.2 567.5L267.4 566.5L268.2 565.8L268.9 565.1L268.7 563.8L269.1 562.7L270.2 562.0L270.9 561.3L271.7 560.8L272.4 560.0L273.1 558.8L274.2 558.7L275.5 558.5L276.1 557.7L276.9 557.2L277.9 556.9L278.7 556.2L279.4 555.7ZM262.30 570.10C262.30 570.39 262.05 570.82 261.80 570.97C261.55 571.11 261.05 571.11 260.80 570.97C260.55 570.82 260.30 570.39 260.30 570.10C260.30 569.81 260.55 569.38 260.80 569.23C261.05 569.09 261.55 569.09 261.80 569.23C262.05 569.38 262.30 569.81 262.30 570.10ZM336.00 586.10C336.00 586.56 335.60 587.25 335.20 587.49C334.80 587.72 334.00 587.72 333.60 587.49C333.20 587.25 332.80 586.56 332.80 586.10C332.80 585.64 333.20 584.95 333.60 584.71C334.00 584.48 334.80 584.48 335.20 584.71C335.60 584.95 336.00 585.64 336.00 586.10Z" fill="none" stroke="#72C4BC" stroke-opacity="1" stroke-width="1.08" stroke-linejoin="round"/>
<path d="M277.5 570.0L278.6 569.5L279.6 569.1L280.5 568.5L281.5 567.9L282.0 567.1L282.7 566.3L283.7 566.0L284.4 565.4L285.2 564.6L286.3 564.5L287.4 564.9L288.5 564.9L289.6 565.0L290.7 564.7L291.7 564.4L292.5 564.8L293.3 565.6L294.2 565.8L295.1 565.9L296.0 566.4L296.8 566.9L297.7 567.0L298.6 567.4L299.6 567.6L300.6 567.5L301.5 567.9L302.1 569.0L303.0 569.6L304.0 569.7L305.0 570.1L305.9 570.4L306.8 570.8L307.6 571.5L308.4 572.1L309.4 572.3L310.0 573.0L310.4 574.0L311.1 574.7L312.1 575.2L312.8 576.0L313.7 576.7L314.2 577.5L314.5 578.5L315.2 579.2L316.2 579.5L316.7 580.3L316.9 581.3L317.3 582.1L317.8 583.0L318.0 584.0L318.3 584.9L318.2 586.0L317.8 587.2L318.2 588.2L319.0 589.2L318.9 590.3L318.8 591.4L318.6 592.5L318.2 593.6L318.2 594.7L318.0 595.7L317.3 596.7L317.4 597.8L317.6 598.9L317.0 599.9L316.2 600.4L315.4 601.0L314.5 601.4L313.8 602.1L313.4 603.1L312.7 603.9L311.6 604.2L311.0 605.1L310.2 605.9L309.2 606.3L308.4 606.9L307.5 607.5L306.6 608.1L306.2 609.2L305.5 610.1L304.3 610.1L303.3 610.3L302.4 610.7L301.3 610.8L300.5 610.9L299.6 611.1L298.6 610.9L297.6 610.7L296.6 611.1L295.6 611.0L294.7 610.2L293.8 609.8L292.8 609.8L291.8 609.7L290.7 609.9L289.7 609.9L288.9 609.3L288.1 608.8L286.9 608.8L285.9 608.3L285.1 607.5L284.2 607.1L283.3 606.8L282.6 606.4L281.8 605.5L281.8 604.3L282.7 603.2L282.4 602.1L281.3 601.7L280.3 601.3L279.3 600.8L278.1 600.5L277.3 599.7L276.6 599.0L275.9 598.3L275.9 597.0L275.8 596.0L274.9 595.2L274.4 594.4L274.4 593.3L274.5 592.1L275.2 591.2L275.6 590.1L275.2 589.0L275.1 588.1L275.2 587.1L274.6 586.3L273.9 585.5L273.6 584.6L273.8 583.6L274.2 582.7L275.2 582.1L276.0 581.3L276.1 579.9L276.7 579.1L277.4 578.3L277.3 577.3L277.1 576.4L277.0 575.4L276.8 574.5L276.8 573.7L277.4 572.6L277.2 571.3Z" fill="none" stroke="#2E8A80" stroke-opacity="1" stroke-width="1.08" stroke-linejoin="round"/>
<path d="M268.6 558.3L269.5 557.8L270.4 557.0L271.6 556.6L273.0 556.7L273.8 555.8L274.0 554.8L274.6 554.2L275.6 554.3L276.7 554.7L277.3 555.7L277.8 556.7L278.6 557.5L279.2 558.5L280.1 558.9L281.0 558.6L282.0 558.3L283.0 558.1L283.9 557.9L285.1 558.2L286.2 558.5L287.1 558.0L288.0 557.4L289.0 557.7L290.0 558.1L291.1 558.4L292.0 559.1L293.0 559.4L294.0 560.0L294.7 561.0L296.0 561.1L297.2 561.1L298.1 561.8L299.1 562.4L299.9 563.3L300.9 563.8L302.0 563.6L303.0 563.9L303.9 564.5L305.0 564.5L306.1 564.6L307.0 565.2L308.0 565.7L308.7 566.4L309.3 567.1L310.5 567.2L311.6 567.3L312.2 568.1L312.7 569.0L313.4 569.6L314.0 570.4L314.6 571.1L315.4 571.6L315.9 572.6L316.3 573.7L317.3 574.5L317.7 575.5L317.5 576.6L317.4 577.5L317.4 578.5L317.5 579.4L318.2 580.3L318.7 581.2L318.4 582.1L318.2 583.1L318.6 584.0L318.7 585.0L318.6 586.0L318.8 587.1L318.8 588.2L319.1 589.3L319.9 590.2L320.0 591.1L319.5 592.2L319.6 593.2L320.0 594.0L320.3 594.9L320.7 595.7L321.3 596.7L321.3 597.7L321.5 598.7L322.3 599.5L322.5 600.7L322.6 601.9L323.4 602.8L324.0 603.7L324.7 604.5L325.3 605.4L325.1 606.6L324.9 607.7L325.3 608.7L325.2 609.8L325.0 610.9L325.0 612.0L324.7 613.0L324.5 614.2L324.2 615.2L323.1 615.9L322.7 617.0L323.4 618.0L324.0 619.0L324.5 619.9L324.9 620.9L325.0 622.0L325.5 622.9L326.4 623.5L326.7 624.3L326.6 625.8L326.9 627.1L326.0 628.2L324.6 628.6L324.1 627.9L323.9 626.7L322.9 626.0L321.9 626.0L321.0 625.9L319.9 626.2L318.7 626.4L317.7 626.1L316.7 626.1L315.7 625.9L314.8 625.3L313.7 625.2L312.5 625.5L311.5 625.1L310.6 624.4L309.8 623.8L309.2 622.9L308.3 622.5L307.2 622.6L306.2 621.9L305.2 621.2L304.0 621.3L303.1 621.2L302.0 621.3L301.0 621.5L300.1 621.2L299.1 621.2L297.7 621.4L296.9 620.4L296.1 619.5L295.1 619.0L294.1 618.4L293.0 618.2L291.9 617.8L291.1 617.0L289.9 616.9L288.8 616.5L288.1 615.5L287.1 614.9L286.1 614.5L285.0 614.4L284.0 614.8L283.0 614.7L281.9 614.2L280.9 614.5L280.0 615.1L279.2 615.4L278.5 616.2L278.0 617.0L277.3 617.6L276.5 618.3L275.7 619.1L274.4 618.9L273.3 618.5L272.4 618.7L271.4 618.9L270.4 618.9L269.4 619.0L268.6 618.5L268.0 617.7L267.2 617.2L266.4 616.6L266.1 615.6L265.9 614.5L265.1 613.7L264.4 612.7L263.7 611.9L263.0 611.2L262.6 610.0L261.8 609.4L260.6 609.1L260.0 608.3L259.5 607.5L258.8 606.8L258.4 605.9L258.0 605.0L257.2 604.1L257.2 602.9L257.1 601.7L255.9 601.0L255.2 600.4L254.7 599.6L254.1 598.9L253.9 597.8L253.7 596.8L253.1 596.1L252.5 595.3L252.5 594.3L252.4 593.4L251.9 592.5L251.7 591.6L252.1 590.5L252.7 589.5L253.7 588.7L253.9 587.6L253.0 586.9L252.0 586.4L251.4 585.6L250.7 585.0L249.7 584.9L248.6 584.8L247.5 585.0L246.6 585.1L245.9 583.9L245.2 583.0L245.2 581.9L246.2 581.3L247.4 581.1L248.2 581.1L249.3 581.5L250.4 581.2L251.2 580.6L252.3 580.4L253.3 579.9L253.8 578.9L254.5 577.9L254.9 576.7L255.5 575.8L256.4 575.3L257.3 574.1L258.6 574.0L259.7 574.4L260.7 574.3L261.8 574.2L262.7 573.8L263.3 573.0L264.1 572.5L264.9 571.9L265.2 570.9L265.3 570.0L266.0 569.2L266.6 568.3L266.6 567.3L266.8 566.4L267.0 565.3L267.3 564.2L268.2 563.7L269.0 563.0L268.8 562.0L268.2 561.2L268.1 560.3L268.2 559.3ZM270.40 551.90C270.40 552.14 270.15 552.44 269.81 552.61C269.48 552.77 268.87 552.90 268.40 552.90C267.93 552.90 267.32 552.77 266.99 552.61C266.65 552.44 266.40 552.14 266.40 551.90C266.40 551.66 266.65 551.36 266.99 551.19C267.32 551.03 267.93 550.90 268.40 550.90C268.87 550.90 269.48 551.03 269.81 551.19C270.15 551.36 270.40 551.66 270.40 551.90ZM325.70 583.40C325.70 583.78 325.37 584.34 325.05 584.53C324.72 584.71 324.07 584.71 323.75 584.53C323.43 584.34 323.10 583.78 323.10 583.40C323.10 583.02 323.43 582.46 323.75 582.27C324.07 582.09 324.72 582.09 325.05 582.27C325.37 582.46 325.70 583.02 325.70 583.40ZM260.3 585.1L260.5 584.2L260.7 583.1L261.6 582.3L262.7 581.7L263.4 581.2L264.3 580.9L265.2 580.3L266.1 579.7L267.1 579.5L268.0 579.1L268.8 578.4L269.7 578.1L270.7 578.0L271.6 577.8L272.5 577.5L273.4 577.2L274.2 576.6L275.0 576.0L276.0 575.9L276.9 575.7L277.8 575.3L278.7 575.0L279.6 574.9L280.5 574.7L281.4 574.5L282.4 574.4L283.1 573.9L283.8 573.3L284.8 573.0L285.9 572.6L286.7 571.7L287.4 571.0L288.0 570.3L288.8 569.5L289.7 569.1L290.7 568.8L291.5 568.4L292.4 568.4L293.4 568.9L294.3 569.1L295.3 569.1L296.3 569.3L297.3 569.4L298.3 569.9L299.1 570.7L299.9 571.2L301.1 571.4L302.1 572.0L303.1 572.5L304.0 573.0L304.8 573.7L305.7 574.4L306.2 575.3L306.1 576.4L306.2 577.3L306.5 578.3L306.4 579.4L306.1 580.4L305.8 581.3L305.1 582.1L304.6 582.9L304.1 583.8L303.2 584.2L302.2 584.4L301.4 585.1L300.8 585.8L300.0 586.5L299.4 587.1L298.7 587.7L297.7 588.7L297.3 589.6L296.3 589.1L295.4 588.2L294.5 588.8L294.2 589.7L294.3 590.4L294.7 591.3L295.2 592.4L295.8 593.3L296.8 593.7L297.9 594.0L298.7 594.9L299.5 595.6L300.3 596.3L301.0 597.0L301.9 597.6L302.6 598.4L303.2 599.3L304.1 599.8L305.0 600.5L305.5 601.4L306.0 602.4L306.5 603.2L306.9 604.1L307.7 604.7L308.4 605.4L308.7 606.3L309.1 607.4L309.7 608.3L309.9 609.3L309.9 610.3L309.9 611.4L309.7 612.5L309.8 613.6L309.6 614.6L308.5 615.1L307.3 614.9L306.0 615.0L305.2 614.8L304.3 614.6L303.3 614.4L302.3 614.0L301.3 613.6L300.3 613.6L299.4 613.1L298.7 612.3L297.7 611.8L296.7 611.5L295.8 611.3L294.8 611.2L293.9 610.9L293.1 610.3L292.2 609.9L291.3 609.8L290.4 609.3L289.5 608.6L288.6 608.3L287.6 608.1L286.6 607.8L285.7 607.6L284.9 607.1L284.1 606.4L283.2 606.1L282.2 606.0L281.3 605.7L280.4 605.4L279.4 605.2L278.5 604.9L277.6 604.7L276.6 604.5L275.7 604.0L274.9 603.2L273.9 603.1L272.8 602.9L271.9 602.5L271.0 602.0L270.3 601.5L269.6 600.7L268.8 600.2L267.9 599.7L267.4 598.9L266.7 598.0L265.8 597.4L265.1 596.6L264.5 595.8L264.0 594.9L263.7 593.9L263.3 593.0L262.4 592.4L261.8 591.8L261.4 590.8L261.0 590.0L260.5 589.2L260.2 588.3L259.9 587.2L259.9 586.1Z" fill="#DB92DB" fill-opacity="0.55" fill-rule="evenodd" stroke="none"/>
<path d="M260.3 585.1L260.5 584.2L260.7 583.1L261.6 582.3L262.7 581.7L263.4 581.2L264.3 580.9L265.2 580.3L266.1 579.7L267.1 579.5L268.0 579.1L268.8 578.4L269.7 578.1L270.7 578.0L271.6 577.8L272.5 577.5L273.4 577.2L274.2 576.6L275.0 576.0L276.0 575.9L276.9 575.7L277.8 575.3L278.7 575.0L279.6 574.9L280.5 574.7L281.4 574.5L282.4 574.4L283.1 573.9L283.8 573.3L284.8 573.0L285.9 572.6L286.7 571.7L287.4 571.0L288.0 570.3L288.8 569.5L289.7 569.1L290.7 568.8L291.5 568.4L292.4 568.4L293.4 568.9L294.3 569.1L295.3 569.1L296.3 569.3L297.3 569.4L298.3 569.9L299.1 570.7L299.9 571.2L301.1 571.4L302.1 572.0L303.1 572.5L304.0 573.0L304.8 573.7L305.7 574.4L306.2 575.3L306.1 576.4L306.2 577.3L306.5 578.3L306.4 579.4L306.1 580.4L305.8 581.3L305.1 582.1L304.6 582.9L304.1 583.8L303.2 584.2L302.2 584.4L301.4 585.1L300.8 585.8L300.0 586.5L299.4 587.1L298.7 587.7L297.7 588.7L297.3 589.6L296.3 589.1L295.4 588.2L294.5 588.8L294.2 589.7L294.3 590.4L294.7 591.3L295.2 592.4L295.8 593.3L296.8 593.7L297.9 594.0L298.7 594.9L299.5 595.6L300.3 596.3L301.0 597.0L301.9 597.6L302.6 598.4L303.2 599.3L304.1 599.8L305.0 600.5L305.5 601.4L306.0 602.4L306.5 603.2L306.9 604.1L307.7 604.7L308.4 605.4L308.7 606.3L309.1 607.4L309.7 608.3L309.9 609.3L309.9 610.3L309.9 611.4L309.7 612.5L309.8 613.6L309.6 614.6L308.5 615.1L307.3 614.9L306.0 615.0L305.2 614.8L304.3 614.6L303.3 614.4L302.3 614.0L301.3 613.6L300.3 613.6L299.4 613.1L298.7 612.3L297.7 611.8L296.7 611.5L295.8 611.3L294.8 611.2L293.9 610.9L293.1 610.3L292.2 609.9L291.3 609.8L290.4 609.3L289.5 608.6L288.6 608.3L287.6 608.1L286.6 607.8L285.7 607.6L284.9 607.1L284.1 606.4L283.2 606.1L282.2 606.0L281.3 605.7L280.4 605.4L279.4 605.2L278.5 604.9L277.6 604.7L276.6 604.5L275.7 604.0L274.9 603.2L273.9 603.1L272.8 602.9L271.9 602.5L271.0 602.0L270.3 601.5L269.6 600.7L268.8 600.2L267.9 599.7L267.4 598.9L266.7 598.0L265.8 597.4L265.1 596.6L264.5 595.8L264.0 594.9L263.7 593.9L263.3 593.0L262.4 592.4L261.8 591.8L261.4 590.8L261.0 590.0L260.5 589.2L260.2 588.3L259.9 587.2L259.9 586.1Z" fill="#885E8D" fill-opacity="0.55" fill-rule="evenodd" stroke="none"/>
<path d="M268.6 558.3L269.5 557.8L270.4 557.0L271.6 556.6L273.0 556.7L273.8 555.8L274.0 554.8L274.6 554.2L275.6 554.3L276.7 554.7L277.3 555.7L277.8 556.7L278.6 557.5L279.2 558.5L280.1 558.9L281.0 558.6L282.0 558.3L283.0 558.1L283.9 557.9L285.1 558.2L286.2 558.5L287.1 558.0L288.0 557.4L289.0 557.7L290.0 558.1L291.1 558.4L292.0 559.1L293.0 559.4L294.0 560.0L294.7 561.0L296.0 561.1L297.2 561.1L298.1 561.8L299.1 562.4L299.9 563.3L300.9 563.8L302.0 563.6L303.0 563.9L303.9 564.5L305.0 564.5L306.1 564.6L307.0 565.2L308.0 565.7L308.7 566.4L309.3 567.1L310.5 567.2L311.6 567.3L312.2 568.1L312.7 569.0L313.4 569.6L314.0 570.4L314.6 571.1L315.4 571.6L315.9 572.6L316.3 573.7L317.3 574.5L317.7 575.5L317.5 576.6L317.4 577.5L317.4 578.5L317.5 579.4L318.2 580.3L318.7 581.2L318.4 582.1L318.2 583.1L318.6 584.0L318.7 585.0L318.6 586.0L318.8 587.1L318.8 588.2L319.1 589.3L319.9 590.2L320.0 591.1L319.5 592.2L319.6 593.2L320.0 594.0L320.3 594.9L320.7 595.7L321.3 596.7L321.3 597.7L321.5 598.7L322.3 599.5L322.5 600.7L322.6 601.9L323.4 602.8L324.0 603.7L324.7 604.5L325.3 605.4L325.1 606.6L324.9 607.7L325.3 608.7L325.2 609.8L325.0 610.9L325.0 612.0L324.7 613.0L324.5 614.2L324.2 615.2L323.1 615.9L322.7 617.0L323.4 618.0L324.0 619.0L324.5 619.9L324.9 620.9L325.0 622.0L325.5 622.9L326.4 623.5L326.7 624.3L326.6 625.8L326.9 627.1L326.0 628.2L324.6 628.6L324.1 627.9L323.9 626.7L322.9 626.0L321.9 626.0L321.0 625.9L319.9 626.2L318.7 626.4L317.7 626.1L316.7 626.1L315.7 625.9L314.8 625.3L313.7 625.2L312.5 625.5L311.5 625.1L310.6 624.4L309.8 623.8L309.2 622.9L308.3 622.5L307.2 622.6L306.2 621.9L305.2 621.2L304.0 621.3L303.1 621.2L302.0 621.3L301.0 621.5L300.1 621.2L299.1 621.2L297.7 621.4L296.9 620.4L296.1 619.5L295.1 619.0L294.1 618.4L293.0 618.2L291.9 617.8L291.1 617.0L289.9 616.9L288.8 616.5L288.1 615.5L287.1 614.9L286.1 614.5L285.0 614.4L284.0 614.8L283.0 614.7L281.9 614.2L280.9 614.5L280.0 615.1L279.2 615.4L278.5 616.2L278.0 617.0L277.3 617.6L276.5 618.3L275.7 619.1L274.4 618.9L273.3 618.5L272.4 618.7L271.4 618.9L270.4 618.9L269.4 619.0L268.6 618.5L268.0 617.7L267.2 617.2L266.4 616.6L266.1 615.6L265.9 614.5L265.1 613.7L264.4 612.7L263.7 611.9L263.0 611.2L262.6 610.0L261.8 609.4L260.6 609.1L260.0 608.3L259.5 607.5L258.8 606.8L258.4 605.9L258.0 605.0L257.2 604.1L257.2 602.9L257.1 601.7L255.9 601.0L255.2 600.4L254.7 599.6L254.1 598.9L253.9 597.8L253.7 596.8L253.1 596.1L252.5 595.3L252.5 594.3L252.4 593.4L251.9 592.5L251.7 591.6L252.1 590.5L252.7 589.5L253.7 588.7L253.9 587.6L253.0 586.9L252.0 586.4L251.4 585.6L250.7 585.0L249.7 584.9L248.6 584.8L247.5 585.0L246.6 585.1L245.9 583.9L245.2 583.0L245.2 581.9L246.2 581.3L247.4 581.1L248.2 581.1L249.3 581.5L250.4 581.2L251.2 580.6L252.3 580.4L253.3 579.9L253.8 578.9L254.5 577.9L254.9 576.7L255.5 575.8L256.4 575.3L257.3 574.1L258.6 574.0L259.7 574.4L260.7 574.3L261.8 574.2L262.7 573.8L263.3 573.0L264.1 572.5L264.9 571.9L265.2 570.9L265.3 570.0L266.0 569.2L266.6 568.3L266.6 567.3L266.8 566.4L267.0 565.3L267.3 564.2L268.2 563.7L269.0 563.0L268.8 562.0L268.2 561.2L268.1 560.3L268.2 559.3ZM270.40 551.90C270.40 552.14 270.15 552.44 269.81 552.61C269.48 552.77 268.87 552.90 268.40 552.90C267.93 552.90 267.32 552.77 266.99 552.61C266.65 552.44 266.40 552.14 266.40 551.90C266.40 551.66 266.65 551.36 266.99 551.19C267.32 551.03 267.93 550.90 268.40 550.90C268.87 550.90 269.48 551.03 269.81 551.19C270.15 551.36 270.40 551.66 270.40 551.90ZM325.70 583.40C325.70 583.78 325.37 584.34 325.05 584.53C324.72 584.71 324.07 584.71 323.75 584.53C323.43 584.34 323.10 583.78 323.10 583.40C323.10 583.02 323.43 582.46 323.75 582.27C324.07 582.09 324.72 582.09 325.05 582.27C325.37 582.46 325.70 583.02 325.70 583.40Z" fill="none" stroke="#A2569C" stroke-opacity="1" stroke-width="1.08" stroke-linejoin="round"/>
<path d="M260.3 585.1L260.5 584.2L260.7 583.1L261.6 582.3L262.7 581.7L263.4 581.2L264.3 580.9L265.2 580.3L266.1 579.7L267.1 579.5L268.0 579.1L268.8 578.4L269.7 578.1L270.7 578.0L271.6 577.8L272.5 577.5L273.4 577.2L274.2 576.6L275.0 576.0L276.0 575.9L276.9 575.7L277.8 575.3L278.7 575.0L279.6 574.9L280.5 574.7L281.4 574.5L282.4 574.4L283.1 573.9L283.8 573.3L284.8 573.0L285.9 572.6L286.7 571.7L287.4 571.0L288.0 570.3L288.8 569.5L289.7 569.1L290.7 568.8L291.5 568.4L292.4 568.4L293.4 568.9L294.3 569.1L295.3 569.1L296.3 569.3L297.3 569.4L298.3 569.9L299.1 570.7L299.9 571.2L301.1 571.4L302.1 572.0L303.1 572.5L304.0 573.0L304.8 573.7L305.7 574.4L306.2 575.3L306.1 576.4L306.2 577.3L306.5 578.3L306.4 579.4L306.1 580.4L305.8 581.3L305.1 582.1L304.6 582.9L304.1 583.8L303.2 584.2L302.2 584.4L301.4 585.1L300.8 585.8L300.0 586.5L299.4 587.1L298.7 587.7L297.7 588.7L297.3 589.6L296.3 589.1L295.4 588.2L294.5 588.8L294.2 589.7L294.3 590.4L294.7 591.3L295.2 592.4L295.8 593.3L296.8 593.7L297.9 594.0L298.7 594.9L299.5 595.6L300.3 596.3L301.0 597.0L301.9 597.6L302.6 598.4L303.2 599.3L304.1 599.8L305.0 600.5L305.5 601.4L306.0 602.4L306.5 603.2L306.9 604.1L307.7 604.7L308.4 605.4L308.7 606.3L309.1 607.4L309.7 608.3L309.9 609.3L309.9 610.3L309.9 611.4L309.7 612.5L309.8 613.6L309.6 614.6L308.5 615.1L307.3 614.9L306.0 615.0L305.2 614.8L304.3 614.6L303.3 614.4L302.3 614.0L301.3 613.6L300.3 613.6L299.4 613.1L298.7 612.3L297.7 611.8L296.7 611.5L295.8 611.3L294.8 611.2L293.9 610.9L293.1 610.3L292.2 609.9L291.3 609.8L290.4 609.3L289.5 608.6L288.6 608.3L287.6 608.1L286.6 607.8L285.7 607.6L284.9 607.1L284.1 606.4L283.2 606.1L282.2 606.0L281.3 605.7L280.4 605.4L279.4 605.2L278.5 604.9L277.6 604.7L276.6 604.5L275.7 604.0L274.9 603.2L273.9 603.1L272.8 602.9L271.9 602.5L271.0 602.0L270.3 601.5L269.6 600.7L268.8 600.2L267.9 599.7L267.4 598.9L266.7 598.0L265.8 597.4L265.1 596.6L264.5 595.8L264.0 594.9L263.7 593.9L263.3 593.0L262.4 592.4L261.8 591.8L261.4 590.8L261.0 590.0L260.5 589.2L260.2 588.3L259.9 587.2L259.9 586.1Z" fill="none" stroke="#6E2A62" stroke-opacity="1" stroke-width="1.08" stroke-linejoin="round"/>
</g>
<g clip-path="url(#c32)">
<path d="M461.2 555.1L461.6 554.0L462.5 553.5L463.5 553.1L464.1 552.2L465.1 551.8L466.1 552.3L467.1 552.5L468.1 552.2L469.0 551.8L469.7 551.0L470.5 550.2L471.7 550.5L472.8 550.8L473.6 550.2L474.4 549.7L475.3 549.6L476.1 549.5L477.3 549.5L478.2 550.1L479.4 550.3L480.3 550.7L480.8 552.1L481.8 552.7L483.0 552.5L484.0 552.4L485.0 552.4L486.0 552.4L486.7 553.2L487.2 554.0L488.2 554.5L488.8 555.3L488.9 556.5L489.7 557.2L490.6 558.0L491.0 559.0L491.4 559.8L491.5 561.1L491.7 562.3L492.9 562.7L494.1 562.5L495.2 563.2L496.2 563.7L496.8 564.3L497.1 565.2L497.5 566.1L498.0 566.9L498.2 567.9L498.7 568.7L499.8 569.1L500.6 569.9L500.2 571.1L499.6 572.1L499.0 572.9L498.1 573.6L497.6 575.0L496.9 575.7L496.7 576.7L497.7 577.5L498.2 578.6L498.2 579.7L498.4 580.7L498.7 581.7L499.0 582.5L499.7 583.5L499.7 584.6L498.7 585.3L498.3 586.3L498.6 587.2L498.9 588.2L499.1 589.1L499.3 590.0L499.0 590.9L498.4 591.6L498.3 592.6L497.8 593.6L496.6 593.7L495.4 593.8L494.8 594.7L494.2 595.6L493.9 596.5L493.7 597.4L493.1 598.1L492.1 598.6L491.8 599.6L491.7 600.7L490.8 601.4L490.2 602.3L490.1 603.3L489.7 604.1L489.3 605.0L488.9 605.9L488.1 606.3L486.9 606.7L486.4 607.5L486.6 608.7L486.4 609.5L486.0 610.5L486.0 611.6L485.5 612.5L484.8 613.1L484.1 613.9L482.8 614.2L481.8 614.6L481.6 616.1L481.0 617.2L480.0 617.6L478.8 617.4L477.9 616.6L476.7 616.3L476.0 617.2L475.5 618.0L474.6 618.3L473.7 618.8L473.1 619.7L472.3 620.1L471.3 620.1L470.3 620.2L469.4 620.2L468.6 620.0L467.7 620.4L466.5 621.0L465.7 620.6L464.9 619.9L463.9 620.1L462.9 620.5L461.9 620.8L461.1 621.5L460.0 622.0L458.9 622.4L458.3 623.6L457.5 624.1L456.4 624.0L455.5 624.2L454.8 624.6L453.9 624.8L453.0 625.2L452.0 625.7L451.2 625.3L449.7 625.1L448.6 625.8L447.7 625.5L446.8 625.0L446.0 624.9L445.1 624.7L444.1 624.3L443.0 624.1L442.3 623.3L442.0 621.8L441.1 621.3L440.0 621.2L439.1 620.8L438.3 620.5L437.4 620.3L436.6 619.6L435.8 619.1L434.8 619.1L434.1 618.4L434.1 617.3L433.8 616.5L432.8 615.9L432.2 615.2L431.7 614.3L431.3 613.5L431.3 612.4L431.3 611.3L430.1 610.7L428.9 610.2L428.5 609.1L427.8 608.4L427.2 607.7L426.9 606.8L426.3 605.9L425.8 604.9L425.6 603.8L424.3 603.1L423.8 601.9L425.0 601.6L426.3 601.9L427.5 601.9L429.0 602.1L429.9 601.4L429.8 601.0L429.5 600.0L428.7 599.1L427.3 598.2L427.3 597.0L427.0 595.9L426.7 594.7L426.1 594.0L424.8 593.6L424.1 592.7L424.5 591.8L425.3 591.2L426.1 590.3L427.4 589.9L428.3 589.5L429.2 588.8L430.1 588.4L430.4 587.7L429.4 587.8L428.2 586.9L427.6 585.8L426.7 585.5L425.7 584.5L425.0 583.5L425.7 582.7L427.1 582.8L428.2 582.1L429.0 581.6L430.3 581.9L431.4 581.6L432.1 580.7L432.4 580.2L432.1 579.6L431.0 579.0L430.9 577.7L431.7 577.1L431.9 576.2L431.9 575.0L432.5 574.3L433.1 573.5L433.4 572.5L434.1 571.8L434.8 571.3L435.6 570.6L436.7 570.5L437.9 570.6L438.5 569.7L438.1 568.4L438.0 567.5L438.2 566.5L438.4 565.6L439.1 564.7L439.6 564.0L439.9 563.1L440.8 562.7L441.9 563.1L443.0 562.5L443.6 561.7L444.4 561.3L445.4 561.1L446.2 560.7L447.1 560.1L447.7 559.3L447.4 558.1L447.6 557.1L448.8 556.8L450.0 556.5L451.1 556.1L452.1 556.4L453.3 556.5L454.4 557.0L455.4 557.3L456.8 556.6L457.8 556.9L458.7 557.6L459.7 557.2L460.5 556.2ZM436.80 569.10C436.80 569.45 436.47 569.97 436.15 570.14C435.82 570.31 435.18 570.31 434.85 570.14C434.53 569.97 434.20 569.45 434.20 569.10C434.20 568.75 434.53 568.23 434.85 568.06C435.18 567.89 435.82 567.89 436.15 568.06C436.47 568.23 436.80 568.75 436.80 569.10ZM499.40 559.60C499.40 559.92 499.05 560.39 498.70 560.55C498.35 560.71 497.65 560.71 497.30 560.55C496.95 560.39 496.60 559.92 496.60 559.60C496.60 559.28 496.95 558.81 497.30 558.65C497.65 558.49 498.35 558.49 498.70 558.65C499.05 558.81 499.40 559.28 499.40 559.60ZM429.30 615.60C429.30 616.18 428.97 617.04 428.65 617.33C428.32 617.62 427.68 617.62 427.35 617.33C427.03 617.04 426.70 616.18 426.70 615.60C426.70 615.02 427.03 614.16 427.35 613.87C427.68 613.58 428.32 613.58 428.65 613.87C428.97 614.16 429.30 615.02 429.30 615.60ZM449.6 571.5L450.1 570.4L450.7 569.8L451.6 569.0L452.5 568.6L453.7 569.1L454.8 569.2L455.8 568.4L456.7 568.1L457.6 567.8L458.3 567.1L458.9 566.4L459.7 566.0L460.4 565.4L461.5 565.1L462.7 565.6L463.8 565.4L464.9 564.7L465.8 564.8L466.7 565.1L467.6 565.4L468.3 566.0L469.2 566.5L470.2 566.5L471.1 566.9L471.8 567.7L472.8 568.0L473.7 567.8L474.9 568.3L475.8 568.8L476.7 569.5L477.5 570.2L478.5 570.3L479.7 570.0L480.6 570.4L481.5 571.1L482.6 571.2L483.5 571.8L484.2 572.5L484.9 573.3L485.1 574.4L485.6 575.4L486.6 576.2L486.6 577.2L485.9 578.1L485.5 578.9L485.3 580.0L485.3 581.0L485.8 581.9L486.1 582.9L486.0 584.0L486.2 585.0L486.4 586.2L485.7 587.1L484.9 588.0L484.4 588.9L484.0 589.9L483.9 590.9L483.7 591.9L483.0 592.5L482.1 592.9L481.7 593.7L481.4 594.6L480.7 595.2L480.0 595.8L479.6 596.6L479.2 597.4L478.8 598.4L478.8 599.5L478.1 600.4L477.0 600.9L476.4 601.6L476.0 602.7L475.2 603.5L474.5 604.4L473.7 605.1L472.8 605.7L472.3 606.7L471.5 607.3L470.4 607.1L469.7 606.9L468.6 607.1L467.5 607.0L466.4 606.8L465.5 606.5L464.4 606.1L463.4 606.4L462.5 607.1L461.5 607.2L460.5 607.2L459.5 607.6L458.5 607.6L457.5 607.4L456.6 607.2L455.5 606.6L454.5 606.3L453.4 607.0L452.4 607.6L451.3 607.5L450.2 607.6L449.2 607.6L448.2 607.3L447.2 607.4L446.4 607.1L445.8 606.4L445.1 606.0L444.1 605.6L443.5 604.7L443.6 603.5L443.5 602.3L443.4 601.1L442.9 600.3L442.0 599.7L441.5 598.8L441.4 597.8L440.8 597.1L440.1 596.4L440.0 595.3L440.0 594.2L439.8 593.2L439.7 592.2L439.2 591.3L438.7 590.2L439.2 589.2L439.9 588.3L440.1 587.3L440.6 586.3L441.1 585.5L441.4 584.6L442.1 583.8L442.7 583.0L442.7 581.8L443.2 581.0L444.2 580.5L444.9 579.8L445.1 578.9L445.4 578.0L445.6 577.1L445.8 576.1L446.5 575.3L447.3 574.6L447.6 573.5L448.1 572.6L449.0 572.1Z" fill="#A3FAF7" fill-opacity="0.52" fill-rule="evenodd" stroke="none"/>
<path d="M449.6 571.5L450.1 570.4L450.7 569.8L451.6 569.0L452.5 568.6L453.7 569.1L454.8 569.2L455.8 568.4L456.7 568.1L457.6 567.8L458.3 567.1L458.9 566.4L459.7 566.0L460.4 565.4L461.5 565.1L462.7 565.6L463.8 565.4L464.9 564.7L465.8 564.8L466.7 565.1L467.6 565.4L468.3 566.0L469.2 566.5L470.2 566.5L471.1 566.9L471.8 567.7L472.8 568.0L473.7 567.8L474.9 568.3L475.8 568.8L476.7 569.5L477.5 570.2L478.5 570.3L479.7 570.0L480.6 570.4L481.5 571.1L482.6 571.2L483.5 571.8L484.2 572.5L484.9 573.3L485.1 574.4L485.6 575.4L486.6 576.2L486.6 577.2L485.9 578.1L485.5 578.9L485.3 580.0L485.3 581.0L485.8 581.9L486.1 582.9L486.0 584.0L486.2 585.0L486.4 586.2L485.7 587.1L484.9 588.0L484.4 588.9L484.0 589.9L483.9 590.9L483.7 591.9L483.0 592.5L482.1 592.9L481.7 593.7L481.4 594.6L480.7 595.2L480.0 595.8L479.6 596.6L479.2 597.4L478.8 598.4L478.8 599.5L478.1 600.4L477.0 600.9L476.4 601.6L476.0 602.7L475.2 603.5L474.5 604.4L473.7 605.1L472.8 605.7L472.3 606.7L471.5 607.3L470.4 607.1L469.7 606.9L468.6 607.1L467.5 607.0L466.4 606.8L465.5 606.5L464.4 606.1L463.4 606.4L462.5 607.1L461.5 607.2L460.5 607.2L459.5 607.6L458.5 607.6L457.5 607.4L456.6 607.2L455.5 606.6L454.5 606.3L453.4 607.0L452.4 607.6L451.3 607.5L450.2 607.6L449.2 607.6L448.2 607.3L447.2 607.4L446.4 607.1L445.8 606.4L445.1 606.0L444.1 605.6L443.5 604.7L443.6 603.5L443.5 602.3L443.4 601.1L442.9 600.3L442.0 599.7L441.5 598.8L441.4 597.8L440.8 597.1L440.1 596.4L440.0 595.3L440.0 594.2L439.8 593.2L439.7 592.2L439.2 591.3L438.7 590.2L439.2 589.2L439.9 588.3L440.1 587.3L440.6 586.3L441.1 585.5L441.4 584.6L442.1 583.8L442.7 583.0L442.7 581.8L443.2 581.0L444.2 580.5L444.9 579.8L445.1 578.9L445.4 578.0L445.6 577.1L445.8 576.1L446.5 575.3L447.3 574.6L447.6 573.5L448.1 572.6L449.0 572.1Z" fill="#1EAF8A" fill-opacity="0.6" fill-rule="evenodd" stroke="none"/>
<path d="M461.2 555.1L461.6 554.0L462.5 553.5L463.5 553.1L464.1 552.2L465.1 551.8L466.1 552.3L467.1 552.5L468.1 552.2L469.0 551.8L469.7 551.0L470.5 550.2L471.7 550.5L472.8 550.8L473.6 550.2L474.4 549.7L475.3 549.6L476.1 549.5L477.3 549.5L478.2 550.1L479.4 550.3L480.3 550.7L480.8 552.1L481.8 552.7L483.0 552.5L484.0 552.4L485.0 552.4L486.0 552.4L486.7 553.2L487.2 554.0L488.2 554.5L488.8 555.3L488.9 556.5L489.7 557.2L490.6 558.0L491.0 559.0L491.4 559.8L491.5 561.1L491.7 562.3L492.9 562.7L494.1 562.5L495.2 563.2L496.2 563.7L496.8 564.3L497.1 565.2L497.5 566.1L498.0 566.9L498.2 567.9L498.7 568.7L499.8 569.1L500.6 569.9L500.2 571.1L499.6 572.1L499.0 572.9L498.1 573.6L497.6 575.0L496.9 575.7L496.7 576.7L497.7 577.5L498.2 578.6L498.2 579.7L498.4 580.7L498.7 581.7L499.0 582.5L499.7 583.5L499.7 584.6L498.7 585.3L498.3 586.3L498.6 587.2L498.9 588.2L499.1 589.1L499.3 590.0L499.0 590.9L498.4 591.6L498.3 592.6L497.8 593.6L496.6 593.7L495.4 593.8L494.8 594.7L494.2 595.6L493.9 596.5L493.7 597.4L493.1 598.1L492.1 598.6L491.8 599.6L491.7 600.7L490.8 601.4L490.2 602.3L490.1 603.3L489.7 604.1L489.3 605.0L488.9 605.9L488.1 606.3L486.9 606.7L486.4 607.5L486.6 608.7L486.4 609.5L486.0 610.5L486.0 611.6L485.5 612.5L484.8 613.1L484.1 613.9L482.8 614.2L481.8 614.6L481.6 616.1L481.0 617.2L480.0 617.6L478.8 617.4L477.9 616.6L476.7 616.3L476.0 617.2L475.5 618.0L474.6 618.3L473.7 618.8L473.1 619.7L472.3 620.1L471.3 620.1L470.3 620.2L469.4 620.2L468.6 620.0L467.7 620.4L466.5 621.0L465.7 620.6L464.9 619.9L463.9 620.1L462.9 620.5L461.9 620.8L461.1 621.5L460.0 622.0L458.9 622.4L458.3 623.6L457.5 624.1L456.4 624.0L455.5 624.2L454.8 624.6L453.9 624.8L453.0 625.2L452.0 625.7L451.2 625.3L449.7 625.1L448.6 625.8L447.7 625.5L446.8 625.0L446.0 624.9L445.1 624.7L444.1 624.3L443.0 624.1L442.3 623.3L442.0 621.8L441.1 621.3L440.0 621.2L439.1 620.8L438.3 620.5L437.4 620.3L436.6 619.6L435.8 619.1L434.8 619.1L434.1 618.4L434.1 617.3L433.8 616.5L432.8 615.9L432.2 615.2L431.7 614.3L431.3 613.5L431.3 612.4L431.3 611.3L430.1 610.7L428.9 610.2L428.5 609.1L427.8 608.4L427.2 607.7L426.9 606.8L426.3 605.9L425.8 604.9L425.6 603.8L424.3 603.1L423.8 601.9L425.0 601.6L426.3 601.9L427.5 601.9L429.0 602.1L429.9 601.4L429.8 601.0L429.5 600.0L428.7 599.1L427.3 598.2L427.3 597.0L427.0 595.9L426.7 594.7L426.1 594.0L424.8 593.6L424.1 592.7L424.5 591.8L425.3 591.2L426.1 590.3L427.4 589.9L428.3 589.5L429.2 588.8L430.1 588.4L430.4 587.7L429.4 587.8L428.2 586.9L427.6 585.8L426.7 585.5L425.7 584.5L425.0 583.5L425.7 582.7L427.1 582.8L428.2 582.1L429.0 581.6L430.3 581.9L431.4 581.6L432.1 580.7L432.4 580.2L432.1 579.6L431.0 579.0L430.9 577.7L431.7 577.1L431.9 576.2L431.9 575.0L432.5 574.3L433.1 573.5L433.4 572.5L434.1 571.8L434.8 571.3L435.6 570.6L436.7 570.5L437.9 570.6L438.5 569.7L438.1 568.4L438.0 567.5L438.2 566.5L438.4 565.6L439.1 564.7L439.6 564.0L439.9 563.1L440.8 562.7L441.9 563.1L443.0 562.5L443.6 561.7L444.4 561.3L445.4 561.1L446.2 560.7L447.1 560.1L447.7 559.3L447.4 558.1L447.6 557.1L448.8 556.8L450.0 556.5L451.1 556.1L452.1 556.4L453.3 556.5L454.4 557.0L455.4 557.3L456.8 556.6L457.8 556.9L458.7 557.6L459.7 557.2L460.5 556.2ZM436.80 569.10C436.80 569.45 436.47 569.97 436.15 570.14C435.82 570.31 435.18 570.31 434.85 570.14C434.53 569.97 434.20 569.45 434.20 569.10C434.20 568.75 434.53 568.23 434.85 568.06C435.18 567.89 435.82 567.89 436.15 568.06C436.47 568.23 436.80 568.75 436.80 569.10ZM499.40 559.60C499.40 559.92 499.05 560.39 498.70 560.55C498.35 560.71 497.65 560.71 497.30 560.55C496.95 560.39 496.60 559.92 496.60 559.60C496.60 559.28 496.95 558.81 497.30 558.65C497.65 558.49 498.35 558.49 498.70 558.65C499.05 558.81 499.40 559.28 499.40 559.60ZM429.30 615.60C429.30 616.18 428.97 617.04 428.65 617.33C428.32 617.62 427.68 617.62 427.35 617.33C427.03 617.04 426.70 616.18 426.70 615.60C426.70 615.02 427.03 614.16 427.35 613.87C427.68 613.58 428.32 613.58 428.65 613.87C428.97 614.16 429.30 615.02 429.30 615.60Z" fill="none" stroke="#72C4BC" stroke-opacity="1" stroke-width="1.08" stroke-linejoin="round"/>
<path d="M449.6 571.5L450.1 570.4L450.7 569.8L451.6 569.0L452.5 568.6L453.7 569.1L454.8 569.2L455.8 568.4L456.7 568.1L457.6 567.8L458.3 567.1L458.9 566.4L459.7 566.0L460.4 565.4L461.5 565.1L462.7 565.6L463.8 565.4L464.9 564.7L465.8 564.8L466.7 565.1L467.6 565.4L468.3 566.0L469.2 566.5L470.2 566.5L471.1 566.9L471.8 567.7L472.8 568.0L473.7 567.8L474.9 568.3L475.8 568.8L476.7 569.5L477.5 570.2L478.5 570.3L479.7 570.0L480.6 570.4L481.5 571.1L482.6 571.2L483.5 571.8L484.2 572.5L484.9 573.3L485.1 574.4L485.6 575.4L486.6 576.2L486.6 577.2L485.9 578.1L485.5 578.9L485.3 580.0L485.3 581.0L485.8 581.9L486.1 582.9L486.0 584.0L486.2 585.0L486.4 586.2L485.7 587.1L484.9 588.0L484.4 588.9L484.0 589.9L483.9 590.9L483.7 591.9L483.0 592.5L482.1 592.9L481.7 593.7L481.4 594.6L480.7 595.2L480.0 595.8L479.6 596.6L479.2 597.4L478.8 598.4L478.8 599.5L478.1 600.4L477.0 600.9L476.4 601.6L476.0 602.7L475.2 603.5L474.5 604.4L473.7 605.1L472.8 605.7L472.3 606.7L471.5 607.3L470.4 607.1L469.7 606.9L468.6 607.1L467.5 607.0L466.4 606.8L465.5 606.5L464.4 606.1L463.4 606.4L462.5 607.1L461.5 607.2L460.5 607.2L459.5 607.6L458.5 607.6L457.5 607.4L456.6 607.2L455.5 606.6L454.5 606.3L453.4 607.0L452.4 607.6L451.3 607.5L450.2 607.6L449.2 607.6L448.2 607.3L447.2 607.4L446.4 607.1L445.8 606.4L445.1 606.0L444.1 605.6L443.5 604.7L443.6 603.5L443.5 602.3L443.4 601.1L442.9 600.3L442.0 599.7L441.5 598.8L441.4 597.8L440.8 597.1L440.1 596.4L440.0 595.3L440.0 594.2L439.8 593.2L439.7 592.2L439.2 591.3L438.7 590.2L439.2 589.2L439.9 588.3L440.1 587.3L440.6 586.3L441.1 585.5L441.4 584.6L442.1 583.8L442.7 583.0L442.7 581.8L443.2 581.0L444.2 580.5L444.9 579.8L445.1 578.9L445.4 578.0L445.6 577.1L445.8 576.1L446.5 575.3L447.3 574.6L447.6 573.5L448.1 572.6L449.0 572.1Z" fill="none" stroke="#2E8A80" stroke-opacity="1" stroke-width="1.08" stroke-linejoin="round"/>
<path d="M461.5 557.4L462.0 556.4L463.1 556.3L464.2 556.4L464.9 556.0L465.9 555.5L467.0 555.7L468.1 556.0L468.9 556.4L469.6 557.1L470.4 557.6L471.3 558.0L471.6 558.9L471.7 559.8L472.4 560.5L473.3 561.1L473.8 562.0L474.2 563.0L474.4 564.1L474.4 565.3L475.2 566.0L476.3 566.6L476.7 567.5L477.3 568.2L478.5 568.5L479.5 568.9L480.5 569.4L481.5 569.9L482.6 570.6L483.7 570.1L484.1 568.9L485.1 568.2L486.2 567.6L487.2 567.0L488.3 566.5L489.3 566.2L490.0 566.7L490.5 567.7L491.5 568.6L491.7 569.7L491.0 570.8L490.8 572.0L490.8 573.1L491.2 574.2L491.9 575.2L491.7 576.3L491.5 577.5L492.1 578.4L492.3 579.4L492.3 580.6L492.7 581.5L493.0 582.5L493.3 583.5L493.8 584.5L493.4 585.6L492.6 586.5L492.6 587.4L492.7 588.6L492.3 589.6L491.9 590.6L491.2 591.4L490.4 591.8L489.6 592.4L488.9 592.9L487.9 593.0L486.8 593.2L486.2 594.2L485.7 595.2L485.2 595.8L484.8 596.6L484.1 597.3L483.2 598.0L483.0 598.8L483.2 599.8L482.9 600.7L482.4 601.5L482.4 602.5L482.5 603.5L482.2 604.5L482.0 605.5L481.6 606.5L481.2 607.5L481.6 608.6L482.4 609.5L482.4 610.6L482.2 611.6L482.4 612.5L482.4 613.7L482.4 614.6L482.4 615.6L482.0 616.4L481.4 617.2L481.3 618.2L480.9 619.2L479.7 619.4L478.4 619.5L477.5 619.8L476.9 619.7L476.5 619.2L475.9 618.1L476.3 616.9L476.2 616.1L475.6 616.6L475.1 617.8L474.0 618.6L473.5 619.5L473.3 620.4L473.0 621.2L472.5 622.2L471.7 623.0L470.4 623.0L469.5 623.2L468.9 623.9L468.2 624.5L467.3 624.9L466.6 625.7L465.9 626.4L465.0 627.0L464.4 627.7L463.3 628.1L462.1 627.6L461.2 627.7L460.0 628.0L458.9 627.7L457.8 627.2L457.2 626.5L456.6 625.7L455.8 625.2L454.8 625.1L453.9 624.7L453.0 624.2L451.9 624.3L450.9 624.0L450.4 623.0L450.3 621.9L450.5 620.8L450.4 619.7L449.2 619.2L448.1 619.1L447.3 618.2L446.6 617.5L445.7 617.1L445.0 616.3L444.3 615.6L443.6 614.9L443.2 614.0L442.6 613.2L441.4 612.8L440.7 612.2L440.5 611.0L440.0 610.1L439.4 609.3L438.9 608.6L437.9 607.9L437.3 607.0L437.3 605.9L436.7 605.0L436.0 604.2L436.1 603.2L436.2 602.1L435.8 601.1L435.3 600.3L434.6 599.6L433.7 598.9L433.5 597.8L433.9 596.8L433.9 595.9L433.7 595.0L434.0 594.1L434.4 593.2L434.5 592.3L434.9 591.4L435.3 590.4L435.4 589.4L435.9 588.7L437.0 588.0L437.3 587.0L437.1 585.9L437.2 585.0L437.0 584.1L436.7 583.2L436.8 582.1L437.0 581.3L437.2 580.4L438.2 579.7L439.4 579.3L439.8 578.0L440.1 577.1L440.7 576.2L441.2 575.3L442.1 574.5L442.6 573.7L442.4 572.7L442.2 571.7L442.7 570.9L443.0 570.0L443.0 568.9L443.2 567.8L443.4 566.7L443.8 565.7L444.4 565.0L444.7 564.0L444.6 562.8L445.2 562.0L446.1 561.8L447.2 561.5L448.2 561.3L449.2 561.5L450.2 561.8L451.0 562.8L451.7 563.8L453.0 564.5L453.6 565.7L454.6 566.0L455.7 565.6L456.8 565.1L457.7 564.3L458.8 563.9L460.0 564.0L460.8 563.1L461.2 562.2L462.0 561.3L462.0 560.3L461.7 559.3L461.5 558.3ZM501.70 583.40C501.70 583.59 501.47 583.91 501.29 583.97C501.10 584.03 500.73 583.91 500.61 583.75C500.50 583.60 500.50 583.20 500.61 583.05C500.73 582.89 501.10 582.77 501.29 582.83C501.47 582.89 501.70 583.21 501.70 583.40ZM467.4 566.8L468.3 567.0L469.1 567.5L470.0 568.0L470.7 568.7L470.9 569.8L471.5 570.8L472.1 571.4L472.6 572.2L473.1 573.1L473.5 574.0L473.5 575.0L473.7 575.9L474.3 576.7L474.6 577.5L474.6 578.4L474.7 579.4L474.9 580.2L474.9 581.2L474.9 582.2L474.8 583.2L474.3 584.1L473.9 584.9L474.0 586.0L474.1 587.1L473.9 588.0L473.8 589.0L473.7 590.0L473.4 591.0L473.4 592.0L473.2 593.0L472.8 594.0L472.7 595.0L473.2 596.0L473.4 597.0L473.4 598.1L473.5 599.1L473.4 600.0L473.8 601.1L474.5 602.0L474.8 602.9L474.7 603.7L474.6 604.6L474.3 605.5L473.7 606.2L473.1 606.9L472.4 607.7L471.6 608.3L471.0 609.1L470.6 610.1L469.9 610.9L469.0 611.4L468.2 612.0L467.4 612.5L466.3 613.0L465.3 613.6L464.2 613.5L463.4 613.3L462.4 613.3L461.5 612.7L461.2 611.6L461.0 610.4L460.7 609.2L459.9 608.5L458.8 608.1L458.0 607.6L457.0 607.0L455.9 607.0L454.9 607.0L454.1 607.2L453.2 607.6L452.4 608.1L451.6 608.5L450.9 609.4L450.1 610.3L449.2 610.2L448.7 609.5L448.3 608.8L447.8 607.8L447.5 606.8L447.1 606.1L446.8 605.2L446.7 604.3L446.4 603.4L445.8 602.6L445.7 601.6L445.9 600.5L445.9 599.5L445.8 598.5L445.7 597.5L445.1 596.5L444.9 595.5L444.9 594.4L444.6 593.4L444.3 592.5L444.5 591.5L444.7 590.6L444.8 589.7L445.1 588.8L445.2 587.8L445.4 586.6L446.1 585.8L446.9 585.1L447.3 584.2L447.6 583.3L448.1 582.6L448.6 581.9L449.4 581.4L450.4 581.1L451.4 580.7L452.3 580.3L453.3 580.6L454.3 581.0L455.3 581.0L456.2 580.7L457.0 580.0L457.7 578.9L458.7 578.2L459.2 577.5L459.5 576.6L460.0 575.8L460.7 575.1L461.1 574.3L461.4 573.5L461.9 572.7L462.2 571.8L462.7 570.8L463.6 570.2L464.5 569.7L465.0 568.8L465.7 567.9L466.5 567.2Z" fill="#DB92DB" fill-opacity="0.55" fill-rule="evenodd" stroke="none"/>
<path d="M467.4 566.8L468.3 567.0L469.1 567.5L470.0 568.0L470.7 568.7L470.9 569.8L471.5 570.8L472.1 571.4L472.6 572.2L473.1 573.1L473.5 574.0L473.5 575.0L473.7 575.9L474.3 576.7L474.6 577.5L474.6 578.4L474.7 579.4L474.9 580.2L474.9 581.2L474.9 582.2L474.8 583.2L474.3 584.1L473.9 584.9L474.0 586.0L474.1 587.1L473.9 588.0L473.8 589.0L473.7 590.0L473.4 591.0L473.4 592.0L473.2 593.0L472.8 594.0L472.7 595.0L473.2 596.0L473.4 597.0L473.4 598.1L473.5 599.1L473.4 600.0L473.8 601.1L474.5 602.0L474.8 602.9L474.7 603.7L474.6 604.6L474.3 605.5L473.7 606.2L473.1 606.9L472.4 607.7L471.6 608.3L471.0 609.1L470.6 610.1L469.9 610.9L469.0 611.4L468.2 612.0L467.4 612.5L466.3 613.0L465.3 613.6L464.2 613.5L463.4 613.3L462.4 613.3L461.5 612.7L461.2 611.6L461.0 610.4L460.7 609.2L459.9 608.5L458.8 608.1L458.0 607.6L457.0 607.0L455.9 607.0L454.9 607.0L454.1 607.2L453.2 607.6L452.4 608.1L451.6 608.5L450.9 609.4L450.1 610.3L449.2 610.2L448.7 609.5L448.3 608.8L447.8 607.8L447.5 606.8L447.1 606.1L446.8 605.2L446.7 604.3L446.4 603.4L445.8 602.6L445.7 601.6L445.9 600.5L445.9 599.5L445.8 598.5L445.7 597.5L445.1 596.5L444.9 595.5L444.9 594.4L444.6 593.4L444.3 592.5L444.5 591.5L444.7 590.6L444.8 589.7L445.1 588.8L445.2 587.8L445.4 586.6L446.1 585.8L446.9 585.1L447.3 584.2L447.6 583.3L448.1 582.6L448.6 581.9L449.4 581.4L450.4 581.1L451.4 580.7L452.3 580.3L453.3 580.6L454.3 581.0L455.3 581.0L456.2 580.7L457.0 580.0L457.7 578.9L458.7 578.2L459.2 577.5L459.5 576.6L460.0 575.8L460.7 575.1L461.1 574.3L461.4 573.5L461.9 572.7L462.2 571.8L462.7 570.8L463.6 570.2L464.5 569.7L465.0 568.8L465.7 567.9L466.5 567.2Z" fill="#885E8D" fill-opacity="0.55" fill-rule="evenodd" stroke="none"/>
<path d="M461.5 557.4L462.0 556.4L463.1 556.3L464.2 556.4L464.9 556.0L465.9 555.5L467.0 555.7L468.1 556.0L468.9 556.4L469.6 557.1L470.4 557.6L471.3 558.0L471.6 558.9L471.7 559.8L472.4 560.5L473.3 561.1L473.8 562.0L474.2 563.0L474.4 564.1L474.4 565.3L475.2 566.0L476.3 566.6L476.7 567.5L477.3 568.2L478.5 568.5L479.5 568.9L480.5 569.4L481.5 569.9L482.6 570.6L483.7 570.1L484.1 568.9L485.1 568.2L486.2 567.6L487.2 567.0L488.3 566.5L489.3 566.2L490.0 566.7L490.5 567.7L491.5 568.6L491.7 569.7L491.0 570.8L490.8 572.0L490.8 573.1L491.2 574.2L491.9 575.2L491.7 576.3L491.5 577.5L492.1 578.4L492.3 579.4L492.3 580.6L492.7 581.5L493.0 582.5L493.3 583.5L493.8 584.5L493.4 585.6L492.6 586.5L492.6 587.4L492.7 588.6L492.3 589.6L491.9 590.6L491.2 591.4L490.4 591.8L489.6 592.4L488.9 592.9L487.9 593.0L486.8 593.2L486.2 594.2L485.7 595.2L485.2 595.8L484.8 596.6L484.1 597.3L483.2 598.0L483.0 598.8L483.2 599.8L482.9 600.7L482.4 601.5L482.4 602.5L482.5 603.5L482.2 604.5L482.0 605.5L481.6 606.5L481.2 607.5L481.6 608.6L482.4 609.5L482.4 610.6L482.2 611.6L482.4 612.5L482.4 613.7L482.4 614.6L482.4 615.6L482.0 616.4L481.4 617.2L481.3 618.2L480.9 619.2L479.7 619.4L478.4 619.5L477.5 619.8L476.9 619.7L476.5 619.2L475.9 618.1L476.3 616.9L476.2 616.1L475.6 616.6L475.1 617.8L474.0 618.6L473.5 619.5L473.3 620.4L473.0 621.2L472.5 622.2L471.7 623.0L470.4 623.0L469.5 623.2L468.9 623.9L468.2 624.5L467.3 624.9L466.6 625.7L465.9 626.4L465.0 627.0L464.4 627.7L463.3 628.1L462.1 627.6L461.2 627.7L460.0 628.0L458.9 627.7L457.8 627.2L457.2 626.5L456.6 625.7L455.8 625.2L454.8 625.1L453.9 624.7L453.0 624.2L451.9 624.3L450.9 624.0L450.4 623.0L450.3 621.9L450.5 620.8L450.4 619.7L449.2 619.2L448.1 619.1L447.3 618.2L446.6 617.5L445.7 617.1L445.0 616.3L444.3 615.6L443.6 614.9L443.2 614.0L442.6 613.2L441.4 612.8L440.7 612.2L440.5 611.0L440.0 610.1L439.4 609.3L438.9 608.6L437.9 607.9L437.3 607.0L437.3 605.9L436.7 605.0L436.0 604.2L436.1 603.2L436.2 602.1L435.8 601.1L435.3 600.3L434.6 599.6L433.7 598.9L433.5 597.8L433.9 596.8L433.9 595.9L433.7 595.0L434.0 594.1L434.4 593.2L434.5 592.3L434.9 591.4L435.3 590.4L435.4 589.4L435.9 588.7L437.0 588.0L437.3 587.0L437.1 585.9L437.2 585.0L437.0 584.1L436.7 583.2L436.8 582.1L437.0 581.3L437.2 580.4L438.2 579.7L439.4 579.3L439.8 578.0L440.1 577.1L440.7 576.2L441.2 575.3L442.1 574.5L442.6 573.7L442.4 572.7L442.2 571.7L442.7 570.9L443.0 570.0L443.0 568.9L443.2 567.8L443.4 566.7L443.8 565.7L444.4 565.0L444.7 564.0L444.6 562.8L445.2 562.0L446.1 561.8L447.2 561.5L448.2 561.3L449.2 561.5L450.2 561.8L451.0 562.8L451.7 563.8L453.0 564.5L453.6 565.7L454.6 566.0L455.7 565.6L456.8 565.1L457.7 564.3L458.8 563.9L460.0 564.0L460.8 563.1L461.2 562.2L462.0 561.3L462.0 560.3L461.7 559.3L461.5 558.3ZM501.70 583.40C501.70 583.59 501.47 583.91 501.29 583.97C501.10 584.03 500.73 583.91 500.61 583.75C500.50 583.60 500.50 583.20 500.61 583.05C500.73 582.89 501.10 582.77 501.29 582.83C501.47 582.89 501.70 583.21 501.70 583.40Z" fill="none" stroke="#A2569C" stroke-opacity="1" stroke-width="1.08" stroke-linejoin="round"/>
<path d="M467.4 566.8L468.3 567.0L469.1 567.5L470.0 568.0L470.7 568.7L470.9 569.8L471.5 570.8L472.1 571.4L472.6 572.2L473.1 573.1L473.5 574.0L473.5 575.0L473.7 575.9L474.3 576.7L474.6 577.5L474.6 578.4L474.7 579.4L474.9 580.2L474.9 581.2L474.9 582.2L474.8 583.2L474.3 584.1L473.9 584.9L474.0 586.0L474.1 587.1L473.9 588.0L473.8 589.0L473.7 590.0L473.4 591.0L473.4 592.0L473.2 593.0L472.8 594.0L472.7 595.0L473.2 596.0L473.4 597.0L473.4 598.1L473.5 599.1L473.4 600.0L473.8 601.1L474.5 602.0L474.8 602.9L474.7 603.7L474.6 604.6L474.3 605.5L473.7 606.2L473.1 606.9L472.4 607.7L471.6 608.3L471.0 609.1L470.6 610.1L469.9 610.9L469.0 611.4L468.2 612.0L467.4 612.5L466.3 613.0L465.3 613.6L464.2 613.5L463.4 613.3L462.4 613.3L461.5 612.7L461.2 611.6L461.0 610.4L460.7 609.2L459.9 608.5L458.8 608.1L458.0 607.6L457.0 607.0L455.9 607.0L454.9 607.0L454.1 607.2L453.2 607.6L452.4 608.1L451.6 608.5L450.9 609.4L450.1 610.3L449.2 610.2L448.7 609.5L448.3 608.8L447.8 607.8L447.5 606.8L447.1 606.1L446.8 605.2L446.7 604.3L446.4 603.4L445.8 602.6L445.7 601.6L445.9 600.5L445.9 599.5L445.8 598.5L445.7 597.5L445.1 596.5L444.9 595.5L444.9 594.4L444.6 593.4L444.3 592.5L444.5 591.5L444.7 590.6L444.8 589.7L445.1 588.8L445.2 587.8L445.4 586.6L446.1 585.8L446.9 585.1L447.3 584.2L447.6 583.3L448.1 582.6L448.6 581.9L449.4 581.4L450.4 581.1L451.4 580.7L452.3 580.3L453.3 580.6L454.3 581.0L455.3 581.0L456.2 580.7L457.0 580.0L457.7 578.9L458.7 578.2L459.2 577.5L459.5 576.6L460.0 575.8L460.7 575.1L461.1 574.3L461.4 573.5L461.9 572.7L462.2 571.8L462.7 570.8L463.6 570.2L464.5 569.7L465.0 568.8L465.7 567.9L466.5 567.2Z" fill="none" stroke="#6E2A62" stroke-opacity="1" stroke-width="1.08" stroke-linejoin="round"/>
</g>
<path clip-path="url(#c00)" d="M146.50 183.50 V36.00" stroke="#000" stroke-width="1.0" stroke-dasharray="3.7 1.6" fill="none"/>
<path clip-path="url(#c10)" d="M146.50 338.50 V190.84" stroke="#000" stroke-width="1.0" stroke-dasharray="3.7 1.6" fill="none"/>
<path clip-path="url(#c10)" d="M72.50 265.50 H219.47" stroke="#000" stroke-width="1.0" stroke-dasharray="3.7 1.6" fill="none"/>
<path clip-path="url(#c11)" d="M301.50 338.50 V190.84" stroke="#000" stroke-width="1.0" stroke-dasharray="3.7 1.6" fill="none"/>
<path clip-path="url(#c20)" d="M146.50 493.50 V345.68" stroke="#000" stroke-width="1.0" stroke-dasharray="3.7 1.6" fill="none"/>
<path clip-path="url(#c20)" d="M72.50 419.50 H219.47" stroke="#000" stroke-width="1.0" stroke-dasharray="3.7 1.6" fill="none"/>
<path clip-path="url(#c21)" d="M301.50 493.50 V345.68" stroke="#000" stroke-width="1.0" stroke-dasharray="3.7 1.6" fill="none"/>
<path clip-path="url(#c21)" d="M226.50 419.50 H374.31" stroke="#000" stroke-width="1.0" stroke-dasharray="3.7 1.6" fill="none"/>
<path clip-path="url(#c22)" d="M455.50 493.50 V345.68" stroke="#000" stroke-width="1.0" stroke-dasharray="3.7 1.6" fill="none"/>
<path clip-path="url(#c30)" d="M146.50 647.50 V500.52" stroke="#000" stroke-width="1.0" stroke-dasharray="3.7 1.6" fill="none"/>
<path clip-path="url(#c30)" d="M72.50 574.50 H219.47" stroke="#000" stroke-width="1.0" stroke-dasharray="3.7 1.6" fill="none"/>
<path clip-path="url(#c31)" d="M301.50 647.50 V500.52" stroke="#000" stroke-width="1.0" stroke-dasharray="3.7 1.6" fill="none"/>
<path clip-path="url(#c31)" d="M226.50 574.50 H374.31" stroke="#000" stroke-width="1.0" stroke-dasharray="3.7 1.6" fill="none"/>
<path clip-path="url(#c32)" d="M455.50 647.50 V500.52" stroke="#000" stroke-width="1.0" stroke-dasharray="3.7 1.6" fill="none"/>
<path clip-path="url(#c32)" d="M381.50 574.50 H529.15" stroke="#000" stroke-width="1.0" stroke-dasharray="3.7 1.6" fill="none"/>
<path clip-path="url(#c33)" d="M610.50 647.50 V500.52" stroke="#000" stroke-width="1.0" stroke-dasharray="3.7 1.6" fill="none"/>
<text y="75.5" font-size="33.8" fill="#80F8EC" stroke="#fff" stroke-width="0.45"><tspan x="327.2" textLength="123" lengthAdjust="spacingAndGlyphs">reference</tspan> <tspan x="459.4" textLength="123.8" lengthAdjust="spacingAndGlyphs">posterior</tspan></text>
<text y="127" font-size="33.8" fill="#96589A" stroke="#fff" stroke-width="0.45"><tspan x="326.0" textLength="36.8" lengthAdjust="spacingAndGlyphs">50</tspan> <tspan x="371.0" textLength="156.8" lengthAdjust="spacingAndGlyphs">simulations</tspan> <tspan x="537.8" textLength="47.2" lengthAdjust="spacingAndGlyphs">and</tspan> <tspan x="596.0" textLength="72.8" lengthAdjust="spacingAndGlyphs">score</tspan></text>
</svg></body></html>
